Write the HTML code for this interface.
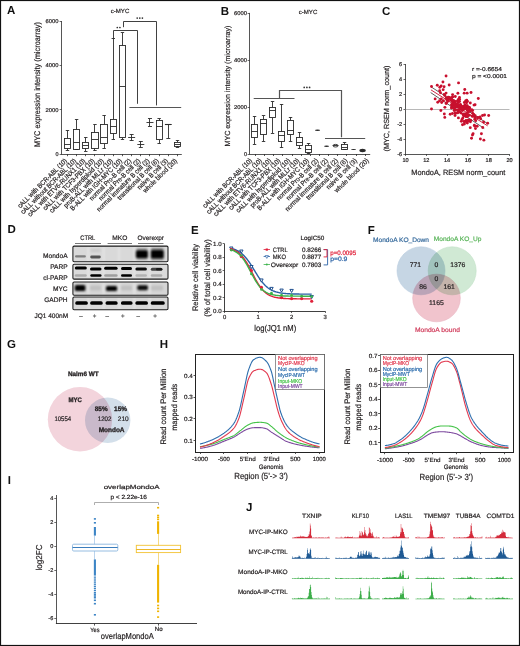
<!DOCTYPE html>
<html><head><meta charset="utf-8"><style>
html,body{margin:0;padding:0;background:#fff;overflow:hidden;}
svg{display:block;font-family:"Liberation Sans", sans-serif;will-change:transform;text-rendering:geometricPrecision;}
</style></head><body>
<svg width="520" height="646" viewBox="0 0 520 646">
<rect width="520" height="646" fill="#fff"/>
<defs>
<filter id="bl7" x="-50%" y="-80%" width="200%" height="260%"><feGaussianBlur stdDeviation="0.7"/></filter>
<filter id="bl8" x="-50%" y="-80%" width="200%" height="260%"><feGaussianBlur stdDeviation="0.8"/></filter>
<filter id="bl9" x="-50%" y="-80%" width="200%" height="260%"><feGaussianBlur stdDeviation="0.9"/></filter>
<filter id="bl10" x="-50%" y="-80%" width="200%" height="260%"><feGaussianBlur stdDeviation="1.0"/></filter>
<clipPath id="bc0"><rect x="72.9" y="246.1" width="95.1" height="15.700000000000017"/></clipPath>
<clipPath id="bc1"><rect x="72.9" y="264.2" width="95.1" height="14.900000000000034"/></clipPath>
<clipPath id="bc2"><rect x="72.9" y="282.0" width="95.1" height="13.300000000000011"/></clipPath>
<clipPath id="bc3"><rect x="72.9" y="297.0" width="95.1" height="12.699999999999989"/></clipPath>
</defs>
<rect x="0.50" y="0.50" width="519.00" height="645.00" fill="none" stroke="#111" stroke-width="1.2"/>
<text x="7.00" y="14.40" font-size="11.5" fill="#111" font-weight="bold">A</text>
<line x1="59.60" y1="154.50" x2="61.60" y2="154.50" stroke="#2b2b2b" stroke-width="0.7"/>
<text x="58.50" y="156.10" font-size="5.5" fill="#231f20" stroke="#231f20" stroke-width="0.2" text-anchor="end">0</text>
<line x1="59.60" y1="109.50" x2="61.60" y2="109.50" stroke="#2b2b2b" stroke-width="0.7"/>
<text x="58.50" y="111.70" font-size="5.5" fill="#231f20" stroke="#231f20" stroke-width="0.2" text-anchor="end" textLength="13.00" lengthAdjust="spacingAndGlyphs">2000</text>
<line x1="59.60" y1="65.50" x2="61.60" y2="65.50" stroke="#2b2b2b" stroke-width="0.7"/>
<text x="58.50" y="67.30" font-size="5.5" fill="#231f20" stroke="#231f20" stroke-width="0.2" text-anchor="end" textLength="13.00" lengthAdjust="spacingAndGlyphs">4000</text>
<line x1="59.60" y1="21.50" x2="61.60" y2="21.50" stroke="#2b2b2b" stroke-width="0.7"/>
<text x="58.50" y="22.90" font-size="5.5" fill="#231f20" stroke="#231f20" stroke-width="0.2" text-anchor="end" textLength="13.00" lengthAdjust="spacingAndGlyphs">6000</text>
<text x="39.60" y="84.50" font-size="8.2" fill="#231f20" stroke="#231f20" stroke-width="0.2" text-anchor="middle" textLength="125.00" lengthAdjust="spacingAndGlyphs" transform="rotate(-90 39.60 84.50)">MYC expression intensity (microarray)</text>
<text x="120.00" y="13.30" font-size="6.0" fill="#231f20" stroke="#231f20" stroke-width="0.2" text-anchor="middle" textLength="18.60" lengthAdjust="spacingAndGlyphs">c-MYC</text>
<line x1="61.50" y1="21.00" x2="61.50" y2="154.60" stroke="#2b2b2b" stroke-width="0.8"/>
<line x1="61.20" y1="154.50" x2="181.80" y2="154.50" stroke="#2b2b2b" stroke-width="0.8"/>
<line x1="67.50" y1="154.20" x2="67.50" y2="156.20" stroke="#2b2b2b" stroke-width="0.8"/>
<line x1="76.50" y1="154.20" x2="76.50" y2="156.20" stroke="#2b2b2b" stroke-width="0.8"/>
<line x1="85.50" y1="154.20" x2="85.50" y2="156.20" stroke="#2b2b2b" stroke-width="0.8"/>
<line x1="94.50" y1="154.20" x2="94.50" y2="156.20" stroke="#2b2b2b" stroke-width="0.8"/>
<line x1="104.50" y1="154.20" x2="104.50" y2="156.20" stroke="#2b2b2b" stroke-width="0.8"/>
<line x1="113.50" y1="154.20" x2="113.50" y2="156.20" stroke="#2b2b2b" stroke-width="0.8"/>
<line x1="122.50" y1="154.20" x2="122.50" y2="156.20" stroke="#2b2b2b" stroke-width="0.8"/>
<line x1="131.50" y1="154.20" x2="131.50" y2="156.20" stroke="#2b2b2b" stroke-width="0.8"/>
<line x1="140.50" y1="154.20" x2="140.50" y2="156.20" stroke="#2b2b2b" stroke-width="0.8"/>
<line x1="149.50" y1="154.20" x2="149.50" y2="156.20" stroke="#2b2b2b" stroke-width="0.8"/>
<line x1="159.50" y1="154.20" x2="159.50" y2="156.20" stroke="#2b2b2b" stroke-width="0.8"/>
<line x1="168.50" y1="154.20" x2="168.50" y2="156.20" stroke="#2b2b2b" stroke-width="0.8"/>
<line x1="177.50" y1="154.20" x2="177.50" y2="156.20" stroke="#2b2b2b" stroke-width="0.8"/>
<line x1="67.50" y1="130.40" x2="67.50" y2="138.20" stroke="#2b2b2b" stroke-width="0.9"/>
<line x1="67.50" y1="148.10" x2="67.50" y2="150.30" stroke="#2b2b2b" stroke-width="0.9"/>
<line x1="65.75" y1="130.50" x2="69.15" y2="130.50" stroke="#2b2b2b" stroke-width="0.9"/>
<line x1="65.75" y1="150.50" x2="69.15" y2="150.50" stroke="#2b2b2b" stroke-width="0.9"/>
<rect x="64.50" y="138.50" width="6.00" height="10.00" fill="none" stroke="#2b2b2b" stroke-width="0.9"/>
<line x1="64.30" y1="144.50" x2="70.60" y2="144.50" stroke="#2b2b2b" stroke-width="0.9"/>
<line x1="76.50" y1="119.30" x2="76.50" y2="129.40" stroke="#2b2b2b" stroke-width="0.9"/>
<line x1="76.50" y1="149.50" x2="76.50" y2="149.90" stroke="#2b2b2b" stroke-width="0.9"/>
<line x1="74.92" y1="119.50" x2="78.32" y2="119.50" stroke="#2b2b2b" stroke-width="0.9"/>
<line x1="74.92" y1="149.50" x2="78.32" y2="149.50" stroke="#2b2b2b" stroke-width="0.9"/>
<rect x="73.50" y="129.50" width="6.00" height="20.00" fill="none" stroke="#2b2b2b" stroke-width="0.9"/>
<line x1="73.47" y1="142.50" x2="79.77" y2="142.50" stroke="#2b2b2b" stroke-width="0.9"/>
<line x1="85.50" y1="137.40" x2="85.50" y2="142.50" stroke="#2b2b2b" stroke-width="0.9"/>
<line x1="85.50" y1="148.30" x2="85.50" y2="151.20" stroke="#2b2b2b" stroke-width="0.9"/>
<line x1="84.09" y1="137.50" x2="87.49" y2="137.50" stroke="#2b2b2b" stroke-width="0.9"/>
<line x1="84.09" y1="151.50" x2="87.49" y2="151.50" stroke="#2b2b2b" stroke-width="0.9"/>
<rect x="82.50" y="142.50" width="6.00" height="6.00" fill="none" stroke="#2b2b2b" stroke-width="0.9"/>
<line x1="82.64" y1="145.50" x2="88.94" y2="145.50" stroke="#2b2b2b" stroke-width="0.9"/>
<line x1="94.50" y1="124.70" x2="94.50" y2="132.40" stroke="#2b2b2b" stroke-width="0.9"/>
<line x1="94.50" y1="148.50" x2="94.50" y2="150.60" stroke="#2b2b2b" stroke-width="0.9"/>
<line x1="93.26" y1="124.50" x2="96.66" y2="124.50" stroke="#2b2b2b" stroke-width="0.9"/>
<line x1="93.26" y1="150.50" x2="96.66" y2="150.50" stroke="#2b2b2b" stroke-width="0.9"/>
<rect x="91.50" y="132.50" width="7.00" height="16.00" fill="none" stroke="#2b2b2b" stroke-width="0.9"/>
<line x1="91.81" y1="139.50" x2="98.11" y2="139.50" stroke="#2b2b2b" stroke-width="0.9"/>
<line x1="104.50" y1="115.30" x2="104.50" y2="124.30" stroke="#2b2b2b" stroke-width="0.9"/>
<line x1="104.50" y1="143.60" x2="104.50" y2="148.10" stroke="#2b2b2b" stroke-width="0.9"/>
<line x1="102.43" y1="115.50" x2="105.83" y2="115.50" stroke="#2b2b2b" stroke-width="0.9"/>
<line x1="102.43" y1="148.50" x2="105.83" y2="148.50" stroke="#2b2b2b" stroke-width="0.9"/>
<rect x="100.50" y="124.50" width="7.00" height="19.00" fill="none" stroke="#2b2b2b" stroke-width="0.9"/>
<line x1="100.98" y1="137.50" x2="107.28" y2="137.50" stroke="#2b2b2b" stroke-width="0.9"/>
<line x1="113.50" y1="38.50" x2="113.50" y2="119.30" stroke="#2b2b2b" stroke-width="0.9"/>
<line x1="113.50" y1="133.30" x2="113.50" y2="139.10" stroke="#2b2b2b" stroke-width="0.9"/>
<line x1="111.60" y1="38.50" x2="115.00" y2="38.50" stroke="#2b2b2b" stroke-width="0.9"/>
<line x1="111.60" y1="139.50" x2="115.00" y2="139.50" stroke="#2b2b2b" stroke-width="0.9"/>
<rect x="110.50" y="119.50" width="6.00" height="14.00" fill="none" stroke="#2b2b2b" stroke-width="0.9"/>
<line x1="110.15" y1="126.50" x2="116.45" y2="126.50" stroke="#2b2b2b" stroke-width="0.9"/>
<line x1="122.50" y1="32.70" x2="122.50" y2="45.60" stroke="#2b2b2b" stroke-width="0.9"/>
<line x1="122.50" y1="137.80" x2="122.50" y2="139.50" stroke="#2b2b2b" stroke-width="0.9"/>
<line x1="120.77" y1="32.50" x2="124.17" y2="32.50" stroke="#2b2b2b" stroke-width="0.9"/>
<line x1="120.77" y1="139.50" x2="124.17" y2="139.50" stroke="#2b2b2b" stroke-width="0.9"/>
<rect x="119.50" y="45.50" width="6.00" height="92.00" fill="none" stroke="#2b2b2b" stroke-width="0.9"/>
<line x1="119.32" y1="86.50" x2="125.62" y2="86.50" stroke="#2b2b2b" stroke-width="0.9"/>
<line x1="131.50" y1="134.50" x2="131.50" y2="140.90" stroke="#2b2b2b" stroke-width="0.9"/>
<line x1="129.64" y1="134.50" x2="133.64" y2="134.50" stroke="#2b2b2b" stroke-width="0.9"/>
<line x1="129.64" y1="140.50" x2="133.64" y2="140.50" stroke="#2b2b2b" stroke-width="0.9"/>
<line x1="128.14" y1="137.50" x2="135.14" y2="137.50" stroke="#2b2b2b" stroke-width="0.9"/>
<line x1="140.50" y1="141.20" x2="140.50" y2="147.20" stroke="#2b2b2b" stroke-width="0.9"/>
<line x1="138.81" y1="141.50" x2="142.81" y2="141.50" stroke="#2b2b2b" stroke-width="0.9"/>
<line x1="138.81" y1="147.50" x2="142.81" y2="147.50" stroke="#2b2b2b" stroke-width="0.9"/>
<line x1="137.31" y1="144.50" x2="144.31" y2="144.50" stroke="#2b2b2b" stroke-width="0.9"/>
<line x1="149.50" y1="118.70" x2="149.50" y2="126.20" stroke="#2b2b2b" stroke-width="0.9"/>
<line x1="147.98" y1="118.50" x2="151.98" y2="118.50" stroke="#2b2b2b" stroke-width="0.9"/>
<line x1="147.98" y1="126.50" x2="151.98" y2="126.50" stroke="#2b2b2b" stroke-width="0.9"/>
<line x1="146.48" y1="122.50" x2="153.48" y2="122.50" stroke="#2b2b2b" stroke-width="0.9"/>
<line x1="159.50" y1="118.70" x2="159.50" y2="120.40" stroke="#2b2b2b" stroke-width="0.9"/>
<line x1="159.50" y1="139.80" x2="159.50" y2="143.50" stroke="#2b2b2b" stroke-width="0.9"/>
<line x1="157.45" y1="118.50" x2="160.85" y2="118.50" stroke="#2b2b2b" stroke-width="0.9"/>
<line x1="157.45" y1="143.50" x2="160.85" y2="143.50" stroke="#2b2b2b" stroke-width="0.9"/>
<rect x="156.50" y="120.50" width="6.00" height="19.00" fill="none" stroke="#2b2b2b" stroke-width="0.9"/>
<line x1="156.00" y1="126.50" x2="162.30" y2="126.50" stroke="#2b2b2b" stroke-width="0.9"/>
<line x1="168.50" y1="124.40" x2="168.50" y2="138.30" stroke="#2b2b2b" stroke-width="0.9"/>
<line x1="164.92" y1="124.50" x2="171.72" y2="124.50" stroke="#2b2b2b" stroke-width="1.08"/>
<line x1="166.32" y1="138.50" x2="170.32" y2="138.50" stroke="#2b2b2b" stroke-width="0.9"/>
<line x1="177.50" y1="140.20" x2="177.50" y2="142.10" stroke="#2b2b2b" stroke-width="0.9"/>
<line x1="177.50" y1="146.00" x2="177.50" y2="147.20" stroke="#2b2b2b" stroke-width="0.9"/>
<line x1="175.79" y1="140.50" x2="179.19" y2="140.50" stroke="#2b2b2b" stroke-width="0.9"/>
<line x1="175.79" y1="147.50" x2="179.19" y2="147.50" stroke="#2b2b2b" stroke-width="0.9"/>
<rect x="174.50" y="142.50" width="6.00" height="4.00" fill="none" stroke="#2b2b2b" stroke-width="0.9"/>
<line x1="174.34" y1="144.50" x2="180.64" y2="144.50" stroke="#2b2b2b" stroke-width="0.9"/>
<path d="M113.5,38.5 V30.5 H137.5 V103.8" stroke="#2b2b2b" stroke-width="0.9" fill="none"/>
<path d="M123.5,27.2 V21.5 H156.5 V105.4" stroke="#2b2b2b" stroke-width="0.9" fill="none"/>
<line x1="129.40" y1="107.50" x2="181.20" y2="107.50" stroke="#2b2b2b" stroke-width="0.8"/>
<circle cx="117.30" cy="27.50" r="0.85" fill="#333" stroke="none" stroke-width="0.8"/>
<circle cx="119.90" cy="27.50" r="0.85" fill="#333" stroke="none" stroke-width="0.8"/>
<circle cx="137.20" cy="18.10" r="0.85" fill="#333" stroke="none" stroke-width="0.8"/>
<circle cx="139.80" cy="18.10" r="0.85" fill="#333" stroke="none" stroke-width="0.8"/>
<circle cx="142.40" cy="18.10" r="0.85" fill="#333" stroke="none" stroke-width="0.8"/>
<text x="0" y="0" font-size="6.8" fill="#231f20" stroke="#231f20" stroke-width="0.2" text-anchor="end" transform="translate(67.45 161.30) rotate(-45) scale(0.9 1)">cALL with BCR-ABL (10)</text>
<text x="0" y="0" font-size="6.8" fill="#231f20" stroke="#231f20" stroke-width="0.2" text-anchor="end" transform="translate(76.62 161.30) rotate(-45) scale(0.9 1)">cALL without BCR-ABL (10)</text>
<text x="0" y="0" font-size="6.8" fill="#231f20" stroke="#231f20" stroke-width="0.2" text-anchor="end" transform="translate(85.79 161.30) rotate(-45) scale(0.9 1)">cALL with ETV6-RUNX1 (10)</text>
<text x="0" y="0" font-size="6.8" fill="#231f20" stroke="#231f20" stroke-width="0.2" text-anchor="end" transform="translate(94.96 161.30) rotate(-45) scale(0.9 1)">cALL with TCF3-PBX (10)</text>
<text x="0" y="0" font-size="6.8" fill="#231f20" stroke="#231f20" stroke-width="0.2" text-anchor="end" transform="translate(104.13 161.30) rotate(-45) scale(0.9 1)">cALL with hyperdiploid (10)</text>
<text x="0" y="0" font-size="6.8" fill="#231f20" stroke="#231f20" stroke-width="0.2" text-anchor="end" transform="translate(113.30 161.30) rotate(-45) scale(0.9 1)">proB-ALL with MLLr (10)</text>
<text x="0" y="0" font-size="6.8" fill="#231f20" stroke="#231f20" stroke-width="0.2" text-anchor="end" transform="translate(122.47 161.30) rotate(-45) scale(0.9 1)">B-ALL with IGH-MYC (10)</text>
<text x="0" y="0" font-size="6.8" fill="#231f20" stroke="#231f20" stroke-width="0.2" text-anchor="end" transform="translate(131.64 161.30) rotate(-45) scale(0.9 1)">normal Pro-B cell (2)</text>
<text x="0" y="0" font-size="6.8" fill="#231f20" stroke="#231f20" stroke-width="0.2" text-anchor="end" transform="translate(140.81 161.30) rotate(-45) scale(0.9 1)">normal Pre-B cell (2)</text>
<text x="0" y="0" font-size="6.8" fill="#231f20" stroke="#231f20" stroke-width="0.2" text-anchor="end" transform="translate(149.98 161.30) rotate(-45) scale(0.9 1)">normal immature B cell (2)</text>
<text x="0" y="0" font-size="6.8" fill="#231f20" stroke="#231f20" stroke-width="0.2" text-anchor="end" transform="translate(159.15 161.30) rotate(-45) scale(0.9 1)">transitional B cell (6)</text>
<text x="0" y="0" font-size="6.8" fill="#231f20" stroke="#231f20" stroke-width="0.2" text-anchor="end" transform="translate(168.32 161.30) rotate(-45) scale(0.9 1)">naive B cell (3)</text>
<text x="0" y="0" font-size="6.8" fill="#231f20" stroke="#231f20" stroke-width="0.2" text-anchor="end" transform="translate(177.49 161.30) rotate(-45) scale(0.9 1)">whole blood (20)</text>
<text x="220.80" y="14.90" font-size="11.5" fill="#111" font-weight="bold">B</text>
<line x1="247.60" y1="154.50" x2="249.60" y2="154.50" stroke="#2b2b2b" stroke-width="0.7"/>
<text x="247.00" y="155.90" font-size="5.5" fill="#231f20" stroke="#231f20" stroke-width="0.2" text-anchor="end">0</text>
<line x1="247.60" y1="107.50" x2="249.60" y2="107.50" stroke="#2b2b2b" stroke-width="0.7"/>
<text x="247.00" y="108.90" font-size="5.5" fill="#231f20" stroke="#231f20" stroke-width="0.2" text-anchor="end" textLength="13.00" lengthAdjust="spacingAndGlyphs">2000</text>
<line x1="247.60" y1="60.50" x2="249.60" y2="60.50" stroke="#2b2b2b" stroke-width="0.7"/>
<text x="247.00" y="61.90" font-size="5.5" fill="#231f20" stroke="#231f20" stroke-width="0.2" text-anchor="end" textLength="13.00" lengthAdjust="spacingAndGlyphs">4000</text>
<line x1="247.60" y1="13.50" x2="249.60" y2="13.50" stroke="#2b2b2b" stroke-width="0.7"/>
<text x="247.00" y="14.90" font-size="5.5" fill="#231f20" stroke="#231f20" stroke-width="0.2" text-anchor="end" textLength="13.00" lengthAdjust="spacingAndGlyphs">6000</text>
<text x="230.30" y="86.00" font-size="7.4" fill="#231f20" stroke="#231f20" stroke-width="0.2" text-anchor="middle" textLength="121.00" lengthAdjust="spacingAndGlyphs" transform="rotate(-90 230.30 86.00)">MYC expression intensity (microarray)</text>
<text x="308.00" y="14.00" font-size="6.0" fill="#231f20" stroke="#231f20" stroke-width="0.2" text-anchor="middle" textLength="18.60" lengthAdjust="spacingAndGlyphs">c-MYC</text>
<line x1="249.50" y1="12.90" x2="249.50" y2="154.40" stroke="#2b2b2b" stroke-width="0.8"/>
<line x1="249.20" y1="154.50" x2="370.20" y2="154.50" stroke="#2b2b2b" stroke-width="0.8"/>
<line x1="255.50" y1="154.00" x2="255.50" y2="156.00" stroke="#2b2b2b" stroke-width="0.8"/>
<line x1="264.50" y1="154.00" x2="264.50" y2="156.00" stroke="#2b2b2b" stroke-width="0.8"/>
<line x1="273.50" y1="154.00" x2="273.50" y2="156.00" stroke="#2b2b2b" stroke-width="0.8"/>
<line x1="282.50" y1="154.00" x2="282.50" y2="156.00" stroke="#2b2b2b" stroke-width="0.8"/>
<line x1="292.50" y1="154.00" x2="292.50" y2="156.00" stroke="#2b2b2b" stroke-width="0.8"/>
<line x1="301.50" y1="154.00" x2="301.50" y2="156.00" stroke="#2b2b2b" stroke-width="0.8"/>
<line x1="310.50" y1="154.00" x2="310.50" y2="156.00" stroke="#2b2b2b" stroke-width="0.8"/>
<line x1="319.50" y1="154.00" x2="319.50" y2="156.00" stroke="#2b2b2b" stroke-width="0.8"/>
<line x1="328.50" y1="154.00" x2="328.50" y2="156.00" stroke="#2b2b2b" stroke-width="0.8"/>
<line x1="337.50" y1="154.00" x2="337.50" y2="156.00" stroke="#2b2b2b" stroke-width="0.8"/>
<line x1="346.50" y1="154.00" x2="346.50" y2="156.00" stroke="#2b2b2b" stroke-width="0.8"/>
<line x1="356.50" y1="154.00" x2="356.50" y2="156.00" stroke="#2b2b2b" stroke-width="0.8"/>
<line x1="365.50" y1="154.00" x2="365.50" y2="156.00" stroke="#2b2b2b" stroke-width="0.8"/>
<line x1="254.50" y1="116.30" x2="254.50" y2="124.60" stroke="#2b2b2b" stroke-width="0.9"/>
<line x1="254.50" y1="137.40" x2="254.50" y2="144.10" stroke="#2b2b2b" stroke-width="0.9"/>
<line x1="252.85" y1="116.50" x2="256.25" y2="116.50" stroke="#2b2b2b" stroke-width="0.9"/>
<line x1="252.85" y1="144.50" x2="256.25" y2="144.50" stroke="#2b2b2b" stroke-width="0.9"/>
<rect x="251.50" y="124.50" width="6.00" height="13.00" fill="none" stroke="#2b2b2b" stroke-width="0.9"/>
<line x1="251.40" y1="131.50" x2="257.70" y2="131.50" stroke="#2b2b2b" stroke-width="0.9"/>
<line x1="263.50" y1="115.90" x2="263.50" y2="119.20" stroke="#2b2b2b" stroke-width="0.9"/>
<line x1="263.50" y1="134.30" x2="263.50" y2="141.40" stroke="#2b2b2b" stroke-width="0.9"/>
<line x1="261.85" y1="115.50" x2="265.25" y2="115.50" stroke="#2b2b2b" stroke-width="0.9"/>
<line x1="261.85" y1="141.50" x2="265.25" y2="141.50" stroke="#2b2b2b" stroke-width="0.9"/>
<rect x="260.50" y="119.50" width="6.00" height="15.00" fill="none" stroke="#2b2b2b" stroke-width="0.9"/>
<line x1="260.40" y1="123.50" x2="266.70" y2="123.50" stroke="#2b2b2b" stroke-width="0.9"/>
<line x1="272.50" y1="101.50" x2="272.50" y2="107.80" stroke="#2b2b2b" stroke-width="0.9"/>
<line x1="272.50" y1="117.90" x2="272.50" y2="133.00" stroke="#2b2b2b" stroke-width="0.9"/>
<line x1="270.85" y1="101.50" x2="274.25" y2="101.50" stroke="#2b2b2b" stroke-width="0.9"/>
<line x1="270.85" y1="133.50" x2="274.25" y2="133.50" stroke="#2b2b2b" stroke-width="0.9"/>
<rect x="269.50" y="107.50" width="6.00" height="10.00" fill="none" stroke="#2b2b2b" stroke-width="0.9"/>
<line x1="269.40" y1="110.50" x2="275.70" y2="110.50" stroke="#2b2b2b" stroke-width="0.9"/>
<line x1="281.50" y1="104.20" x2="281.50" y2="131.60" stroke="#2b2b2b" stroke-width="0.9"/>
<line x1="281.50" y1="141.20" x2="281.50" y2="147.80" stroke="#2b2b2b" stroke-width="0.9"/>
<line x1="279.85" y1="104.50" x2="283.25" y2="104.50" stroke="#2b2b2b" stroke-width="0.9"/>
<line x1="279.85" y1="147.50" x2="283.25" y2="147.50" stroke="#2b2b2b" stroke-width="0.9"/>
<rect x="278.50" y="131.50" width="6.00" height="10.00" fill="none" stroke="#2b2b2b" stroke-width="0.9"/>
<line x1="278.40" y1="135.50" x2="284.70" y2="135.50" stroke="#2b2b2b" stroke-width="0.9"/>
<line x1="290.50" y1="117.20" x2="290.50" y2="120.20" stroke="#2b2b2b" stroke-width="0.9"/>
<line x1="290.50" y1="134.40" x2="290.50" y2="141.40" stroke="#2b2b2b" stroke-width="0.9"/>
<line x1="288.85" y1="117.50" x2="292.25" y2="117.50" stroke="#2b2b2b" stroke-width="0.9"/>
<line x1="288.85" y1="141.50" x2="292.25" y2="141.50" stroke="#2b2b2b" stroke-width="0.9"/>
<rect x="287.50" y="120.50" width="6.00" height="14.00" fill="none" stroke="#2b2b2b" stroke-width="0.9"/>
<line x1="287.40" y1="130.50" x2="293.70" y2="130.50" stroke="#2b2b2b" stroke-width="0.9"/>
<line x1="299.50" y1="132.30" x2="299.50" y2="137.80" stroke="#2b2b2b" stroke-width="0.9"/>
<line x1="299.50" y1="145.10" x2="299.50" y2="148.20" stroke="#2b2b2b" stroke-width="0.9"/>
<line x1="297.85" y1="132.50" x2="301.25" y2="132.50" stroke="#2b2b2b" stroke-width="0.9"/>
<line x1="297.85" y1="148.50" x2="301.25" y2="148.50" stroke="#2b2b2b" stroke-width="0.9"/>
<rect x="296.50" y="137.50" width="6.00" height="8.00" fill="none" stroke="#2b2b2b" stroke-width="0.9"/>
<line x1="296.40" y1="142.50" x2="302.70" y2="142.50" stroke="#2b2b2b" stroke-width="0.9"/>
<line x1="308.50" y1="143.20" x2="308.50" y2="145.50" stroke="#2b2b2b" stroke-width="0.9"/>
<line x1="308.50" y1="152.60" x2="308.50" y2="153.60" stroke="#2b2b2b" stroke-width="0.9"/>
<line x1="306.85" y1="143.50" x2="310.25" y2="143.50" stroke="#2b2b2b" stroke-width="0.9"/>
<line x1="306.85" y1="153.50" x2="310.25" y2="153.50" stroke="#2b2b2b" stroke-width="0.9"/>
<rect x="305.50" y="145.50" width="6.00" height="7.00" fill="none" stroke="#2b2b2b" stroke-width="0.9"/>
<line x1="305.40" y1="149.50" x2="311.70" y2="149.50" stroke="#2b2b2b" stroke-width="0.9"/>
<ellipse cx="317.55" cy="130.30" rx="2.60" ry="0.75" fill="#2b2b2b"/>
<ellipse cx="326.55" cy="146.20" rx="2.50" ry="0.80" fill="#2b2b2b"/>
<ellipse cx="335.55" cy="145.70" rx="2.60" ry="1.30" fill="none" stroke="#2b2b2b" stroke-width="0.9"/>
<line x1="332.95" y1="145.50" x2="338.15" y2="145.50" stroke="#2b2b2b" stroke-width="0.9"/>
<line x1="344.50" y1="142.30" x2="344.50" y2="144.60" stroke="#2b2b2b" stroke-width="0.9"/>
<line x1="344.50" y1="149.60" x2="344.50" y2="149.80" stroke="#2b2b2b" stroke-width="0.9"/>
<line x1="342.85" y1="142.50" x2="346.25" y2="142.50" stroke="#2b2b2b" stroke-width="0.9"/>
<line x1="342.85" y1="149.50" x2="346.25" y2="149.50" stroke="#2b2b2b" stroke-width="0.9"/>
<rect x="341.50" y="144.50" width="6.00" height="5.00" fill="none" stroke="#2b2b2b" stroke-width="0.9"/>
<line x1="341.40" y1="147.50" x2="347.70" y2="147.50" stroke="#2b2b2b" stroke-width="0.9"/>
<ellipse cx="353.55" cy="149.50" rx="2.50" ry="0.50" fill="#2b2b2b"/>
<ellipse cx="362.55" cy="150.50" rx="3.20" ry="1.70" fill="#2b2b2b"/>
<line x1="253.70" y1="98.50" x2="294.50" y2="98.50" stroke="#555" stroke-width="1.2"/>
<path d="M279.5,98.8 V90.5 H341.5 V137.2" stroke="#555" stroke-width="1.2" fill="none"/>
<line x1="325.00" y1="138.50" x2="365.20" y2="138.50" stroke="#555" stroke-width="1.2"/>
<circle cx="304.20" cy="87.40" r="0.85" fill="#333" stroke="none" stroke-width="0.8"/>
<circle cx="306.90" cy="87.40" r="0.85" fill="#333" stroke="none" stroke-width="0.8"/>
<circle cx="309.60" cy="87.40" r="0.85" fill="#333" stroke="none" stroke-width="0.8"/>
<text x="0" y="0" font-size="6.8" fill="#231f20" stroke="#231f20" stroke-width="0.2" text-anchor="end" transform="translate(252.50 161.10) rotate(-45) scale(0.9 1)">cALL with BCR-ABL (10)</text>
<text x="0" y="0" font-size="6.8" fill="#231f20" stroke="#231f20" stroke-width="0.2" text-anchor="end" transform="translate(262.30 161.10) rotate(-45) scale(0.9 1)">cALL without BCR-ABL (10)</text>
<text x="0" y="0" font-size="6.8" fill="#231f20" stroke="#231f20" stroke-width="0.2" text-anchor="end" transform="translate(271.60 161.10) rotate(-45) scale(0.9 1)">cALL with ETV6-RUNX1 (10)</text>
<text x="0" y="0" font-size="6.8" fill="#231f20" stroke="#231f20" stroke-width="0.2" text-anchor="end" transform="translate(280.80 161.10) rotate(-45) scale(0.9 1)">cALL with TCF3-PBX (10)</text>
<text x="0" y="0" font-size="6.8" fill="#231f20" stroke="#231f20" stroke-width="0.2" text-anchor="end" transform="translate(290.60 161.10) rotate(-45) scale(0.9 1)">cALL with hyperdiploid (10)</text>
<text x="0" y="0" font-size="6.8" fill="#231f20" stroke="#231f20" stroke-width="0.2" text-anchor="end" transform="translate(299.80 161.10) rotate(-45) scale(0.9 1)">proB-ALL with MLLr (10)</text>
<text x="0" y="0" font-size="6.8" fill="#231f20" stroke="#231f20" stroke-width="0.2" text-anchor="end" transform="translate(309.30 161.10) rotate(-45) scale(0.9 1)">B-ALL with IGH-MYC (10)</text>
<text x="0" y="0" font-size="6.8" fill="#231f20" stroke="#231f20" stroke-width="0.2" text-anchor="end" transform="translate(318.80 161.10) rotate(-45) scale(0.9 1)">normal Pro-B cell (2)</text>
<text x="0" y="0" font-size="6.8" fill="#231f20" stroke="#231f20" stroke-width="0.2" text-anchor="end" transform="translate(328.40 161.10) rotate(-45) scale(0.9 1)">normal Pre-B cell (2)</text>
<text x="0" y="0" font-size="6.8" fill="#231f20" stroke="#231f20" stroke-width="0.2" text-anchor="end" transform="translate(338.40 161.10) rotate(-45) scale(0.9 1)">normal immature B cell (2)</text>
<text x="0" y="0" font-size="6.8" fill="#231f20" stroke="#231f20" stroke-width="0.2" text-anchor="end" transform="translate(347.90 161.10) rotate(-45) scale(0.9 1)">transitional B cell (6)</text>
<text x="0" y="0" font-size="6.8" fill="#231f20" stroke="#231f20" stroke-width="0.2" text-anchor="end" transform="translate(357.40 161.10) rotate(-45) scale(0.9 1)">naive B cell (3)</text>
<text x="0" y="0" font-size="6.8" fill="#231f20" stroke="#231f20" stroke-width="0.2" text-anchor="end" transform="translate(369.10 161.10) rotate(-45) scale(0.9 1)">whole blood (20)</text>
<text x="381.90" y="14.90" font-size="11.5" fill="#111" font-weight="bold">C</text>
<line x1="405.50" y1="64.00" x2="405.50" y2="154.40" stroke="#2b2b2b" stroke-width="0.8"/>
<line x1="405.10" y1="154.50" x2="509.50" y2="154.50" stroke="#2b2b2b" stroke-width="0.8"/>
<line x1="403.50" y1="154.50" x2="405.50" y2="154.50" stroke="#2b2b2b" stroke-width="0.7"/>
<text x="402.20" y="155.90" font-size="5.6" fill="#231f20" stroke="#231f20" stroke-width="0.2" text-anchor="end">-6</text>
<line x1="403.50" y1="139.50" x2="405.50" y2="139.50" stroke="#2b2b2b" stroke-width="0.7"/>
<text x="402.20" y="140.90" font-size="5.6" fill="#231f20" stroke="#231f20" stroke-width="0.2" text-anchor="end">-4</text>
<line x1="403.50" y1="124.50" x2="405.50" y2="124.50" stroke="#2b2b2b" stroke-width="0.7"/>
<text x="402.20" y="125.90" font-size="5.6" fill="#231f20" stroke="#231f20" stroke-width="0.2" text-anchor="end">-2</text>
<line x1="403.50" y1="109.50" x2="405.50" y2="109.50" stroke="#2b2b2b" stroke-width="0.7"/>
<text x="402.20" y="110.90" font-size="5.6" fill="#231f20" stroke="#231f20" stroke-width="0.2" text-anchor="end">0</text>
<line x1="403.50" y1="94.50" x2="405.50" y2="94.50" stroke="#2b2b2b" stroke-width="0.7"/>
<text x="402.20" y="95.90" font-size="5.6" fill="#231f20" stroke="#231f20" stroke-width="0.2" text-anchor="end">2</text>
<line x1="403.50" y1="79.50" x2="405.50" y2="79.50" stroke="#2b2b2b" stroke-width="0.7"/>
<text x="402.20" y="80.90" font-size="5.6" fill="#231f20" stroke="#231f20" stroke-width="0.2" text-anchor="end">4</text>
<line x1="403.50" y1="64.50" x2="405.50" y2="64.50" stroke="#2b2b2b" stroke-width="0.7"/>
<text x="402.20" y="65.90" font-size="5.6" fill="#231f20" stroke="#231f20" stroke-width="0.2" text-anchor="end">6</text>
<line x1="405.50" y1="154.00" x2="405.50" y2="156.00" stroke="#2b2b2b" stroke-width="0.7"/>
<text x="405.50" y="162.00" font-size="5.6" fill="#231f20" stroke="#231f20" stroke-width="0.2" text-anchor="middle">10</text>
<line x1="426.50" y1="154.00" x2="426.50" y2="156.00" stroke="#2b2b2b" stroke-width="0.7"/>
<text x="426.30" y="162.00" font-size="5.6" fill="#231f20" stroke="#231f20" stroke-width="0.2" text-anchor="middle">12</text>
<line x1="447.50" y1="154.00" x2="447.50" y2="156.00" stroke="#2b2b2b" stroke-width="0.7"/>
<text x="447.10" y="162.00" font-size="5.6" fill="#231f20" stroke="#231f20" stroke-width="0.2" text-anchor="middle">14</text>
<line x1="467.50" y1="154.00" x2="467.50" y2="156.00" stroke="#2b2b2b" stroke-width="0.7"/>
<text x="467.90" y="162.00" font-size="5.6" fill="#231f20" stroke="#231f20" stroke-width="0.2" text-anchor="middle">16</text>
<line x1="488.50" y1="154.00" x2="488.50" y2="156.00" stroke="#2b2b2b" stroke-width="0.7"/>
<text x="488.70" y="162.00" font-size="5.6" fill="#231f20" stroke="#231f20" stroke-width="0.2" text-anchor="middle">18</text>
<line x1="509.50" y1="154.00" x2="509.50" y2="156.00" stroke="#2b2b2b" stroke-width="0.7"/>
<text x="509.50" y="162.00" font-size="5.6" fill="#231f20" stroke="#231f20" stroke-width="0.2" text-anchor="middle">20</text>
<line x1="405.50" y1="109.50" x2="509.50" y2="109.50" stroke="#9a9a9a" stroke-width="0.7"/>
<text x="388.80" y="108.50" font-size="7.4" fill="#231f20" stroke="#231f20" stroke-width="0.2" text-anchor="middle" textLength="86.00" lengthAdjust="spacingAndGlyphs" transform="rotate(-90 388.80 108.50)">(MYC, RSEM norm_count)</text>
<text x="458.30" y="175.30" font-size="7.6" fill="#231f20" stroke="#231f20" stroke-width="0.2" text-anchor="middle" textLength="94.00" lengthAdjust="spacingAndGlyphs">MondoA, RESM norm_count</text>
<text x="472.00" y="70.60" font-size="5.7" fill="#231f20" stroke="#231f20" stroke-width="0.2" textLength="30.00" lengthAdjust="spacingAndGlyphs">r =-0.6654</text>
<text x="472.00" y="78.20" font-size="5.7" fill="#231f20" stroke="#231f20" stroke-width="0.2" textLength="35.00" lengthAdjust="spacingAndGlyphs">p = &lt;0.0001</text>
<line x1="430.67" y1="92.58" x2="484.23" y2="128.50" stroke="#2a2a2a" stroke-width="0.75"/>
<line x1="430.98" y1="86.80" x2="486.93" y2="123.17" stroke="#2a2a2a" stroke-width="0.75"/>
<line x1="430.98" y1="89.88" x2="487.66" y2="125.88" stroke="#c8102e" stroke-width="0.9"/>
<circle cx="460.99" cy="108.87" r="1.45" fill="#c8102e" stroke="none" stroke-width="0.8"/>
<circle cx="475.47" cy="128.61" r="1.45" fill="#c8102e" stroke="none" stroke-width="0.8"/>
<circle cx="473.99" cy="105.09" r="1.45" fill="#c8102e" stroke="none" stroke-width="0.8"/>
<circle cx="455.05" cy="115.44" r="1.45" fill="#c8102e" stroke="none" stroke-width="0.8"/>
<circle cx="457.37" cy="103.39" r="1.45" fill="#c8102e" stroke="none" stroke-width="0.8"/>
<circle cx="454.86" cy="101.36" r="1.45" fill="#c8102e" stroke="none" stroke-width="0.8"/>
<circle cx="466.84" cy="122.42" r="1.45" fill="#c8102e" stroke="none" stroke-width="0.8"/>
<circle cx="460.01" cy="106.27" r="1.45" fill="#c8102e" stroke="none" stroke-width="0.8"/>
<circle cx="468.78" cy="107.13" r="1.45" fill="#c8102e" stroke="none" stroke-width="0.8"/>
<circle cx="440.45" cy="92.73" r="1.45" fill="#c8102e" stroke="none" stroke-width="0.8"/>
<circle cx="477.73" cy="117.78" r="1.45" fill="#c8102e" stroke="none" stroke-width="0.8"/>
<circle cx="459.57" cy="101.61" r="1.45" fill="#c8102e" stroke="none" stroke-width="0.8"/>
<circle cx="468.05" cy="112.31" r="1.45" fill="#c8102e" stroke="none" stroke-width="0.8"/>
<circle cx="459.13" cy="105.47" r="1.45" fill="#c8102e" stroke="none" stroke-width="0.8"/>
<circle cx="456.48" cy="106.91" r="1.45" fill="#c8102e" stroke="none" stroke-width="0.8"/>
<circle cx="465.68" cy="107.63" r="1.45" fill="#c8102e" stroke="none" stroke-width="0.8"/>
<circle cx="469.62" cy="120.75" r="1.45" fill="#c8102e" stroke="none" stroke-width="0.8"/>
<circle cx="458.41" cy="101.94" r="1.45" fill="#c8102e" stroke="none" stroke-width="0.8"/>
<circle cx="458.95" cy="111.04" r="1.45" fill="#c8102e" stroke="none" stroke-width="0.8"/>
<circle cx="468.11" cy="120.80" r="1.45" fill="#c8102e" stroke="none" stroke-width="0.8"/>
<circle cx="451.12" cy="100.19" r="1.45" fill="#c8102e" stroke="none" stroke-width="0.8"/>
<circle cx="444.08" cy="86.76" r="1.45" fill="#c8102e" stroke="none" stroke-width="0.8"/>
<circle cx="464.93" cy="104.93" r="1.45" fill="#c8102e" stroke="none" stroke-width="0.8"/>
<circle cx="453.30" cy="107.52" r="1.45" fill="#c8102e" stroke="none" stroke-width="0.8"/>
<circle cx="439.65" cy="90.67" r="1.45" fill="#c8102e" stroke="none" stroke-width="0.8"/>
<circle cx="451.73" cy="106.11" r="1.45" fill="#c8102e" stroke="none" stroke-width="0.8"/>
<circle cx="455.51" cy="106.28" r="1.45" fill="#c8102e" stroke="none" stroke-width="0.8"/>
<circle cx="447.59" cy="99.81" r="1.45" fill="#c8102e" stroke="none" stroke-width="0.8"/>
<circle cx="444.32" cy="113.98" r="1.45" fill="#c8102e" stroke="none" stroke-width="0.8"/>
<circle cx="461.02" cy="107.65" r="1.45" fill="#c8102e" stroke="none" stroke-width="0.8"/>
<circle cx="470.42" cy="121.85" r="1.45" fill="#c8102e" stroke="none" stroke-width="0.8"/>
<circle cx="458.07" cy="111.78" r="1.45" fill="#c8102e" stroke="none" stroke-width="0.8"/>
<circle cx="452.50" cy="113.48" r="1.45" fill="#c8102e" stroke="none" stroke-width="0.8"/>
<circle cx="464.82" cy="121.59" r="1.45" fill="#c8102e" stroke="none" stroke-width="0.8"/>
<circle cx="468.45" cy="120.02" r="1.45" fill="#c8102e" stroke="none" stroke-width="0.8"/>
<circle cx="457.34" cy="101.03" r="1.45" fill="#c8102e" stroke="none" stroke-width="0.8"/>
<circle cx="466.57" cy="101.21" r="1.45" fill="#c8102e" stroke="none" stroke-width="0.8"/>
<circle cx="472.01" cy="116.08" r="1.45" fill="#c8102e" stroke="none" stroke-width="0.8"/>
<circle cx="458.36" cy="99.88" r="1.45" fill="#c8102e" stroke="none" stroke-width="0.8"/>
<circle cx="451.74" cy="104.83" r="1.45" fill="#c8102e" stroke="none" stroke-width="0.8"/>
<circle cx="464.42" cy="124.00" r="1.45" fill="#c8102e" stroke="none" stroke-width="0.8"/>
<circle cx="463.32" cy="109.39" r="1.45" fill="#c8102e" stroke="none" stroke-width="0.8"/>
<circle cx="472.62" cy="113.29" r="1.45" fill="#c8102e" stroke="none" stroke-width="0.8"/>
<circle cx="446.59" cy="102.68" r="1.45" fill="#c8102e" stroke="none" stroke-width="0.8"/>
<circle cx="453.40" cy="102.06" r="1.45" fill="#c8102e" stroke="none" stroke-width="0.8"/>
<circle cx="451.47" cy="99.01" r="1.45" fill="#c8102e" stroke="none" stroke-width="0.8"/>
<circle cx="441.68" cy="102.50" r="1.45" fill="#c8102e" stroke="none" stroke-width="0.8"/>
<circle cx="462.00" cy="119.53" r="1.45" fill="#c8102e" stroke="none" stroke-width="0.8"/>
<circle cx="466.38" cy="113.84" r="1.45" fill="#c8102e" stroke="none" stroke-width="0.8"/>
<circle cx="452.55" cy="104.99" r="1.45" fill="#c8102e" stroke="none" stroke-width="0.8"/>
<circle cx="475.75" cy="120.67" r="1.45" fill="#c8102e" stroke="none" stroke-width="0.8"/>
<circle cx="469.60" cy="107.72" r="1.45" fill="#c8102e" stroke="none" stroke-width="0.8"/>
<circle cx="467.47" cy="101.38" r="1.45" fill="#c8102e" stroke="none" stroke-width="0.8"/>
<circle cx="465.01" cy="114.28" r="1.45" fill="#c8102e" stroke="none" stroke-width="0.8"/>
<circle cx="471.06" cy="110.59" r="1.45" fill="#c8102e" stroke="none" stroke-width="0.8"/>
<circle cx="446.07" cy="93.10" r="1.45" fill="#c8102e" stroke="none" stroke-width="0.8"/>
<circle cx="467.32" cy="108.13" r="1.45" fill="#c8102e" stroke="none" stroke-width="0.8"/>
<circle cx="467.20" cy="105.79" r="1.45" fill="#c8102e" stroke="none" stroke-width="0.8"/>
<circle cx="441.32" cy="99.06" r="1.45" fill="#c8102e" stroke="none" stroke-width="0.8"/>
<circle cx="464.41" cy="106.10" r="1.45" fill="#c8102e" stroke="none" stroke-width="0.8"/>
<circle cx="457.89" cy="93.28" r="1.45" fill="#c8102e" stroke="none" stroke-width="0.8"/>
<circle cx="469.15" cy="108.68" r="1.45" fill="#c8102e" stroke="none" stroke-width="0.8"/>
<circle cx="455.83" cy="109.83" r="1.45" fill="#c8102e" stroke="none" stroke-width="0.8"/>
<circle cx="460.42" cy="104.46" r="1.45" fill="#c8102e" stroke="none" stroke-width="0.8"/>
<circle cx="464.36" cy="102.54" r="1.45" fill="#c8102e" stroke="none" stroke-width="0.8"/>
<circle cx="451.05" cy="100.12" r="1.45" fill="#c8102e" stroke="none" stroke-width="0.8"/>
<circle cx="467.16" cy="116.64" r="1.45" fill="#c8102e" stroke="none" stroke-width="0.8"/>
<circle cx="459.47" cy="97.54" r="1.45" fill="#c8102e" stroke="none" stroke-width="0.8"/>
<circle cx="466.00" cy="120.53" r="1.45" fill="#c8102e" stroke="none" stroke-width="0.8"/>
<circle cx="454.92" cy="101.67" r="1.45" fill="#c8102e" stroke="none" stroke-width="0.8"/>
<circle cx="472.48" cy="116.32" r="1.45" fill="#c8102e" stroke="none" stroke-width="0.8"/>
<circle cx="467.23" cy="120.94" r="1.45" fill="#c8102e" stroke="none" stroke-width="0.8"/>
<circle cx="458.68" cy="99.22" r="1.45" fill="#c8102e" stroke="none" stroke-width="0.8"/>
<circle cx="467.52" cy="110.72" r="1.45" fill="#c8102e" stroke="none" stroke-width="0.8"/>
<circle cx="474.38" cy="125.29" r="1.45" fill="#c8102e" stroke="none" stroke-width="0.8"/>
<circle cx="480.18" cy="117.04" r="1.45" fill="#c8102e" stroke="none" stroke-width="0.8"/>
<circle cx="443.44" cy="100.69" r="1.45" fill="#c8102e" stroke="none" stroke-width="0.8"/>
<circle cx="470.26" cy="127.65" r="1.45" fill="#c8102e" stroke="none" stroke-width="0.8"/>
<circle cx="465.70" cy="116.56" r="1.45" fill="#c8102e" stroke="none" stroke-width="0.8"/>
<circle cx="459.60" cy="106.26" r="1.45" fill="#c8102e" stroke="none" stroke-width="0.8"/>
<circle cx="449.63" cy="97.42" r="1.45" fill="#c8102e" stroke="none" stroke-width="0.8"/>
<circle cx="474.35" cy="116.28" r="1.45" fill="#c8102e" stroke="none" stroke-width="0.8"/>
<circle cx="446.84" cy="99.64" r="1.45" fill="#c8102e" stroke="none" stroke-width="0.8"/>
<circle cx="466.81" cy="109.44" r="1.45" fill="#c8102e" stroke="none" stroke-width="0.8"/>
<circle cx="474.84" cy="119.13" r="1.45" fill="#c8102e" stroke="none" stroke-width="0.8"/>
<circle cx="443.15" cy="89.65" r="1.45" fill="#c8102e" stroke="none" stroke-width="0.8"/>
<circle cx="457.32" cy="105.59" r="1.45" fill="#c8102e" stroke="none" stroke-width="0.8"/>
<circle cx="446.32" cy="97.63" r="1.45" fill="#c8102e" stroke="none" stroke-width="0.8"/>
<circle cx="463.29" cy="106.73" r="1.45" fill="#c8102e" stroke="none" stroke-width="0.8"/>
<circle cx="477.16" cy="126.32" r="1.45" fill="#c8102e" stroke="none" stroke-width="0.8"/>
<circle cx="482.72" cy="127.50" r="1.45" fill="#c8102e" stroke="none" stroke-width="0.8"/>
<circle cx="441.20" cy="86.04" r="1.45" fill="#c8102e" stroke="none" stroke-width="0.8"/>
<circle cx="454.34" cy="102.44" r="1.45" fill="#c8102e" stroke="none" stroke-width="0.8"/>
<circle cx="468.30" cy="115.47" r="1.45" fill="#c8102e" stroke="none" stroke-width="0.8"/>
<circle cx="477.87" cy="117.33" r="1.45" fill="#c8102e" stroke="none" stroke-width="0.8"/>
<circle cx="465.22" cy="114.85" r="1.45" fill="#c8102e" stroke="none" stroke-width="0.8"/>
<circle cx="452.47" cy="101.63" r="1.45" fill="#c8102e" stroke="none" stroke-width="0.8"/>
<circle cx="463.86" cy="115.24" r="1.45" fill="#c8102e" stroke="none" stroke-width="0.8"/>
<circle cx="460.44" cy="106.71" r="1.45" fill="#c8102e" stroke="none" stroke-width="0.8"/>
<circle cx="458.40" cy="117.92" r="1.45" fill="#c8102e" stroke="none" stroke-width="0.8"/>
<circle cx="452.60" cy="94.61" r="1.45" fill="#c8102e" stroke="none" stroke-width="0.8"/>
<circle cx="464.85" cy="114.83" r="1.45" fill="#c8102e" stroke="none" stroke-width="0.8"/>
<circle cx="463.98" cy="121.49" r="1.45" fill="#c8102e" stroke="none" stroke-width="0.8"/>
<circle cx="459.60" cy="109.55" r="1.45" fill="#c8102e" stroke="none" stroke-width="0.8"/>
<circle cx="458.20" cy="109.65" r="1.45" fill="#c8102e" stroke="none" stroke-width="0.8"/>
<circle cx="446.59" cy="98.75" r="1.45" fill="#c8102e" stroke="none" stroke-width="0.8"/>
<circle cx="455.31" cy="113.05" r="1.45" fill="#c8102e" stroke="none" stroke-width="0.8"/>
<circle cx="473.79" cy="114.36" r="1.45" fill="#c8102e" stroke="none" stroke-width="0.8"/>
<circle cx="458.54" cy="82.91" r="1.45" fill="#c8102e" stroke="none" stroke-width="0.8"/>
<circle cx="444.90" cy="107.34" r="1.45" fill="#c8102e" stroke="none" stroke-width="0.8"/>
<circle cx="475.19" cy="115.65" r="1.45" fill="#c8102e" stroke="none" stroke-width="0.8"/>
<circle cx="466.41" cy="114.46" r="1.45" fill="#c8102e" stroke="none" stroke-width="0.8"/>
<circle cx="483.64" cy="121.99" r="1.45" fill="#c8102e" stroke="none" stroke-width="0.8"/>
<circle cx="461.30" cy="121.35" r="1.45" fill="#c8102e" stroke="none" stroke-width="0.8"/>
<circle cx="455.58" cy="113.26" r="1.45" fill="#c8102e" stroke="none" stroke-width="0.8"/>
<circle cx="444.81" cy="95.55" r="1.45" fill="#c8102e" stroke="none" stroke-width="0.8"/>
<circle cx="475.08" cy="118.12" r="1.45" fill="#c8102e" stroke="none" stroke-width="0.8"/>
<circle cx="488.68" cy="115.45" r="1.45" fill="#c8102e" stroke="none" stroke-width="0.8"/>
<circle cx="451.66" cy="107.75" r="1.45" fill="#c8102e" stroke="none" stroke-width="0.8"/>
<circle cx="453.55" cy="103.02" r="1.45" fill="#c8102e" stroke="none" stroke-width="0.8"/>
<circle cx="467.13" cy="93.15" r="1.45" fill="#c8102e" stroke="none" stroke-width="0.8"/>
<circle cx="451.55" cy="108.10" r="1.45" fill="#c8102e" stroke="none" stroke-width="0.8"/>
<circle cx="457.67" cy="112.91" r="1.45" fill="#c8102e" stroke="none" stroke-width="0.8"/>
<circle cx="456.80" cy="106.50" r="1.45" fill="#c8102e" stroke="none" stroke-width="0.8"/>
<circle cx="462.72" cy="110.32" r="1.45" fill="#c8102e" stroke="none" stroke-width="0.8"/>
<circle cx="472.58" cy="110.57" r="1.45" fill="#c8102e" stroke="none" stroke-width="0.8"/>
<circle cx="460.86" cy="107.96" r="1.45" fill="#c8102e" stroke="none" stroke-width="0.8"/>
<circle cx="470.65" cy="120.16" r="1.45" fill="#c8102e" stroke="none" stroke-width="0.8"/>
<circle cx="456.03" cy="104.35" r="1.45" fill="#c8102e" stroke="none" stroke-width="0.8"/>
<circle cx="464.20" cy="93.15" r="1.45" fill="#c8102e" stroke="none" stroke-width="0.8"/>
<circle cx="437.27" cy="85.28" r="1.45" fill="#c8102e" stroke="none" stroke-width="0.8"/>
<circle cx="444.79" cy="117.42" r="1.45" fill="#c8102e" stroke="none" stroke-width="0.8"/>
<circle cx="469.31" cy="115.16" r="1.45" fill="#c8102e" stroke="none" stroke-width="0.8"/>
<circle cx="454.18" cy="110.50" r="1.45" fill="#c8102e" stroke="none" stroke-width="0.8"/>
<circle cx="466.95" cy="108.50" r="1.45" fill="#c8102e" stroke="none" stroke-width="0.8"/>
<circle cx="466.54" cy="113.61" r="1.45" fill="#c8102e" stroke="none" stroke-width="0.8"/>
<circle cx="475.06" cy="104.80" r="1.45" fill="#c8102e" stroke="none" stroke-width="0.8"/>
<circle cx="469.49" cy="108.03" r="1.45" fill="#c8102e" stroke="none" stroke-width="0.8"/>
<circle cx="471.73" cy="109.72" r="1.45" fill="#c8102e" stroke="none" stroke-width="0.8"/>
<circle cx="459.40" cy="106.65" r="1.45" fill="#c8102e" stroke="none" stroke-width="0.8"/>
<circle cx="452.99" cy="104.12" r="1.45" fill="#c8102e" stroke="none" stroke-width="0.8"/>
<circle cx="452.63" cy="101.32" r="1.45" fill="#c8102e" stroke="none" stroke-width="0.8"/>
<circle cx="455.29" cy="96.56" r="1.45" fill="#c8102e" stroke="none" stroke-width="0.8"/>
<circle cx="448.28" cy="97.25" r="1.45" fill="#c8102e" stroke="none" stroke-width="0.8"/>
<circle cx="454.64" cy="107.26" r="1.45" fill="#c8102e" stroke="none" stroke-width="0.8"/>
<circle cx="459.61" cy="99.44" r="1.45" fill="#c8102e" stroke="none" stroke-width="0.8"/>
<circle cx="463.37" cy="109.13" r="1.45" fill="#c8102e" stroke="none" stroke-width="0.8"/>
<circle cx="456.92" cy="106.86" r="1.45" fill="#c8102e" stroke="none" stroke-width="0.8"/>
<circle cx="439.61" cy="100.70" r="1.45" fill="#c8102e" stroke="none" stroke-width="0.8"/>
<circle cx="459.83" cy="112.00" r="1.45" fill="#c8102e" stroke="none" stroke-width="0.8"/>
<circle cx="463.08" cy="114.54" r="1.45" fill="#c8102e" stroke="none" stroke-width="0.8"/>
<circle cx="472.46" cy="135.05" r="1.45" fill="#c8102e" stroke="none" stroke-width="0.8"/>
<circle cx="466.93" cy="105.83" r="1.45" fill="#c8102e" stroke="none" stroke-width="0.8"/>
<circle cx="453.59" cy="100.40" r="1.45" fill="#c8102e" stroke="none" stroke-width="0.8"/>
<circle cx="452.72" cy="105.12" r="1.45" fill="#c8102e" stroke="none" stroke-width="0.8"/>
<circle cx="482.58" cy="115.56" r="1.45" fill="#c8102e" stroke="none" stroke-width="0.8"/>
<circle cx="468.88" cy="110.97" r="1.45" fill="#c8102e" stroke="none" stroke-width="0.8"/>
<circle cx="480.62" cy="118.87" r="1.45" fill="#c8102e" stroke="none" stroke-width="0.8"/>
<circle cx="483.87" cy="140.15" r="1.45" fill="#c8102e" stroke="none" stroke-width="0.8"/>
<circle cx="451.69" cy="104.59" r="1.45" fill="#c8102e" stroke="none" stroke-width="0.8"/>
<circle cx="464.83" cy="107.76" r="1.45" fill="#c8102e" stroke="none" stroke-width="0.8"/>
<circle cx="465.62" cy="100.99" r="1.45" fill="#c8102e" stroke="none" stroke-width="0.8"/>
<circle cx="466.73" cy="100.14" r="1.45" fill="#c8102e" stroke="none" stroke-width="0.8"/>
<circle cx="466.54" cy="102.82" r="1.45" fill="#c8102e" stroke="none" stroke-width="0.8"/>
<circle cx="462.83" cy="117.93" r="1.45" fill="#c8102e" stroke="none" stroke-width="0.8"/>
<circle cx="462.52" cy="124.73" r="1.45" fill="#c8102e" stroke="none" stroke-width="0.8"/>
<circle cx="444.21" cy="94.42" r="1.45" fill="#c8102e" stroke="none" stroke-width="0.8"/>
<circle cx="458.81" cy="107.35" r="1.45" fill="#c8102e" stroke="none" stroke-width="0.8"/>
<circle cx="452.46" cy="97.01" r="1.45" fill="#c8102e" stroke="none" stroke-width="0.8"/>
<circle cx="462.00" cy="110.41" r="1.45" fill="#c8102e" stroke="none" stroke-width="0.8"/>
<circle cx="455.51" cy="103.96" r="1.45" fill="#c8102e" stroke="none" stroke-width="0.8"/>
<circle cx="467.37" cy="123.10" r="1.45" fill="#c8102e" stroke="none" stroke-width="0.8"/>
<circle cx="469.56" cy="111.34" r="1.45" fill="#c8102e" stroke="none" stroke-width="0.8"/>
<circle cx="463.99" cy="113.83" r="1.45" fill="#c8102e" stroke="none" stroke-width="0.8"/>
<circle cx="464.07" cy="108.51" r="1.45" fill="#c8102e" stroke="none" stroke-width="0.8"/>
<circle cx="461.63" cy="106.23" r="1.45" fill="#c8102e" stroke="none" stroke-width="0.8"/>
<circle cx="455.73" cy="106.37" r="1.45" fill="#c8102e" stroke="none" stroke-width="0.8"/>
<circle cx="458.82" cy="105.41" r="1.45" fill="#c8102e" stroke="none" stroke-width="0.8"/>
<circle cx="455.21" cy="105.34" r="1.45" fill="#c8102e" stroke="none" stroke-width="0.8"/>
<circle cx="464.86" cy="106.25" r="1.45" fill="#c8102e" stroke="none" stroke-width="0.8"/>
<circle cx="460.77" cy="105.40" r="1.45" fill="#c8102e" stroke="none" stroke-width="0.8"/>
<circle cx="466.97" cy="116.41" r="1.45" fill="#c8102e" stroke="none" stroke-width="0.8"/>
<circle cx="446.11" cy="103.45" r="1.45" fill="#c8102e" stroke="none" stroke-width="0.8"/>
<circle cx="470.31" cy="103.07" r="1.45" fill="#c8102e" stroke="none" stroke-width="0.8"/>
<circle cx="452.29" cy="104.09" r="1.45" fill="#c8102e" stroke="none" stroke-width="0.8"/>
<circle cx="452.60" cy="96.90" r="1.45" fill="#c8102e" stroke="none" stroke-width="0.8"/>
<circle cx="458.46" cy="104.66" r="1.45" fill="#c8102e" stroke="none" stroke-width="0.8"/>
<circle cx="454.47" cy="108.59" r="1.45" fill="#c8102e" stroke="none" stroke-width="0.8"/>
<circle cx="463.80" cy="115.76" r="1.45" fill="#c8102e" stroke="none" stroke-width="0.8"/>
<circle cx="454.35" cy="103.90" r="1.45" fill="#c8102e" stroke="none" stroke-width="0.8"/>
<circle cx="448.94" cy="99.54" r="1.45" fill="#c8102e" stroke="none" stroke-width="0.8"/>
<circle cx="451.38" cy="98.68" r="1.45" fill="#c8102e" stroke="none" stroke-width="0.8"/>
<circle cx="474.95" cy="126.33" r="1.45" fill="#c8102e" stroke="none" stroke-width="0.8"/>
<circle cx="461.10" cy="113.01" r="1.45" fill="#c8102e" stroke="none" stroke-width="0.8"/>
<circle cx="447.87" cy="101.23" r="1.45" fill="#c8102e" stroke="none" stroke-width="0.8"/>
<circle cx="446.06" cy="76.00" r="1.45" fill="#c8102e" stroke="none" stroke-width="0.8"/>
<circle cx="431.50" cy="109.00" r="1.45" fill="#c8102e" stroke="none" stroke-width="0.8"/>
<circle cx="431.50" cy="86.50" r="1.45" fill="#c8102e" stroke="none" stroke-width="0.8"/>
<circle cx="471.54" cy="138.25" r="1.45" fill="#c8102e" stroke="none" stroke-width="0.8"/>
<circle cx="480.38" cy="139.00" r="1.45" fill="#c8102e" stroke="none" stroke-width="0.8"/>
<circle cx="487.66" cy="123.25" r="1.45" fill="#c8102e" stroke="none" stroke-width="0.8"/>
<circle cx="464.78" cy="89.50" r="1.45" fill="#c8102e" stroke="none" stroke-width="0.8"/>
<circle cx="471.02" cy="92.50" r="1.45" fill="#c8102e" stroke="none" stroke-width="0.8"/>
<circle cx="478.30" cy="98.50" r="1.45" fill="#c8102e" stroke="none" stroke-width="0.8"/>
<circle cx="442.94" cy="82.00" r="1.45" fill="#c8102e" stroke="none" stroke-width="0.8"/>
<circle cx="449.18" cy="85.00" r="1.45" fill="#c8102e" stroke="none" stroke-width="0.8"/>
<circle cx="439.82" cy="87.25" r="1.45" fill="#c8102e" stroke="none" stroke-width="0.8"/>
<circle cx="435.14" cy="98.88" r="1.45" fill="#c8102e" stroke="none" stroke-width="0.8"/>
<circle cx="437.74" cy="102.25" r="1.45" fill="#c8102e" stroke="none" stroke-width="0.8"/>
<circle cx="484.54" cy="115.00" r="1.45" fill="#c8102e" stroke="none" stroke-width="0.8"/>
<circle cx="481.42" cy="133.75" r="1.45" fill="#c8102e" stroke="none" stroke-width="0.8"/>
<circle cx="473.10" cy="133.75" r="1.45" fill="#c8102e" stroke="none" stroke-width="0.8"/>
<circle cx="450.22" cy="114.25" r="1.45" fill="#c8102e" stroke="none" stroke-width="0.8"/>
<circle cx="440.86" cy="110.50" r="1.45" fill="#c8102e" stroke="none" stroke-width="0.8"/>
<text x="7.50" y="233.40" font-size="11.5" fill="#111" font-weight="bold">D</text>
<text x="87.80" y="240.00" font-size="6.5" fill="#231f20" stroke="#231f20" stroke-width="0.2" text-anchor="middle" textLength="15.00" lengthAdjust="spacingAndGlyphs">CTRL</text>
<text x="119.80" y="240.00" font-size="6.5" fill="#231f20" stroke="#231f20" stroke-width="0.2" text-anchor="middle" textLength="15.00" lengthAdjust="spacingAndGlyphs">MKO</text>
<text x="150.70" y="240.00" font-size="6.5" fill="#231f20" stroke="#231f20" stroke-width="0.2" text-anchor="middle" textLength="26.50" lengthAdjust="spacingAndGlyphs">Overexpr</text>
<line x1="75.00" y1="243.50" x2="101.00" y2="243.50" stroke="#555" stroke-width="0.8"/>
<line x1="107.60" y1="243.50" x2="132.00" y2="243.50" stroke="#555" stroke-width="0.8"/>
<line x1="138.00" y1="243.50" x2="163.50" y2="243.50" stroke="#555" stroke-width="0.8"/>
<rect x="72.90" y="246.10" width="95.10" height="15.70" rx="1.2" fill="#d9d9d9"/>
<g clip-path="url(#bc0)">
<rect x="87.20" y="246.10" width="2.4" height="15.70" fill="#e6e6e6" opacity="0.7" filter="url(#bl8)"/>
<rect x="102.40" y="246.10" width="2.4" height="15.70" fill="#e6e6e6" opacity="0.7" filter="url(#bl8)"/>
<rect x="117.80" y="246.10" width="2.4" height="15.70" fill="#e6e6e6" opacity="0.7" filter="url(#bl8)"/>
<rect x="133.20" y="246.10" width="2.4" height="15.70" fill="#e6e6e6" opacity="0.7" filter="url(#bl8)"/>
<rect x="148.40" y="246.10" width="2.4" height="15.70" fill="#e6e6e6" opacity="0.7" filter="url(#bl8)"/>
<rect x="75.00" y="255.30" width="10.90" height="2.30" rx="1.15" fill="#000" opacity="0.42" filter="url(#bl7)"/>
<rect x="90.20" y="255.60" width="10.60" height="2.80" rx="1.40" fill="#000" opacity="0.62" filter="url(#bl7)"/>
<rect x="90.50" y="249.60" width="10.00" height="1.80" rx="0.90" fill="#000" opacity="0.1" filter="url(#bl10)"/>
<rect x="135.90" y="250.20" width="12.00" height="8.00" rx="1.60" fill="#000" opacity="1.0" filter="url(#bl8)"/>
<rect x="150.80" y="249.90" width="13.00" height="8.60" rx="1.60" fill="#000" opacity="1.0" filter="url(#bl8)"/>
<rect x="136.50" y="248.50" width="11.00" height="2.00" rx="1.00" fill="#000" opacity="0.35" filter="url(#bl10)"/>
<rect x="151.00" y="248.20" width="12.50" height="2.20" rx="1.10" fill="#000" opacity="0.45" filter="url(#bl10)"/>
<rect x="136.50" y="257.50" width="11.00" height="2.00" rx="1.00" fill="#000" opacity="0.25" filter="url(#bl10)"/>
<rect x="151.00" y="257.80" width="12.50" height="2.20" rx="1.10" fill="#000" opacity="0.3" filter="url(#bl10)"/>
</g>
<rect x="72.90" y="246.10" width="95.10" height="15.70" rx="1.2" fill="none" stroke="#1a1a1a" stroke-width="1.05"/>
<rect x="72.90" y="264.20" width="95.10" height="14.90" rx="1.2" fill="#dadada"/>
<g clip-path="url(#bc1)">
<rect x="87.20" y="264.20" width="2.4" height="14.90" fill="#e6e6e6" opacity="0.7" filter="url(#bl8)"/>
<rect x="102.40" y="264.20" width="2.4" height="14.90" fill="#e6e6e6" opacity="0.7" filter="url(#bl8)"/>
<rect x="117.80" y="264.20" width="2.4" height="14.90" fill="#e6e6e6" opacity="0.7" filter="url(#bl8)"/>
<rect x="133.20" y="264.20" width="2.4" height="14.90" fill="#e6e6e6" opacity="0.7" filter="url(#bl8)"/>
<rect x="148.40" y="264.20" width="2.4" height="14.90" fill="#e6e6e6" opacity="0.7" filter="url(#bl8)"/>
<rect x="74.80" y="266.60" width="12.00" height="3.00" rx="1.50" fill="#000" opacity="1" filter="url(#bl7)"/>
<rect x="90.00" y="267.60" width="11.50" height="3.00" rx="1.50" fill="#000" opacity="1" filter="url(#bl7)"/>
<rect x="104.10" y="266.80" width="13.50" height="3.00" rx="1.50" fill="#000" opacity="1" filter="url(#bl7)"/>
<rect x="121.00" y="267.00" width="11.00" height="3.00" rx="1.50" fill="#000" opacity="1" filter="url(#bl7)"/>
<rect x="135.40" y="267.60" width="11.50" height="3.00" rx="1.50" fill="#000" opacity="0.95" filter="url(#bl7)"/>
<rect x="150.80" y="267.80" width="11.50" height="3.00" rx="1.50" fill="#000" opacity="0.7" filter="url(#bl7)"/>
<rect x="156.00" y="268.00" width="6.50" height="2.40" rx="1.20" fill="#000" opacity="0.6" filter="url(#bl7)"/>
<rect x="74.80" y="274.20" width="12.00" height="2.50" rx="1.25" fill="#000" opacity="0.22" filter="url(#bl7)"/>
<rect x="90.30" y="274.20" width="11.20" height="2.50" rx="1.25" fill="#000" opacity="1.0" filter="url(#bl7)"/>
<rect x="104.10" y="274.20" width="13.50" height="2.50" rx="1.25" fill="#000" opacity="0.28" filter="url(#bl7)"/>
<rect x="121.00" y="274.20" width="11.00" height="2.50" rx="1.25" fill="#000" opacity="1.0" filter="url(#bl7)"/>
<rect x="135.40" y="274.20" width="11.50" height="2.50" rx="1.25" fill="#000" opacity="0.18" filter="url(#bl7)"/>
<rect x="150.80" y="274.20" width="11.50" height="2.50" rx="1.25" fill="#000" opacity="0.22" filter="url(#bl7)"/>
</g>
<rect x="72.90" y="264.20" width="95.10" height="14.90" rx="1.2" fill="none" stroke="#1a1a1a" stroke-width="1.05"/>
<rect x="72.90" y="282.00" width="95.10" height="13.30" rx="1.2" fill="#d6d6d6"/>
<g clip-path="url(#bc2)">
<rect x="87.20" y="282.00" width="2.4" height="13.30" fill="#e6e6e6" opacity="0.7" filter="url(#bl8)"/>
<rect x="102.40" y="282.00" width="2.4" height="13.30" fill="#e6e6e6" opacity="0.7" filter="url(#bl8)"/>
<rect x="117.80" y="282.00" width="2.4" height="13.30" fill="#e6e6e6" opacity="0.7" filter="url(#bl8)"/>
<rect x="133.20" y="282.00" width="2.4" height="13.30" fill="#e6e6e6" opacity="0.7" filter="url(#bl8)"/>
<rect x="148.40" y="282.00" width="2.4" height="13.30" fill="#e6e6e6" opacity="0.7" filter="url(#bl8)"/>
<rect x="74.80" y="284.90" width="10.60" height="6.10" rx="1.60" fill="#000" opacity="1.0" filter="url(#bl8)"/>
<rect x="106.00" y="286.00" width="11.10" height="5.00" rx="1.60" fill="#000" opacity="1.0" filter="url(#bl8)"/>
<rect x="137.30" y="285.20" width="10.60" height="5.00" rx="1.60" fill="#000" opacity="0.95" filter="url(#bl8)"/>
<rect x="90.00" y="285.50" width="11.00" height="5.00" rx="1.60" fill="#000" opacity="0.1" filter="url(#bl10)"/>
<rect x="121.00" y="285.50" width="11.00" height="5.00" rx="1.60" fill="#000" opacity="0.1" filter="url(#bl10)"/>
<rect x="151.00" y="285.50" width="12.00" height="5.00" rx="1.60" fill="#000" opacity="0.1" filter="url(#bl10)"/>
</g>
<rect x="72.90" y="282.00" width="95.10" height="13.30" rx="1.2" fill="none" stroke="#1a1a1a" stroke-width="1.05"/>
<rect x="72.90" y="297.00" width="95.10" height="12.70" rx="1.2" fill="#d8d8d8"/>
<g clip-path="url(#bc3)">
<rect x="87.20" y="297.00" width="2.4" height="12.70" fill="#e6e6e6" opacity="0.7" filter="url(#bl8)"/>
<rect x="102.40" y="297.00" width="2.4" height="12.70" fill="#e6e6e6" opacity="0.7" filter="url(#bl8)"/>
<rect x="117.80" y="297.00" width="2.4" height="12.70" fill="#e6e6e6" opacity="0.7" filter="url(#bl8)"/>
<rect x="133.20" y="297.00" width="2.4" height="12.70" fill="#e6e6e6" opacity="0.7" filter="url(#bl8)"/>
<rect x="148.40" y="297.00" width="2.4" height="12.70" fill="#e6e6e6" opacity="0.7" filter="url(#bl8)"/>
<rect x="75.30" y="301.20" width="12.50" height="3.60" rx="1.60" fill="#000" opacity="1" filter="url(#bl7)"/>
<rect x="90.20" y="301.20" width="12.50" height="3.60" rx="1.60" fill="#000" opacity="1" filter="url(#bl7)"/>
<rect x="105.60" y="301.20" width="12.00" height="3.60" rx="1.60" fill="#000" opacity="1" filter="url(#bl7)"/>
<rect x="121.00" y="301.20" width="11.50" height="3.60" rx="1.60" fill="#000" opacity="1" filter="url(#bl7)"/>
<rect x="135.40" y="301.20" width="12.50" height="3.60" rx="1.60" fill="#000" opacity="1" filter="url(#bl7)"/>
<rect x="150.80" y="301.20" width="13.90" height="3.60" rx="1.60" fill="#000" opacity="1" filter="url(#bl7)"/>
</g>
<rect x="72.90" y="297.00" width="95.10" height="12.70" rx="1.2" fill="none" stroke="#1a1a1a" stroke-width="1.05"/>
<text x="67.60" y="257.60" font-size="6.6" fill="#231f20" stroke="#231f20" stroke-width="0.2" text-anchor="end">MondoA</text>
<text x="67.60" y="269.10" font-size="6.6" fill="#231f20" stroke="#231f20" stroke-width="0.2" text-anchor="end">PARP</text>
<text x="67.60" y="279.60" font-size="6.6" fill="#231f20" stroke="#231f20" stroke-width="0.2" text-anchor="end">cl-PARP</text>
<text x="67.60" y="290.90" font-size="6.6" fill="#231f20" stroke="#231f20" stroke-width="0.2" text-anchor="end">MYC</text>
<text x="67.60" y="302.00" font-size="6.6" fill="#231f20" stroke="#231f20" stroke-width="0.2" text-anchor="end">GADPH</text>
<text x="68.10" y="317.80" font-size="6.6" fill="#231f20" stroke="#231f20" stroke-width="0.2" text-anchor="end" textLength="33.70" lengthAdjust="spacingAndGlyphs">JQ1 400nM</text>
<text x="81.00" y="318.00" font-size="6.2" fill="#555" stroke="#555" stroke-width="0.2" text-anchor="middle">–</text>
<text x="94.50" y="318.00" font-size="6.2" fill="#555" stroke="#555" stroke-width="0.2" text-anchor="middle">+</text>
<text x="107.30" y="318.00" font-size="6.2" fill="#555" stroke="#555" stroke-width="0.2" text-anchor="middle">–</text>
<text x="122.90" y="318.00" font-size="6.2" fill="#555" stroke="#555" stroke-width="0.2" text-anchor="middle">+</text>
<text x="138.30" y="318.00" font-size="6.2" fill="#555" stroke="#555" stroke-width="0.2" text-anchor="middle">–</text>
<text x="155.10" y="318.00" font-size="6.2" fill="#555" stroke="#555" stroke-width="0.2" text-anchor="middle">+</text>
<text x="191.00" y="233.60" font-size="11.5" fill="#111" font-weight="bold">E</text>
<line x1="224.50" y1="243.70" x2="224.50" y2="311.40" stroke="#2b2b2b" stroke-width="0.9"/>
<line x1="224.20" y1="311.50" x2="325.10" y2="311.50" stroke="#2b2b2b" stroke-width="0.9"/>
<line x1="222.60" y1="311.50" x2="224.60" y2="311.50" stroke="#2b2b2b" stroke-width="0.7"/>
<text x="221.60" y="313.00" font-size="5.9" fill="#231f20" stroke="#231f20" stroke-width="0.2" text-anchor="end" textLength="8.60" lengthAdjust="spacingAndGlyphs">0.0</text>
<line x1="222.60" y1="297.50" x2="224.60" y2="297.50" stroke="#2b2b2b" stroke-width="0.7"/>
<text x="221.60" y="299.54" font-size="5.9" fill="#231f20" stroke="#231f20" stroke-width="0.2" text-anchor="end" textLength="8.60" lengthAdjust="spacingAndGlyphs">0.2</text>
<line x1="222.60" y1="284.50" x2="224.60" y2="284.50" stroke="#2b2b2b" stroke-width="0.7"/>
<text x="221.60" y="286.08" font-size="5.9" fill="#231f20" stroke="#231f20" stroke-width="0.2" text-anchor="end" textLength="8.60" lengthAdjust="spacingAndGlyphs">0.4</text>
<line x1="222.60" y1="270.50" x2="224.60" y2="270.50" stroke="#2b2b2b" stroke-width="0.7"/>
<text x="221.60" y="272.62" font-size="5.9" fill="#231f20" stroke="#231f20" stroke-width="0.2" text-anchor="end" textLength="8.60" lengthAdjust="spacingAndGlyphs">0.6</text>
<line x1="222.60" y1="257.50" x2="224.60" y2="257.50" stroke="#2b2b2b" stroke-width="0.7"/>
<text x="221.60" y="259.16" font-size="5.9" fill="#231f20" stroke="#231f20" stroke-width="0.2" text-anchor="end" textLength="8.60" lengthAdjust="spacingAndGlyphs">0.8</text>
<line x1="222.60" y1="243.50" x2="224.60" y2="243.50" stroke="#2b2b2b" stroke-width="0.7"/>
<text x="221.60" y="245.70" font-size="5.9" fill="#231f20" stroke="#231f20" stroke-width="0.2" text-anchor="end" textLength="8.60" lengthAdjust="spacingAndGlyphs">1.0</text>
<line x1="224.50" y1="311.00" x2="224.50" y2="313.00" stroke="#2b2b2b" stroke-width="0.7"/>
<text x="224.60" y="319.20" font-size="5.9" fill="#231f20" stroke="#231f20" stroke-width="0.2" text-anchor="middle">0</text>
<line x1="258.50" y1="311.00" x2="258.50" y2="313.00" stroke="#2b2b2b" stroke-width="0.7"/>
<text x="258.10" y="319.20" font-size="5.9" fill="#231f20" stroke="#231f20" stroke-width="0.2" text-anchor="middle">1</text>
<line x1="291.50" y1="311.00" x2="291.50" y2="313.00" stroke="#2b2b2b" stroke-width="0.7"/>
<text x="291.60" y="319.20" font-size="5.9" fill="#231f20" stroke="#231f20" stroke-width="0.2" text-anchor="middle">2</text>
<line x1="325.50" y1="311.00" x2="325.50" y2="313.00" stroke="#2b2b2b" stroke-width="0.7"/>
<text x="325.10" y="319.20" font-size="5.9" fill="#231f20" stroke="#231f20" stroke-width="0.2" text-anchor="middle">3</text>
<text x="197.80" y="277.60" font-size="8.0" fill="#231f20" stroke="#231f20" stroke-width="0.2" text-anchor="middle" textLength="67.00" lengthAdjust="spacingAndGlyphs" transform="rotate(-90 197.80 277.60)">Relative cell viability</text>
<text x="209.60" y="277.90" font-size="8.0" fill="#231f20" stroke="#231f20" stroke-width="0.2" text-anchor="middle" textLength="77.50" lengthAdjust="spacingAndGlyphs" transform="rotate(-90 209.60 277.90)">(% of total cell viability)</text>
<text x="275.20" y="330.50" font-size="8.6" fill="#231f20" stroke="#231f20" stroke-width="0.2" text-anchor="middle" textLength="42.00" lengthAdjust="spacingAndGlyphs">log(JQ1 nM)</text>
<path d="M231.30,248.32 L231.97,248.50 L232.64,248.70 L233.31,248.91 L233.98,249.13 L234.65,249.38 L235.32,249.65 L235.99,249.94 L236.66,250.26 L237.33,250.60 L238.00,250.96 L238.67,251.36 L239.34,251.79 L240.01,252.24 L240.68,252.73 L241.35,253.26 L242.02,253.81 L242.69,254.41 L243.36,255.04 L244.03,255.72 L244.70,256.43 L245.37,257.18 L246.04,257.96 L246.71,258.79 L247.38,259.66 L248.05,260.56 L248.72,261.49 L249.39,262.46 L250.06,263.45 L250.73,264.48 L251.40,265.52 L252.07,266.59 L252.74,267.67 L253.41,268.76 L254.08,269.86 L254.75,270.96 L255.42,272.06 L256.09,273.15 L256.76,274.22 L257.43,275.29 L258.10,276.33 L258.77,277.34 L259.44,278.33 L260.11,279.29 L260.78,280.22 L261.45,281.11 L262.12,281.97 L262.79,282.79 L263.46,283.57 L264.13,284.31 L264.80,285.01 L265.47,285.67 L266.14,286.30 L266.81,286.88 L267.48,287.44 L268.15,287.95 L268.82,288.43 L269.49,288.88 L270.16,289.30 L270.83,289.69 L271.50,290.05 L272.17,290.38 L272.84,290.69 L273.51,290.98 L274.18,291.24 L274.85,291.49 L275.52,291.71 L276.19,291.92 L276.86,292.11 L277.53,292.28 L278.20,292.44 L278.87,292.59 L279.54,292.73 L280.21,292.85 L280.88,292.96 L281.55,293.07 L282.22,293.16 L282.89,293.25 L283.56,293.33 L284.23,293.40 L284.90,293.47 L285.57,293.53 L286.24,293.59 L286.91,293.64 L287.58,293.68 L288.25,293.73 L288.92,293.77 L289.59,293.80 L290.26,293.83 L290.93,293.86 L291.60,293.89 L292.27,293.92 L292.94,293.94 L293.61,293.96 L294.28,293.98 L294.95,294.00 L295.62,294.01 L296.29,294.03 L296.96,294.04 L297.63,294.05 L298.30,294.06 L298.97,294.07 L299.64,294.08 L300.31,294.09 L300.98,294.10 L301.65,294.10 L302.32,294.11 L302.99,294.12 L303.66,294.12 L304.33,294.13 L305.00,294.13 L305.67,294.13 L306.34,294.14 L307.01,294.14 L307.68,294.14 L308.35,294.15 L309.02,294.15 L309.69,294.15 L310.36,294.15 L311.03,294.16 L311.70,294.16" stroke="#2a62a6" stroke-width="1.4" fill="none"/>
<path d="M231.30,249.15 L231.97,249.36 L232.64,249.59 L233.31,249.84 L233.98,250.12 L234.65,250.43 L235.32,250.76 L235.99,251.13 L236.66,251.52 L237.33,251.95 L238.00,252.42 L238.67,252.92 L239.34,253.47 L240.01,254.06 L240.68,254.70 L241.35,255.38 L242.02,256.11 L242.69,256.90 L243.36,257.73 L244.03,258.61 L244.70,259.55 L245.37,260.53 L246.04,261.57 L246.71,262.65 L247.38,263.77 L248.05,264.94 L248.72,266.14 L249.39,267.38 L250.06,268.65 L250.73,269.93 L251.40,271.23 L252.07,272.54 L252.74,273.85 L253.41,275.16 L254.08,276.46 L254.75,277.74 L255.42,278.99 L256.09,280.22 L256.76,281.41 L257.43,282.56 L258.10,283.68 L258.77,284.74 L259.44,285.76 L260.11,286.73 L260.78,287.64 L261.45,288.51 L262.12,289.33 L262.79,290.09 L263.46,290.81 L264.13,291.47 L264.80,292.09 L265.47,292.67 L266.14,293.20 L266.81,293.70 L267.48,294.15 L268.15,294.57 L268.82,294.95 L269.49,295.31 L270.16,295.63 L270.83,295.92 L271.50,296.20 L272.17,296.44 L272.84,296.67 L273.51,296.87 L274.18,297.06 L274.85,297.23 L275.52,297.39 L276.19,297.53 L276.86,297.65 L277.53,297.77 L278.20,297.88 L278.87,297.97 L279.54,298.06 L280.21,298.14 L280.88,298.21 L281.55,298.27 L282.22,298.33 L282.89,298.38 L283.56,298.43 L284.23,298.48 L284.90,298.51 L285.57,298.55 L286.24,298.58 L286.91,298.61 L287.58,298.64 L288.25,298.66 L288.92,298.68 L289.59,298.70 L290.26,298.72 L290.93,298.74 L291.60,298.75 L292.27,298.76 L292.94,298.78 L293.61,298.79 L294.28,298.80 L294.95,298.80 L295.62,298.81 L296.29,298.82 L296.96,298.83 L297.63,298.83 L298.30,298.84 L298.97,298.84 L299.64,298.85 L300.31,298.85 L300.98,298.85 L301.65,298.86 L302.32,298.86 L302.99,298.86 L303.66,298.86 L304.33,298.87 L305.00,298.87 L305.67,298.87 L306.34,298.87 L307.01,298.87 L307.68,298.87 L308.35,298.88 L309.02,298.88 L309.69,298.88 L310.36,298.88 L311.03,298.88 L311.70,298.88" stroke="#e0203a" stroke-width="1.4" fill="none"/>
<path d="M231.30,249.88 L231.97,250.11 L232.64,250.36 L233.31,250.63 L233.98,250.94 L234.65,251.27 L235.32,251.63 L235.99,252.03 L236.66,252.46 L237.33,252.93 L238.00,253.44 L238.67,254.00 L239.34,254.60 L240.01,255.25 L240.68,255.94 L241.35,256.69 L242.02,257.49 L242.69,258.34 L243.36,259.24 L244.03,260.20 L244.70,261.20 L245.37,262.26 L246.04,263.36 L246.71,264.50 L247.38,265.68 L248.05,266.89 L248.72,268.13 L249.39,269.39 L250.06,270.66 L250.73,271.95 L251.40,273.23 L252.07,274.50 L252.74,275.76 L253.41,277.00 L254.08,278.22 L254.75,279.40 L255.42,280.54 L256.09,281.64 L256.76,282.70 L257.43,283.70 L258.10,284.66 L258.77,285.57 L259.44,286.42 L260.11,287.22 L260.78,287.97 L261.45,288.67 L262.12,289.31 L262.79,289.92 L263.46,290.47 L264.13,290.99 L264.80,291.46 L265.47,291.89 L266.14,292.29 L266.81,292.65 L267.48,292.99 L268.15,293.29 L268.82,293.56 L269.49,293.82 L270.16,294.04 L270.83,294.25 L271.50,294.44 L272.17,294.61 L272.84,294.76 L273.51,294.90 L274.18,295.03 L274.85,295.15 L275.52,295.25 L276.19,295.34 L276.86,295.43 L277.53,295.50 L278.20,295.57 L278.87,295.63 L279.54,295.69 L280.21,295.74 L280.88,295.78 L281.55,295.83 L282.22,295.86 L282.89,295.90 L283.56,295.93 L284.23,295.95 L284.90,295.98 L285.57,296.00 L286.24,296.02 L286.91,296.04 L287.58,296.05 L288.25,296.07 L288.92,296.08 L289.59,296.09 L290.26,296.10 L290.93,296.11 L291.60,296.12 L292.27,296.13 L292.94,296.13 L293.61,296.14 L294.28,296.14 L294.95,296.15 L295.62,296.15 L296.29,296.16 L296.96,296.16 L297.63,296.16 L298.30,296.17 L298.97,296.17 L299.64,296.17 L300.31,296.17 L300.98,296.18 L301.65,296.18 L302.32,296.18 L302.99,296.18 L303.66,296.18 L304.33,296.18 L305.00,296.18 L305.67,296.19 L306.34,296.19 L307.01,296.19 L307.68,296.19 L308.35,296.19 L309.02,296.19 L309.69,296.19 L310.36,296.19 L311.03,296.19 L311.70,296.19" stroke="#3cb44b" stroke-width="1.4" fill="none"/>
<path d="M229.60,247.01 L233.00,247.01 L231.30,250.11 Z" fill="#fff" stroke="#1f4f8f" stroke-width="1.0"/>
<path d="M239.65,250.04 L243.05,250.04 L241.35,253.14 Z" fill="#fff" stroke="#1f4f8f" stroke-width="1.0"/>
<path d="M249.70,265.52 L253.10,265.52 L251.40,268.62 Z" fill="#fff" stroke="#1f4f8f" stroke-width="1.0"/>
<path d="M259.75,278.98 L263.15,278.98 L261.45,282.08 Z" fill="#fff" stroke="#1f4f8f" stroke-width="1.0"/>
<path d="M269.80,287.39 L273.20,287.39 L271.50,290.49 Z" fill="#fff" stroke="#1f4f8f" stroke-width="1.0"/>
<path d="M279.85,289.07 L283.25,289.07 L281.55,292.17 Z" fill="#fff" stroke="#1f4f8f" stroke-width="1.0"/>
<path d="M289.90,289.41 L293.30,289.41 L291.60,292.51 Z" fill="#fff" stroke="#1f4f8f" stroke-width="1.0"/>
<path d="M310.00,295.47 L313.40,295.47 L311.70,298.57 Z" fill="#fff" stroke="#1f4f8f" stroke-width="1.0"/>
<circle cx="231.30" cy="249.42" r="1.60" fill="#e0203a" stroke="none" stroke-width="0.8"/>
<circle cx="241.35" cy="256.49" r="1.60" fill="#e0203a" stroke="none" stroke-width="0.8"/>
<circle cx="251.40" cy="270.62" r="1.60" fill="#e0203a" stroke="none" stroke-width="0.8"/>
<circle cx="261.45" cy="287.44" r="1.60" fill="#e0203a" stroke="none" stroke-width="0.8"/>
<circle cx="281.55" cy="297.54" r="1.60" fill="#e0203a" stroke="none" stroke-width="0.8"/>
<circle cx="291.60" cy="298.55" r="1.60" fill="#e0203a" stroke="none" stroke-width="0.8"/>
<circle cx="301.65" cy="298.55" r="1.60" fill="#e0203a" stroke="none" stroke-width="0.8"/>
<circle cx="311.70" cy="301.24" r="1.60" fill="#e0203a" stroke="none" stroke-width="0.8"/>
<circle cx="231.30" cy="250.09" r="1.35" fill="#3cb44b" stroke="none" stroke-width="0.8"/>
<circle cx="241.35" cy="255.48" r="1.35" fill="#3cb44b" stroke="none" stroke-width="0.8"/>
<circle cx="251.40" cy="273.99" r="1.35" fill="#3cb44b" stroke="none" stroke-width="0.8"/>
<circle cx="261.45" cy="289.46" r="1.35" fill="#3cb44b" stroke="none" stroke-width="0.8"/>
<circle cx="271.50" cy="293.17" r="1.35" fill="#3cb44b" stroke="none" stroke-width="0.8"/>
<circle cx="281.55" cy="295.18" r="1.35" fill="#3cb44b" stroke="none" stroke-width="0.8"/>
<circle cx="291.60" cy="295.18" r="1.35" fill="#3cb44b" stroke="none" stroke-width="0.8"/>
<circle cx="301.65" cy="296.19" r="1.35" fill="#3cb44b" stroke="none" stroke-width="0.8"/>
<circle cx="311.70" cy="296.53" r="1.35" fill="#3cb44b" stroke="none" stroke-width="0.8"/>
<text x="312.40" y="240.40" font-size="6.2" fill="#231f20" stroke="#231f20" stroke-width="0.2" text-anchor="middle" textLength="24.00" lengthAdjust="spacingAndGlyphs">LogIC50</text>
<line x1="263.60" y1="249.50" x2="270.00" y2="249.50" stroke="#e0203a" stroke-width="0.8"/>
<rect x="265.70" y="248.50" width="2.20" height="2.20" fill="#e0203a" stroke="none" stroke-width="0.8"/>
<line x1="263.60" y1="256.50" x2="270.00" y2="256.50" stroke="#2a62a6" stroke-width="0.8"/>
<path d="M265.20,255.60 L268.40,255.60 L266.80,258.40 Z" fill="#fff" stroke="#2a62a6" stroke-width="0.7"/>
<line x1="263.60" y1="264.50" x2="270.00" y2="264.50" stroke="#3cb44b" stroke-width="0.8"/>
<circle cx="266.80" cy="264.60" r="1.00" fill="#3cb44b" stroke="none" stroke-width="0.8"/>
<text x="272.80" y="251.90" font-size="6.3" fill="#231f20" stroke="#231f20" stroke-width="0.2" textLength="14.80" lengthAdjust="spacingAndGlyphs">CTRL</text>
<text x="272.80" y="259.20" font-size="6.3" fill="#231f20" stroke="#231f20" stroke-width="0.2" textLength="13.20" lengthAdjust="spacingAndGlyphs">MKO</text>
<text x="270.80" y="266.90" font-size="6.3" fill="#231f20" stroke="#231f20" stroke-width="0.2" textLength="27.50" lengthAdjust="spacingAndGlyphs">Overexpr</text>
<text x="302.00" y="251.90" font-size="6.3" fill="#231f20" stroke="#231f20" stroke-width="0.2" textLength="19.30" lengthAdjust="spacingAndGlyphs">0.8266</text>
<text x="302.00" y="259.20" font-size="6.3" fill="#231f20" stroke="#231f20" stroke-width="0.2" textLength="19.30" lengthAdjust="spacingAndGlyphs">0.8877</text>
<text x="302.00" y="266.90" font-size="6.3" fill="#231f20" stroke="#231f20" stroke-width="0.2" textLength="19.30" lengthAdjust="spacingAndGlyphs">0.7803</text>
<path d="M323.6,249.6 H327.6 V264.9 H323.6" stroke="#2a62a6" stroke-width="0.9" fill="none"/>
<path d="M323.6,249.6 H327.0 V256.9 H323.6" stroke="#e0203a" stroke-width="0.9" fill="none"/>
<text x="330.20" y="254.90" font-size="6.3" fill="#e0203a" stroke="#e0203a" stroke-width="0.2" textLength="26.00" lengthAdjust="spacingAndGlyphs">p=0.0095</text>
<text x="330.20" y="261.40" font-size="6.3" fill="#2a62a6" stroke="#2a62a6" stroke-width="0.2" textLength="17.20" lengthAdjust="spacingAndGlyphs">p=0.9</text>
<text x="367.80" y="233.50" font-size="11.5" fill="#111" font-weight="bold">F</text>
<text x="401.00" y="242.40" font-size="6.4" fill="#3a6d9e" stroke="#3a6d9e" stroke-width="0.2" text-anchor="middle" textLength="56.00" lengthAdjust="spacingAndGlyphs">MondoA KO_Down</text>
<text x="457.60" y="241.30" font-size="6.4" fill="#5bb55b" stroke="#5bb55b" stroke-width="0.2" text-anchor="middle" textLength="47.60" lengthAdjust="spacingAndGlyphs">MondoA KO_Up</text>
<text x="437.40" y="331.60" font-size="6.4" fill="#d2405f" stroke="#d2405f" stroke-width="0.2" text-anchor="middle" textLength="45.00" lengthAdjust="spacingAndGlyphs">MondoA bound</text>
<circle cx="421.00" cy="270.80" r="24.00" fill="#c6d6e4" stroke="#bccee0" stroke-width="0.6" style="mix-blend-mode:multiply"/>
<circle cx="452.20" cy="270.80" r="24.00" fill="#d0e9d4" stroke="#c3e2c8" stroke-width="0.6" style="mix-blend-mode:multiply"/>
<circle cx="436.50" cy="298.00" r="23.80" fill="#f1c4cd" stroke="#eab6c2" stroke-width="0.6" style="mix-blend-mode:multiply"/>
<text x="415.40" y="267.20" font-size="6.8" fill="#231f20" stroke="#231f20" stroke-width="0.2" text-anchor="middle">771</text>
<text x="436.40" y="267.20" font-size="6.8" fill="#231f20" stroke="#231f20" stroke-width="0.2" text-anchor="middle">0</text>
<text x="457.80" y="267.20" font-size="6.8" fill="#231f20" stroke="#231f20" stroke-width="0.2" text-anchor="middle">1376</text>
<text x="436.40" y="281.40" font-size="6.8" fill="#231f20" stroke="#231f20" stroke-width="0.2" text-anchor="middle">0</text>
<text x="423.00" y="288.80" font-size="6.8" fill="#231f20" stroke="#231f20" stroke-width="0.2" text-anchor="middle">86</text>
<text x="449.20" y="288.80" font-size="6.8" fill="#231f20" stroke="#231f20" stroke-width="0.2" text-anchor="middle">161</text>
<text x="436.40" y="305.10" font-size="6.8" fill="#231f20" stroke="#231f20" stroke-width="0.2" text-anchor="middle">1165</text>
<text x="6.90" y="348.20" font-size="11.5" fill="#111" font-weight="bold">G</text>
<text x="83.30" y="375.60" font-size="6.4" fill="#231f20" stroke="#231f20" stroke-width="0.3" text-anchor="middle" font-weight="bold" textLength="30.80" lengthAdjust="spacingAndGlyphs">Nalm6 WT</text>
<circle cx="80.00" cy="419.20" r="32.20" fill="#f3d4dc" stroke="none" stroke-width="0.8" style="mix-blend-mode:multiply"/>
<circle cx="107.70" cy="420.30" r="22.70" fill="#d3dfea" stroke="none" stroke-width="0.8" style="mix-blend-mode:multiply"/>
<text x="75.20" y="402.00" font-size="6.6" fill="#231f20" stroke="#231f20" stroke-width="0.3" text-anchor="middle" font-weight="bold" textLength="13.40" lengthAdjust="spacingAndGlyphs">MYC</text>
<text x="101.20" y="411.00" font-size="6.6" fill="#231f20" stroke="#231f20" stroke-width="0.3" text-anchor="middle" font-weight="bold" textLength="12.90" lengthAdjust="spacingAndGlyphs">85%</text>
<text x="120.50" y="411.00" font-size="6.6" fill="#231f20" stroke="#231f20" stroke-width="0.3" text-anchor="middle" font-weight="bold" textLength="12.90" lengthAdjust="spacingAndGlyphs">15%</text>
<text x="62.80" y="421.20" font-size="6.6" fill="#231f20" stroke="#231f20" stroke-width="0.2" text-anchor="middle" textLength="16.80" lengthAdjust="spacingAndGlyphs">10554</text>
<text x="104.60" y="421.20" font-size="6.6" fill="#231f20" stroke="#231f20" stroke-width="0.2" text-anchor="middle" textLength="13.80" lengthAdjust="spacingAndGlyphs">1202</text>
<text x="123.30" y="421.20" font-size="6.6" fill="#231f20" stroke="#231f20" stroke-width="0.2" text-anchor="middle" textLength="10.90" lengthAdjust="spacingAndGlyphs">210</text>
<text x="111.60" y="431.60" font-size="6.6" fill="#231f20" stroke="#231f20" stroke-width="0.3" text-anchor="middle" font-weight="bold" textLength="25.90" lengthAdjust="spacingAndGlyphs">MondoA</text>
<text x="159.80" y="347.60" font-size="11.5" fill="#111" font-weight="bold">H</text>
<rect x="195.50" y="354.50" width="129.00" height="98.00" fill="none" stroke="#222" stroke-width="1.0"/>
<line x1="193.50" y1="440.50" x2="195.50" y2="440.50" stroke="#2b2b2b" stroke-width="0.8"/>
<text x="192.90" y="442.50" font-size="6.0" fill="#231f20" stroke="#231f20" stroke-width="0.2" text-anchor="end" textLength="8.80" lengthAdjust="spacingAndGlyphs">0.1</text>
<line x1="193.50" y1="418.50" x2="195.50" y2="418.50" stroke="#2b2b2b" stroke-width="0.8"/>
<text x="192.90" y="420.90" font-size="6.0" fill="#231f20" stroke="#231f20" stroke-width="0.2" text-anchor="end" textLength="8.80" lengthAdjust="spacingAndGlyphs">0.2</text>
<line x1="193.50" y1="397.50" x2="195.50" y2="397.50" stroke="#2b2b2b" stroke-width="0.8"/>
<text x="192.90" y="399.30" font-size="6.0" fill="#231f20" stroke="#231f20" stroke-width="0.2" text-anchor="end" textLength="8.80" lengthAdjust="spacingAndGlyphs">0.3</text>
<line x1="193.50" y1="375.50" x2="195.50" y2="375.50" stroke="#2b2b2b" stroke-width="0.8"/>
<text x="192.90" y="377.70" font-size="6.0" fill="#231f20" stroke="#231f20" stroke-width="0.2" text-anchor="end" textLength="8.80" lengthAdjust="spacingAndGlyphs">0.4</text>
<line x1="200.50" y1="452.00" x2="200.50" y2="454.00" stroke="#2b2b2b" stroke-width="0.8"/>
<text x="200.00" y="461.30" font-size="6.0" fill="#231f20" stroke="#231f20" stroke-width="0.2" text-anchor="middle" textLength="16.00" lengthAdjust="spacingAndGlyphs">-1000</text>
<line x1="223.50" y1="452.00" x2="223.50" y2="454.00" stroke="#2b2b2b" stroke-width="0.8"/>
<text x="223.85" y="461.30" font-size="6.0" fill="#231f20" stroke="#231f20" stroke-width="0.2" text-anchor="middle" textLength="11.80" lengthAdjust="spacingAndGlyphs">-500</text>
<line x1="247.50" y1="452.00" x2="247.50" y2="454.00" stroke="#2b2b2b" stroke-width="0.8"/>
<text x="247.70" y="461.30" font-size="6.0" fill="#231f20" stroke="#231f20" stroke-width="0.2" text-anchor="middle" textLength="16.00" lengthAdjust="spacingAndGlyphs">5’End</text>
<line x1="271.50" y1="452.00" x2="271.50" y2="454.00" stroke="#2b2b2b" stroke-width="0.8"/>
<text x="271.55" y="461.30" font-size="6.0" fill="#231f20" stroke="#231f20" stroke-width="0.2" text-anchor="middle" textLength="16.00" lengthAdjust="spacingAndGlyphs">3’End</text>
<line x1="295.50" y1="452.00" x2="295.50" y2="454.00" stroke="#2b2b2b" stroke-width="0.8"/>
<text x="295.40" y="461.30" font-size="6.0" fill="#231f20" stroke="#231f20" stroke-width="0.2" text-anchor="middle" textLength="10.40" lengthAdjust="spacingAndGlyphs">500</text>
<line x1="319.50" y1="452.00" x2="319.50" y2="454.00" stroke="#2b2b2b" stroke-width="0.8"/>
<text x="319.25" y="461.30" font-size="6.0" fill="#231f20" stroke="#231f20" stroke-width="0.2" text-anchor="middle" textLength="13.00" lengthAdjust="spacingAndGlyphs">1000</text>
<text x="271.05" y="469.00" font-size="6.3" fill="#231f20" stroke="#231f20" stroke-width="0.2" text-anchor="middle" textLength="24.50" lengthAdjust="spacingAndGlyphs">Genomis</text>
<text x="261.10" y="479.30" font-size="8.8" fill="#231f20" stroke="#231f20" stroke-width="0.2" text-anchor="middle" textLength="53.50" lengthAdjust="spacingAndGlyphs">Region (5’-&gt; 3’)</text>
<path d="M200.00,448.40 L200.50,448.33 L201.00,448.26 L201.50,448.18 L202.00,448.10 L202.50,448.01 L203.00,447.92 L203.50,447.83 L204.00,447.73 L204.50,447.63 L205.00,447.53 L205.50,447.42 L206.00,447.31 L206.50,447.20 L207.00,447.09 L207.50,446.97 L208.00,446.85 L208.50,446.73 L209.00,446.60 L209.50,446.47 L210.00,446.34 L210.50,446.21 L211.00,446.08 L211.50,445.95 L212.00,445.80 L212.50,445.66 L213.00,445.50 L213.50,445.34 L214.00,445.17 L214.50,445.00 L215.00,444.83 L215.50,444.64 L216.00,444.46 L216.50,444.27 L217.00,444.08 L217.50,443.88 L218.00,443.68 L218.50,443.48 L219.00,443.28 L219.50,443.07 L220.00,442.87 L220.50,442.66 L221.00,442.45 L221.50,442.25 L222.00,442.04 L222.50,441.83 L223.00,441.63 L223.50,441.42 L224.00,441.22 L224.50,441.02 L225.00,440.82 L225.50,440.63 L226.00,440.43 L226.50,440.24 L227.00,440.04 L227.50,439.84 L228.00,439.65 L228.50,439.45 L229.00,439.25 L229.50,439.04 L230.00,438.84 L230.50,438.63 L231.00,438.41 L231.50,438.19 L232.00,437.97 L232.50,437.74 L233.00,437.50 L233.50,437.25 L234.00,437.00 L234.50,436.73 L235.00,436.45 L235.50,436.15 L236.00,435.83 L236.50,435.51 L237.00,435.18 L237.50,434.84 L238.00,434.51 L238.50,434.17 L239.00,433.84 L239.50,433.52 L240.00,433.20 L240.50,432.90 L241.00,432.60 L241.50,432.29 L242.00,431.98 L242.50,431.67 L243.00,431.36 L243.50,431.05 L244.00,430.75 L244.50,430.46 L245.00,430.19 L245.50,429.93 L246.00,429.70 L246.50,429.48 L247.00,429.30 L247.50,429.13 L248.00,428.96 L248.50,428.79 L249.00,428.62 L249.50,428.47 L250.00,428.32 L250.50,428.18 L251.00,428.05 L251.50,427.94 L252.00,427.85 L252.50,427.78 L253.00,427.73 L253.50,427.70 L254.00,427.69 L254.50,427.67 L255.00,427.66 L255.50,427.65 L256.00,427.64 L256.50,427.63 L257.00,427.62 L257.50,427.62 L258.00,427.61 L258.50,427.61 L259.00,427.60 L259.50,427.60 L260.00,427.60 L260.50,427.61 L261.00,427.64 L261.50,427.69 L262.00,427.75 L262.50,427.83 L263.00,427.92 L263.50,428.02 L264.00,428.14 L264.50,428.26 L265.00,428.40 L265.50,428.54 L266.00,428.68 L266.50,428.83 L267.00,429.03 L267.50,429.30 L268.00,429.61 L268.50,429.97 L269.00,430.34 L269.50,430.74 L270.00,431.13 L270.50,431.51 L271.00,431.87 L271.50,432.19 L272.00,432.52 L272.50,432.84 L273.00,433.16 L273.50,433.48 L274.00,433.80 L274.50,434.12 L275.00,434.43 L275.50,434.74 L276.00,435.06 L276.50,435.37 L277.00,435.67 L277.50,435.98 L278.00,436.28 L278.50,436.60 L279.00,436.91 L279.50,437.24 L280.00,437.56 L280.50,437.89 L281.00,438.22 L281.50,438.55 L282.00,438.87 L282.50,439.19 L283.00,439.50 L283.50,439.81 L284.00,440.11 L284.50,440.39 L285.00,440.67 L285.50,440.93 L286.00,441.17 L286.50,441.40 L287.00,441.61 L287.50,441.80 L288.00,441.98 L288.50,442.15 L289.00,442.32 L289.50,442.48 L290.00,442.64 L290.50,442.80 L291.00,442.95 L291.50,443.10 L292.00,443.25 L292.50,443.39 L293.00,443.52 L293.50,443.66 L294.00,443.79 L294.50,443.92 L295.00,444.04 L295.50,444.16 L296.00,444.28 L296.50,444.40 L297.00,444.51 L297.50,444.62 L298.00,444.73 L298.50,444.83 L299.00,444.94 L299.50,445.04 L300.00,445.13 L300.50,445.23 L301.00,445.32 L301.50,445.42 L302.00,445.51 L302.50,445.59 L303.00,445.68 L303.50,445.77 L304.00,445.85 L304.50,445.93 L305.00,446.01 L305.50,446.10 L306.00,446.18 L306.50,446.26 L307.00,446.33 L307.50,446.41 L308.00,446.49 L308.50,446.56 L309.00,446.64 L309.50,446.71 L310.00,446.78 L310.50,446.85 L311.00,446.92 L311.50,446.98 L312.00,447.05 L312.50,447.11 L313.00,447.17 L313.50,447.23 L314.00,447.29 L314.50,447.35 L315.00,447.40 L315.50,447.46 L316.00,447.51 L316.50,447.56 L317.00,447.60 L317.50,447.65 L318.00,447.69 L318.50,447.73 L319.00,447.77 L319.50,447.80" stroke="#7d4a9e" stroke-width="1.1" fill="none"/>
<path d="M200.00,446.70 L200.50,446.63 L201.00,446.56 L201.50,446.48 L202.00,446.40 L202.50,446.31 L203.00,446.22 L203.50,446.13 L204.00,446.03 L204.50,445.93 L205.00,445.83 L205.50,445.72 L206.00,445.61 L206.50,445.50 L207.00,445.39 L207.50,445.27 L208.00,445.15 L208.50,445.03 L209.00,444.90 L209.50,444.77 L210.00,444.64 L210.50,444.51 L211.00,444.38 L211.50,444.25 L212.00,444.10 L212.50,443.96 L213.00,443.80 L213.50,443.64 L214.00,443.47 L214.50,443.30 L215.00,443.12 L215.50,442.94 L216.00,442.75 L216.50,442.56 L217.00,442.37 L217.50,442.17 L218.00,441.97 L218.50,441.77 L219.00,441.57 L219.50,441.36 L220.00,441.16 L220.50,440.95 L221.00,440.74 L221.50,440.54 L222.00,440.33 L222.50,440.13 L223.00,439.92 L223.50,439.72 L224.00,439.52 L224.50,439.32 L225.00,439.13 L225.50,438.94 L226.00,438.75 L226.50,438.57 L227.00,438.38 L227.50,438.20 L228.00,438.01 L228.50,437.83 L229.00,437.64 L229.50,437.45 L230.00,437.25 L230.50,437.05 L231.00,436.84 L231.50,436.62 L232.00,436.40 L232.50,436.16 L233.00,435.92 L233.50,435.67 L234.00,435.40 L234.50,435.11 L235.00,434.80 L235.50,434.46 L236.00,434.09 L236.50,433.71 L237.00,433.32 L237.50,432.92 L238.00,432.51 L238.50,432.10 L239.00,431.69 L239.50,431.28 L240.00,430.88 L240.50,430.50 L241.00,430.12 L241.50,429.72 L242.00,429.31 L242.50,428.90 L243.00,428.49 L243.50,428.09 L244.00,427.68 L244.50,427.29 L245.00,426.91 L245.50,426.55 L246.00,426.21 L246.50,425.89 L247.00,425.60 L247.50,425.32 L248.00,425.05 L248.50,424.77 L249.00,424.50 L249.50,424.23 L250.00,423.98 L250.50,423.74 L251.00,423.52 L251.50,423.32 L252.00,423.15 L252.50,423.00 L253.00,422.88 L253.50,422.80 L254.00,422.74 L254.50,422.67 L255.00,422.62 L255.50,422.56 L256.00,422.51 L256.50,422.47 L257.00,422.42 L257.50,422.39 L258.00,422.36 L258.50,422.33 L259.00,422.31 L259.50,422.30 L260.00,422.30 L260.50,422.31 L261.00,422.32 L261.50,422.35 L262.00,422.39 L262.50,422.44 L263.00,422.50 L263.50,422.57 L264.00,422.64 L264.50,422.73 L265.00,422.82 L265.50,422.91 L266.00,423.01 L266.50,423.12 L267.00,423.29 L267.50,423.52 L268.00,423.82 L268.50,424.16 L269.00,424.53 L269.50,424.93 L270.00,425.34 L270.50,425.75 L271.00,426.15 L271.50,426.53 L272.00,426.93 L272.50,427.36 L273.00,427.80 L273.50,428.26 L274.00,428.72 L274.50,429.19 L275.00,429.66 L275.50,430.12 L276.00,430.57 L276.50,431.02 L277.00,431.44 L277.50,431.85 L278.00,432.23 L278.50,432.61 L279.00,432.99 L279.50,433.36 L280.00,433.74 L280.50,434.11 L281.00,434.47 L281.50,434.83 L282.00,435.19 L282.50,435.54 L283.00,435.88 L283.50,436.21 L284.00,436.54 L284.50,436.85 L285.00,437.15 L285.50,437.45 L286.00,437.73 L286.50,438.00 L287.00,438.26 L287.50,438.50 L288.00,438.73 L288.50,438.96 L289.00,439.19 L289.50,439.41 L290.00,439.63 L290.50,439.84 L291.00,440.05 L291.50,440.26 L292.00,440.46 L292.50,440.66 L293.00,440.86 L293.50,441.05 L294.00,441.24 L294.50,441.42 L295.00,441.60 L295.50,441.78 L296.00,441.96 L296.50,442.13 L297.00,442.29 L297.50,442.46 L298.00,442.62 L298.50,442.77 L299.00,442.92 L299.50,443.07 L300.00,443.22 L300.50,443.36 L301.00,443.50 L301.50,443.64 L302.00,443.77 L302.50,443.90 L303.00,444.03 L303.50,444.15 L304.00,444.27 L304.50,444.39 L305.00,444.51 L305.50,444.63 L306.00,444.74 L306.50,444.86 L307.00,444.97 L307.50,445.08 L308.00,445.19 L308.50,445.30 L309.00,445.41 L309.50,445.51 L310.00,445.61 L310.50,445.71 L311.00,445.81 L311.50,445.91 L312.00,446.00 L312.50,446.09 L313.00,446.18 L313.50,446.27 L314.00,446.36 L314.50,446.44 L315.00,446.52 L315.50,446.59 L316.00,446.67 L316.50,446.74 L317.00,446.81 L317.50,446.87 L318.00,446.93 L318.50,446.99 L319.00,447.05 L319.50,447.10" stroke="#46c34a" stroke-width="1.1" fill="none"/>
<path d="M200.00,447.10 L200.50,446.99 L201.00,446.88 L201.50,446.76 L202.00,446.64 L202.50,446.51 L203.00,446.38 L203.50,446.24 L204.00,446.09 L204.50,445.94 L205.00,445.79 L205.50,445.63 L206.00,445.47 L206.50,445.30 L207.00,445.13 L207.50,444.95 L208.00,444.77 L208.50,444.59 L209.00,444.40 L209.50,444.21 L210.00,444.02 L210.50,443.82 L211.00,443.62 L211.50,443.42 L212.00,443.21 L212.50,442.99 L213.00,442.77 L213.50,442.54 L214.00,442.30 L214.50,442.06 L215.00,441.81 L215.50,441.56 L216.00,441.29 L216.50,441.02 L217.00,440.75 L217.50,440.47 L218.00,440.19 L218.50,439.90 L219.00,439.60 L219.50,439.30 L220.00,439.00 L220.50,438.69 L221.00,438.37 L221.50,438.05 L222.00,437.73 L222.50,437.40 L223.00,437.07 L223.50,436.74 L224.00,436.40 L224.50,436.06 L225.00,435.73 L225.50,435.39 L226.00,435.05 L226.50,434.71 L227.00,434.36 L227.50,434.01 L228.00,433.65 L228.50,433.28 L229.00,432.89 L229.50,432.50 L230.00,432.08 L230.50,431.65 L231.00,431.20 L231.50,430.73 L232.00,430.24 L232.50,429.72 L233.00,429.18 L233.50,428.60 L234.00,428.00 L234.50,427.34 L235.00,426.60 L235.50,425.78 L236.00,424.88 L236.50,423.91 L237.00,422.87 L237.50,421.76 L238.00,420.58 L238.50,419.34 L239.00,418.03 L239.50,416.53 L240.00,414.82 L240.50,412.93 L241.00,410.90 L241.50,408.77 L242.00,406.58 L242.50,404.37 L243.00,402.17 L243.50,400.04 L244.00,397.97 L244.50,395.78 L245.00,393.46 L245.50,391.09 L246.00,388.71 L246.50,386.39 L247.00,384.20 L247.50,382.19 L248.00,380.43 L248.50,378.98 L249.00,377.83 L249.50,376.76 L250.00,375.75 L250.50,374.80 L251.00,373.92 L251.50,373.14 L252.00,372.45 L252.50,371.88 L253.00,371.42 L253.50,371.10 L254.00,370.85 L254.50,370.61 L255.00,370.39 L255.50,370.18 L256.00,369.99 L256.50,369.82 L257.00,369.66 L257.50,369.53 L258.00,369.41 L258.50,369.32 L259.00,369.25 L259.50,369.21 L260.00,369.20 L260.50,369.23 L261.00,369.31 L261.50,369.44 L262.00,369.62 L262.50,369.84 L263.00,370.10 L263.50,370.40 L264.00,370.73 L264.50,371.10 L265.00,371.49 L265.50,371.90 L266.00,372.34 L266.50,372.80 L267.00,373.41 L267.50,374.24 L268.00,375.24 L268.50,376.39 L269.00,377.67 L269.50,379.05 L270.00,380.49 L270.50,381.99 L271.00,383.50 L271.50,385.05 L272.00,386.82 L272.50,388.76 L273.00,390.82 L273.50,392.93 L274.00,395.05 L274.50,397.10 L275.00,399.15 L275.50,401.27 L276.00,403.41 L276.50,405.51 L277.00,407.53 L277.50,409.40 L278.00,411.12 L278.50,412.77 L279.00,414.36 L279.50,415.87 L280.00,417.29 L280.50,418.61 L281.00,419.80 L281.50,420.91 L282.00,422.00 L282.50,423.05 L283.00,424.06 L283.50,425.04 L284.00,425.98 L284.50,426.87 L285.00,427.72 L285.50,428.52 L286.00,429.27 L286.50,429.97 L287.00,430.61 L287.50,431.20 L288.00,431.74 L288.50,432.26 L289.00,432.76 L289.50,433.23 L290.00,433.68 L290.50,434.11 L291.00,434.52 L291.50,434.91 L292.00,435.29 L292.50,435.66 L293.00,436.01 L293.50,436.35 L294.00,436.68 L294.50,437.01 L295.00,437.32 L295.50,437.64 L296.00,437.95 L296.50,438.25 L297.00,438.54 L297.50,438.83 L298.00,439.11 L298.50,439.38 L299.00,439.65 L299.50,439.91 L300.00,440.16 L300.50,440.40 L301.00,440.64 L301.50,440.87 L302.00,441.09 L302.50,441.31 L303.00,441.52 L303.50,441.72 L304.00,441.92 L304.50,442.11 L305.00,442.30 L305.50,442.49 L306.00,442.68 L306.50,442.87 L307.00,443.05 L307.50,443.24 L308.00,443.42 L308.50,443.60 L309.00,443.77 L309.50,443.94 L310.00,444.11 L310.50,444.28 L311.00,444.44 L311.50,444.60 L312.00,444.76 L312.50,444.91 L313.00,445.06 L313.50,445.21 L314.00,445.35 L314.50,445.49 L315.00,445.62 L315.50,445.75 L316.00,445.87 L316.50,445.99 L317.00,446.11 L317.50,446.22 L318.00,446.32 L318.50,446.42 L319.00,446.51 L319.50,446.60" stroke="#e2394f" stroke-width="1.1" fill="none"/>
<path d="M200.00,444.00 L200.50,443.88 L201.00,443.76 L201.50,443.63 L202.00,443.49 L202.50,443.35 L203.00,443.21 L203.50,443.06 L204.00,442.90 L204.50,442.75 L205.00,442.58 L205.50,442.41 L206.00,442.24 L206.50,442.07 L207.00,441.89 L207.50,441.70 L208.00,441.52 L208.50,441.33 L209.00,441.13 L209.50,440.93 L210.00,440.73 L210.50,440.53 L211.00,440.32 L211.50,440.12 L212.00,439.90 L212.50,439.68 L213.00,439.46 L213.50,439.23 L214.00,439.00 L214.50,438.76 L215.00,438.52 L215.50,438.27 L216.00,438.02 L216.50,437.76 L217.00,437.49 L217.50,437.22 L218.00,436.94 L218.50,436.66 L219.00,436.37 L219.50,436.08 L220.00,435.77 L220.50,435.47 L221.00,435.15 L221.50,434.83 L222.00,434.50 L222.50,434.17 L223.00,433.82 L223.50,433.47 L224.00,433.12 L224.50,432.75 L225.00,432.38 L225.50,432.01 L226.00,431.63 L226.50,431.23 L227.00,430.83 L227.50,430.42 L228.00,429.99 L228.50,429.54 L229.00,429.08 L229.50,428.60 L230.00,428.10 L230.50,427.58 L231.00,427.04 L231.50,426.47 L232.00,425.87 L232.50,425.25 L233.00,424.60 L233.50,423.91 L234.00,423.20 L234.50,422.42 L235.00,421.53 L235.50,420.56 L236.00,419.49 L236.50,418.34 L237.00,417.10 L237.50,415.80 L238.00,414.43 L238.50,412.99 L239.00,411.49 L239.50,409.81 L240.00,407.92 L240.50,405.85 L241.00,403.64 L241.50,401.35 L242.00,399.00 L242.50,396.63 L243.00,394.29 L243.50,392.02 L244.00,389.82 L244.50,387.54 L245.00,385.17 L245.50,382.75 L246.00,380.33 L246.50,377.97 L247.00,375.72 L247.50,373.62 L248.00,371.72 L248.50,370.08 L249.00,368.68 L249.50,367.33 L250.00,366.02 L250.50,364.78 L251.00,363.62 L251.50,362.57 L252.00,361.64 L252.50,360.85 L253.00,360.23 L253.50,359.80 L254.00,359.47 L254.50,359.16 L255.00,358.87 L255.50,358.59 L256.00,358.34 L256.50,358.11 L257.00,357.91 L257.50,357.73 L258.00,357.58 L258.50,357.46 L259.00,357.37 L259.50,357.32 L260.00,357.30 L260.50,357.34 L261.00,357.44 L261.50,357.60 L262.00,357.82 L262.50,358.09 L263.00,358.41 L263.50,358.77 L264.00,359.17 L264.50,359.59 L265.00,360.04 L265.50,360.52 L266.00,361.00 L266.50,361.50 L267.00,362.09 L267.50,362.79 L268.00,363.61 L268.50,364.54 L269.00,365.57 L269.50,366.69 L270.00,367.89 L270.50,369.18 L271.00,370.54 L271.50,372.03 L272.00,373.90 L272.50,376.07 L273.00,378.44 L273.50,380.91 L274.00,383.36 L274.50,385.70 L275.00,387.98 L275.50,390.30 L276.00,392.64 L276.50,394.96 L277.00,397.24 L277.50,399.45 L278.00,401.58 L278.50,403.76 L279.00,405.93 L279.50,408.03 L280.00,410.00 L280.50,411.78 L281.00,413.30 L281.50,414.65 L282.00,415.93 L282.50,417.16 L283.00,418.34 L283.50,419.45 L284.00,420.50 L284.50,421.50 L285.00,422.44 L285.50,423.33 L286.00,424.16 L286.50,424.93 L287.00,425.64 L287.50,426.30 L288.00,426.91 L288.50,427.50 L289.00,428.05 L289.50,428.58 L290.00,429.08 L290.50,429.55 L291.00,430.01 L291.50,430.45 L292.00,430.87 L292.50,431.28 L293.00,431.67 L293.50,432.06 L294.00,432.43 L294.50,432.80 L295.00,433.17 L295.50,433.53 L296.00,433.89 L296.50,434.24 L297.00,434.59 L297.50,434.93 L298.00,435.27 L298.50,435.60 L299.00,435.92 L299.50,436.23 L300.00,436.54 L300.50,436.84 L301.00,437.12 L301.50,437.40 L302.00,437.67 L302.50,437.93 L303.00,438.17 L303.50,438.41 L304.00,438.63 L304.50,438.86 L305.00,439.08 L305.50,439.30 L306.00,439.52 L306.50,439.73 L307.00,439.95 L307.50,440.16 L308.00,440.36 L308.50,440.57 L309.00,440.77 L309.50,440.97 L310.00,441.16 L310.50,441.35 L311.00,441.54 L311.50,441.72 L312.00,441.90 L312.50,442.07 L313.00,442.24 L313.50,442.40 L314.00,442.56 L314.50,442.71 L315.00,442.86 L315.50,443.00 L316.00,443.14 L316.50,443.27 L317.00,443.39 L317.50,443.51 L318.00,443.62 L318.50,443.72 L319.00,443.81 L319.50,443.90" stroke="#2f6fae" stroke-width="1.1" fill="none"/>
<rect x="275.50" y="354.50" width="49.00" height="35.00" fill="#fff" stroke="#666" stroke-width="0.7"/>
<text x="278.10" y="360.00" font-size="5.7" fill="#e2394f" stroke="#e2394f" stroke-width="0.2" textLength="39.50" lengthAdjust="spacingAndGlyphs">Not overlapping</text>
<text x="278.10" y="365.40" font-size="5.7" fill="#e2394f" stroke="#e2394f" stroke-width="0.2" textLength="26.50" lengthAdjust="spacingAndGlyphs">MycIP-MKO</text>
<text x="278.10" y="371.20" font-size="5.7" fill="#2f6fae" stroke="#2f6fae" stroke-width="0.2" textLength="39.50" lengthAdjust="spacingAndGlyphs">Not overlapping</text>
<text x="278.10" y="377.00" font-size="5.7" fill="#2f6fae" stroke="#2f6fae" stroke-width="0.2" textLength="27.00" lengthAdjust="spacingAndGlyphs">MycIP-MWT</text>
<text x="278.10" y="382.70" font-size="5.7" fill="#46c34a" stroke="#46c34a" stroke-width="0.2" textLength="24.00" lengthAdjust="spacingAndGlyphs">Input-MKO</text>
<text x="278.10" y="388.10" font-size="5.7" fill="#7d4a9e" stroke="#7d4a9e" stroke-width="0.2" textLength="24.50" lengthAdjust="spacingAndGlyphs">Input-MWT</text>
<text x="166.30" y="406.60" font-size="8.0" fill="#231f20" stroke="#231f20" stroke-width="0.2" text-anchor="middle" textLength="76.00" lengthAdjust="spacingAndGlyphs" transform="rotate(-90 166.30 406.60)">Read count Per Million</text>
<text x="177.50" y="407.30" font-size="8.0" fill="#231f20" stroke="#231f20" stroke-width="0.2" text-anchor="middle" textLength="47.00" lengthAdjust="spacingAndGlyphs" transform="rotate(-90 177.50 407.30)">mapped reads</text>
<rect x="380.50" y="354.50" width="133.00" height="98.00" fill="none" stroke="#222" stroke-width="1.0"/>
<line x1="378.10" y1="442.50" x2="380.10" y2="442.50" stroke="#2b2b2b" stroke-width="0.8"/>
<text x="377.50" y="444.60" font-size="6.0" fill="#231f20" stroke="#231f20" stroke-width="0.2" text-anchor="end" textLength="8.80" lengthAdjust="spacingAndGlyphs">0.1</text>
<line x1="378.10" y1="428.50" x2="380.10" y2="428.50" stroke="#2b2b2b" stroke-width="0.8"/>
<text x="377.50" y="430.10" font-size="6.0" fill="#231f20" stroke="#231f20" stroke-width="0.2" text-anchor="end" textLength="8.80" lengthAdjust="spacingAndGlyphs">0.2</text>
<line x1="378.10" y1="413.50" x2="380.10" y2="413.50" stroke="#2b2b2b" stroke-width="0.8"/>
<text x="377.50" y="415.60" font-size="6.0" fill="#231f20" stroke="#231f20" stroke-width="0.2" text-anchor="end" textLength="8.80" lengthAdjust="spacingAndGlyphs">0.3</text>
<line x1="378.10" y1="399.50" x2="380.10" y2="399.50" stroke="#2b2b2b" stroke-width="0.8"/>
<text x="377.50" y="401.10" font-size="6.0" fill="#231f20" stroke="#231f20" stroke-width="0.2" text-anchor="end" textLength="8.80" lengthAdjust="spacingAndGlyphs">0.4</text>
<line x1="378.10" y1="384.50" x2="380.10" y2="384.50" stroke="#2b2b2b" stroke-width="0.8"/>
<text x="377.50" y="386.60" font-size="6.0" fill="#231f20" stroke="#231f20" stroke-width="0.2" text-anchor="end" textLength="8.80" lengthAdjust="spacingAndGlyphs">0.5</text>
<line x1="378.10" y1="370.50" x2="380.10" y2="370.50" stroke="#2b2b2b" stroke-width="0.8"/>
<text x="377.50" y="372.10" font-size="6.0" fill="#231f20" stroke="#231f20" stroke-width="0.2" text-anchor="end" textLength="8.80" lengthAdjust="spacingAndGlyphs">0.6</text>
<line x1="378.10" y1="355.50" x2="380.10" y2="355.50" stroke="#2b2b2b" stroke-width="0.8"/>
<text x="377.50" y="357.60" font-size="6.0" fill="#231f20" stroke="#231f20" stroke-width="0.2" text-anchor="end" textLength="8.80" lengthAdjust="spacingAndGlyphs">0.7</text>
<line x1="384.50" y1="452.20" x2="384.50" y2="454.20" stroke="#2b2b2b" stroke-width="0.8"/>
<text x="384.90" y="461.50" font-size="6.0" fill="#231f20" stroke="#231f20" stroke-width="0.2" text-anchor="middle" textLength="16.00" lengthAdjust="spacingAndGlyphs">-1000</text>
<line x1="408.50" y1="452.20" x2="408.50" y2="454.20" stroke="#2b2b2b" stroke-width="0.8"/>
<text x="408.75" y="461.50" font-size="6.0" fill="#231f20" stroke="#231f20" stroke-width="0.2" text-anchor="middle" textLength="11.80" lengthAdjust="spacingAndGlyphs">-500</text>
<line x1="432.50" y1="452.20" x2="432.50" y2="454.20" stroke="#2b2b2b" stroke-width="0.8"/>
<text x="432.60" y="461.50" font-size="6.0" fill="#231f20" stroke="#231f20" stroke-width="0.2" text-anchor="middle" textLength="16.00" lengthAdjust="spacingAndGlyphs">5’End</text>
<line x1="456.50" y1="452.20" x2="456.50" y2="454.20" stroke="#2b2b2b" stroke-width="0.8"/>
<text x="456.45" y="461.50" font-size="6.0" fill="#231f20" stroke="#231f20" stroke-width="0.2" text-anchor="middle" textLength="16.00" lengthAdjust="spacingAndGlyphs">3’End</text>
<line x1="480.50" y1="452.20" x2="480.50" y2="454.20" stroke="#2b2b2b" stroke-width="0.8"/>
<text x="480.30" y="461.50" font-size="6.0" fill="#231f20" stroke="#231f20" stroke-width="0.2" text-anchor="middle" textLength="10.40" lengthAdjust="spacingAndGlyphs">500</text>
<line x1="504.50" y1="452.20" x2="504.50" y2="454.20" stroke="#2b2b2b" stroke-width="0.8"/>
<text x="504.15" y="461.50" font-size="6.0" fill="#231f20" stroke="#231f20" stroke-width="0.2" text-anchor="middle" textLength="13.00" lengthAdjust="spacingAndGlyphs">1000</text>
<text x="455.95" y="469.20" font-size="6.3" fill="#231f20" stroke="#231f20" stroke-width="0.2" text-anchor="middle" textLength="24.50" lengthAdjust="spacingAndGlyphs">Genomis</text>
<text x="446.30" y="479.50" font-size="8.8" fill="#231f20" stroke="#231f20" stroke-width="0.2" text-anchor="middle" textLength="53.50" lengthAdjust="spacingAndGlyphs">Region (5’-&gt; 3’)</text>
<path d="M384.90,448.70 L385.40,448.66 L385.90,448.62 L386.40,448.58 L386.90,448.54 L387.40,448.49 L387.90,448.43 L388.40,448.38 L388.90,448.32 L389.40,448.26 L389.90,448.19 L390.40,448.12 L390.90,448.05 L391.40,447.98 L391.90,447.90 L392.40,447.83 L392.90,447.75 L393.40,447.67 L393.90,447.58 L394.40,447.50 L394.90,447.41 L395.40,447.32 L395.90,447.23 L396.40,447.13 L396.90,447.04 L397.40,446.94 L397.90,446.85 L398.40,446.75 L398.90,446.65 L399.40,446.55 L399.90,446.45 L400.40,446.34 L400.90,446.24 L401.40,446.14 L401.90,446.03 L402.40,445.91 L402.90,445.78 L403.40,445.65 L403.90,445.52 L404.40,445.38 L404.90,445.23 L405.40,445.09 L405.90,444.93 L406.40,444.78 L406.90,444.63 L407.40,444.47 L407.90,444.31 L408.40,444.15 L408.90,443.99 L409.40,443.84 L409.90,443.68 L410.40,443.52 L410.90,443.36 L411.40,443.20 L411.90,443.04 L412.40,442.87 L412.90,442.70 L413.40,442.53 L413.90,442.36 L414.40,442.18 L414.90,441.99 L415.40,441.81 L415.90,441.61 L416.40,441.42 L416.90,441.21 L417.40,441.00 L417.90,440.78 L418.40,440.55 L418.90,440.30 L419.40,440.05 L419.90,439.79 L420.40,439.52 L420.90,439.24 L421.40,438.96 L421.90,438.67 L422.40,438.38 L422.90,438.07 L423.40,437.75 L423.90,437.41 L424.40,437.07 L424.90,436.72 L425.40,436.38 L425.90,436.05 L426.40,435.72 L426.90,435.42 L427.40,435.13 L427.90,434.83 L428.40,434.53 L428.90,434.23 L429.40,433.94 L429.90,433.66 L430.40,433.41 L430.90,433.18 L431.40,432.98 L431.90,432.83 L432.40,432.70 L432.90,432.59 L433.40,432.49 L433.90,432.39 L434.40,432.30 L434.90,432.23 L435.40,432.15 L435.90,432.09 L436.40,432.04 L436.90,431.99 L437.40,431.95 L437.90,431.90 L438.40,431.86 L438.90,431.82 L439.40,431.78 L439.90,431.75 L440.40,431.73 L440.90,431.71 L441.40,431.70 L441.90,431.70 L442.40,431.71 L442.90,431.73 L443.40,431.75 L443.90,431.78 L444.40,431.82 L444.90,431.86 L445.40,431.91 L445.90,431.96 L446.40,432.01 L446.90,432.07 L447.40,432.12 L447.90,432.18 L448.40,432.23 L448.90,432.29 L449.40,432.36 L449.90,432.43 L450.40,432.50 L450.90,432.58 L451.40,432.67 L451.90,432.76 L452.40,432.85 L452.90,432.95 L453.40,433.06 L453.90,433.17 L454.40,433.29 L454.90,433.42 L455.40,433.55 L455.90,433.69 L456.40,433.83 L456.90,434.00 L457.40,434.21 L457.90,434.44 L458.40,434.69 L458.90,434.96 L459.40,435.24 L459.90,435.52 L460.40,435.81 L460.90,436.09 L461.40,436.37 L461.90,436.65 L462.40,436.95 L462.90,437.25 L463.40,437.55 L463.90,437.86 L464.40,438.17 L464.90,438.47 L465.40,438.76 L465.90,439.04 L466.40,439.32 L466.90,439.59 L467.40,439.87 L467.90,440.14 L468.40,440.41 L468.90,440.68 L469.40,440.94 L469.90,441.20 L470.40,441.45 L470.90,441.69 L471.40,441.92 L471.90,442.15 L472.40,442.36 L472.90,442.56 L473.40,442.77 L473.90,442.97 L474.40,443.17 L474.90,443.36 L475.40,443.55 L475.90,443.74 L476.40,443.93 L476.90,444.11 L477.40,444.28 L477.90,444.45 L478.40,444.62 L478.90,444.78 L479.40,444.94 L479.90,445.08 L480.40,445.23 L480.90,445.36 L481.40,445.49 L481.90,445.61 L482.40,445.72 L482.90,445.83 L483.40,445.94 L483.90,446.04 L484.40,446.14 L484.90,446.24 L485.40,446.34 L485.90,446.43 L486.40,446.52 L486.90,446.61 L487.40,446.69 L487.90,446.77 L488.40,446.85 L488.90,446.92 L489.40,446.99 L489.90,447.06 L490.40,447.12 L490.90,447.18 L491.40,447.23 L491.90,447.28 L492.40,447.33 L492.90,447.37 L493.40,447.41 L493.90,447.44 L494.40,447.48 L494.90,447.51 L495.40,447.54 L495.90,447.57 L496.40,447.60 L496.90,447.62 L497.40,447.65 L497.90,447.68 L498.40,447.70 L498.90,447.73 L499.40,447.76 L499.90,447.78 L500.40,447.81 L500.90,447.84 L501.40,447.87 L501.90,447.91 L502.40,447.94 L502.90,447.98 L503.40,448.01 L503.90,448.05 L504.40,448.08 L504.90,448.12 L505.40,448.16 L505.90,448.20 L506.40,448.24 L506.90,448.27 L507.40,448.31 L507.90,448.35 L508.40,448.39" stroke="#7d4a9e" stroke-width="1.1" fill="none"/>
<path d="M384.90,448.30 L385.40,448.23 L385.90,448.15 L386.40,448.08 L386.90,448.00 L387.40,447.92 L387.90,447.83 L388.40,447.75 L388.90,447.66 L389.40,447.57 L389.90,447.47 L390.40,447.38 L390.90,447.28 L391.40,447.19 L391.90,447.09 L392.40,446.99 L392.90,446.88 L393.40,446.78 L393.90,446.67 L394.40,446.56 L394.90,446.45 L395.40,446.34 L395.90,446.23 L396.40,446.12 L396.90,446.00 L397.40,445.89 L397.90,445.77 L398.40,445.65 L398.90,445.53 L399.40,445.41 L399.90,445.29 L400.40,445.17 L400.90,445.05 L401.40,444.93 L401.90,444.80 L402.40,444.67 L402.90,444.53 L403.40,444.40 L403.90,444.26 L404.40,444.12 L404.90,443.97 L405.40,443.82 L405.90,443.67 L406.40,443.51 L406.90,443.36 L407.40,443.20 L407.90,443.04 L408.40,442.87 L408.90,442.70 L409.40,442.53 L409.90,442.36 L410.40,442.19 L410.90,442.01 L411.40,441.83 L411.90,441.65 L412.40,441.47 L412.90,441.28 L413.40,441.09 L413.90,440.89 L414.40,440.68 L414.90,440.47 L415.40,440.25 L415.90,440.03 L416.40,439.79 L416.90,439.55 L417.40,439.30 L417.90,439.03 L418.40,438.74 L418.90,438.43 L419.40,438.11 L419.90,437.77 L420.40,437.42 L420.90,437.06 L421.40,436.69 L421.90,436.32 L422.40,435.95 L422.90,435.55 L423.40,435.14 L423.90,434.71 L424.40,434.27 L424.90,433.82 L425.40,433.38 L425.90,432.95 L426.40,432.54 L426.90,432.15 L427.40,431.78 L427.90,431.42 L428.40,431.06 L428.90,430.71 L429.40,430.37 L429.90,430.04 L430.40,429.72 L430.90,429.42 L431.40,429.13 L431.90,428.85 L432.40,428.59 L432.90,428.32 L433.40,428.06 L433.90,427.81 L434.40,427.57 L434.90,427.34 L435.40,427.13 L435.90,426.95 L436.40,426.80 L436.90,426.68 L437.40,426.57 L437.90,426.47 L438.40,426.37 L438.90,426.28 L439.40,426.19 L439.90,426.12 L440.40,426.07 L440.90,426.03 L441.40,426.00 L441.90,426.00 L442.40,426.00 L442.90,426.00 L443.40,426.00 L443.90,426.00 L444.40,426.00 L444.90,426.00 L445.40,426.00 L445.90,426.00 L446.40,426.00 L446.90,426.00 L447.40,426.01 L447.90,426.02 L448.40,426.04 L448.90,426.06 L449.40,426.08 L449.90,426.11 L450.40,426.15 L450.90,426.20 L451.40,426.28 L451.90,426.37 L452.40,426.49 L452.90,426.61 L453.40,426.75 L453.90,426.90 L454.40,427.07 L454.90,427.25 L455.40,427.44 L455.90,427.64 L456.40,427.84 L456.90,428.12 L457.40,428.49 L457.90,428.93 L458.40,429.42 L458.90,429.95 L459.40,430.49 L459.90,431.02 L460.40,431.54 L460.90,432.02 L461.40,432.46 L461.90,432.89 L462.40,433.32 L462.90,433.75 L463.40,434.17 L463.90,434.58 L464.40,434.98 L464.90,435.38 L465.40,435.76 L465.90,436.13 L466.40,436.49 L466.90,436.84 L467.40,437.19 L467.90,437.54 L468.40,437.88 L468.90,438.21 L469.40,438.54 L469.90,438.85 L470.40,439.16 L470.90,439.45 L471.40,439.73 L471.90,440.00 L472.40,440.25 L472.90,440.49 L473.40,440.72 L473.90,440.95 L474.40,441.17 L474.90,441.39 L475.40,441.60 L475.90,441.80 L476.40,442.00 L476.90,442.19 L477.40,442.38 L477.90,442.57 L478.40,442.75 L478.90,442.92 L479.40,443.09 L479.90,443.26 L480.40,443.42 L480.90,443.58 L481.40,443.73 L481.90,443.88 L482.40,444.03 L482.90,444.17 L483.40,444.31 L483.90,444.45 L484.40,444.59 L484.90,444.72 L485.40,444.85 L485.90,444.98 L486.40,445.10 L486.90,445.22 L487.40,445.34 L487.90,445.46 L488.40,445.57 L488.90,445.68 L489.40,445.79 L489.90,445.89 L490.40,445.99 L490.90,446.08 L491.40,446.18 L491.90,446.27 L492.40,446.35 L492.90,446.43 L493.40,446.52 L493.90,446.60 L494.40,446.67 L494.90,446.75 L495.40,446.82 L495.90,446.90 L496.40,446.97 L496.90,447.04 L497.40,447.10 L497.90,447.17 L498.40,447.23 L498.90,447.29 L499.40,447.35 L499.90,447.41 L500.40,447.46 L500.90,447.51 L501.40,447.56 L501.90,447.61 L502.40,447.66 L502.90,447.70 L503.40,447.74 L503.90,447.79 L504.40,447.83 L504.90,447.87 L505.40,447.91 L505.90,447.94 L506.40,447.98 L506.90,448.01 L507.40,448.04 L507.90,448.07 L508.40,448.09" stroke="#46c34a" stroke-width="1.1" fill="none"/>
<path d="M384.90,447.50 L385.40,447.46 L385.90,447.41 L386.40,447.35 L386.90,447.27 L387.40,447.19 L387.90,447.10 L388.40,447.00 L388.90,446.89 L389.40,446.78 L389.90,446.65 L390.40,446.53 L390.90,446.40 L391.40,446.26 L391.90,446.12 L392.40,445.98 L392.90,445.83 L393.40,445.68 L393.90,445.51 L394.40,445.32 L394.90,445.12 L395.40,444.91 L395.90,444.68 L396.40,444.45 L396.90,444.20 L397.40,443.94 L397.90,443.67 L398.40,443.39 L398.90,443.11 L399.40,442.82 L399.90,442.53 L400.40,442.23 L400.90,441.92 L401.40,441.61 L401.90,441.29 L402.40,440.96 L402.90,440.61 L403.40,440.25 L403.90,439.88 L404.40,439.50 L404.90,439.10 L405.40,438.70 L405.90,438.28 L406.40,437.86 L406.90,437.42 L407.40,436.98 L407.90,436.52 L408.40,436.06 L408.90,435.59 L409.40,435.11 L409.90,434.62 L410.40,434.11 L410.90,433.60 L411.40,433.07 L411.90,432.53 L412.40,431.97 L412.90,431.40 L413.40,430.82 L413.90,430.21 L414.40,429.59 L414.90,428.96 L415.40,428.30 L415.90,427.63 L416.40,426.94 L416.90,426.23 L417.40,425.50 L417.90,424.74 L418.40,423.96 L418.90,423.14 L419.40,422.28 L419.90,421.38 L420.40,420.43 L420.90,419.44 L421.40,418.39 L421.90,417.29 L422.40,416.12 L422.90,414.84 L423.40,413.44 L423.90,411.94 L424.40,410.36 L424.90,408.71 L425.40,407.03 L425.90,405.31 L426.40,403.59 L426.90,401.88 L427.40,400.17 L427.90,398.41 L428.40,396.58 L428.90,394.72 L429.40,392.84 L429.90,390.95 L430.40,389.07 L430.90,387.21 L431.40,385.40 L431.90,383.64 L432.40,381.90 L432.90,380.08 L433.40,378.23 L433.90,376.38 L434.40,374.58 L434.90,372.86 L435.40,371.28 L435.90,369.87 L436.40,368.67 L436.90,367.73 L437.40,366.90 L437.90,366.10 L438.40,365.36 L438.90,364.67 L439.40,364.04 L439.90,363.48 L440.40,363.00 L440.90,362.62 L441.40,362.33 L441.90,362.13 L442.40,361.96 L442.90,361.81 L443.40,361.66 L443.90,361.53 L444.40,361.42 L444.90,361.33 L445.40,361.26 L445.90,361.22 L446.40,361.20 L446.90,361.22 L447.40,361.28 L447.90,361.39 L448.40,361.53 L448.90,361.71 L449.40,361.92 L449.90,362.16 L450.40,362.42 L450.90,362.71 L451.40,363.00 L451.90,363.37 L452.40,363.89 L452.90,364.53 L453.40,365.28 L453.90,366.12 L454.40,367.05 L454.90,368.05 L455.40,369.11 L455.90,370.20 L456.40,371.33 L456.90,372.63 L457.40,374.13 L457.90,375.80 L458.40,377.61 L458.90,379.52 L459.40,381.49 L459.90,383.49 L460.40,385.49 L460.90,387.44 L461.40,389.35 L461.90,391.35 L462.40,393.41 L462.90,395.52 L463.40,397.65 L463.90,399.76 L464.40,401.82 L464.90,403.82 L465.40,405.71 L465.90,407.47 L466.40,409.12 L466.90,410.75 L467.40,412.34 L467.90,413.89 L468.40,415.39 L468.90,416.81 L469.40,418.16 L469.90,419.41 L470.40,420.56 L470.90,421.60 L471.40,422.54 L471.90,423.43 L472.40,424.26 L472.90,425.04 L473.40,425.78 L473.90,426.48 L474.40,427.15 L474.90,427.79 L475.40,428.41 L475.90,429.02 L476.40,429.61 L476.90,430.17 L477.40,430.71 L477.90,431.23 L478.40,431.74 L478.90,432.23 L479.40,432.71 L479.90,433.18 L480.40,433.64 L480.90,434.11 L481.40,434.57 L481.90,435.03 L482.40,435.49 L482.90,435.96 L483.40,436.43 L483.90,436.90 L484.40,437.36 L484.90,437.82 L485.40,438.28 L485.90,438.73 L486.40,439.16 L486.90,439.59 L487.40,440.01 L487.90,440.41 L488.40,440.80 L488.90,441.17 L489.40,441.54 L489.90,441.91 L490.40,442.29 L490.90,442.65 L491.40,443.01 L491.90,443.36 L492.40,443.69 L492.90,444.01 L493.40,444.31 L493.90,444.58 L494.40,444.83 L494.90,445.05 L495.40,445.24 L495.90,445.41 L496.40,445.57 L496.90,445.72 L497.40,445.86 L497.90,445.99 L498.40,446.12 L498.90,446.24 L499.40,446.35 L499.90,446.46 L500.40,446.55 L500.90,446.65 L501.40,446.73 L501.90,446.82 L502.40,446.90 L502.90,446.97 L503.40,447.05 L503.90,447.12 L504.40,447.19 L504.90,447.26 L505.40,447.32 L505.90,447.38 L506.40,447.43 L506.90,447.48 L507.40,447.52 L507.90,447.56 L508.40,447.59" stroke="#e2394f" stroke-width="1.1" fill="none"/>
<path d="M384.90,445.50 L385.40,445.49 L385.90,445.46 L386.40,445.41 L386.90,445.35 L387.40,445.28 L387.90,445.19 L388.40,445.10 L388.90,445.00 L389.40,444.88 L389.90,444.76 L390.40,444.63 L390.90,444.50 L391.40,444.36 L391.90,444.22 L392.40,444.08 L392.90,443.93 L393.40,443.77 L393.90,443.60 L394.40,443.39 L394.90,443.17 L395.40,442.93 L395.90,442.67 L396.40,442.39 L396.90,442.10 L397.40,441.79 L397.90,441.48 L398.40,441.15 L398.90,440.82 L399.40,440.48 L399.90,440.14 L400.40,439.79 L400.90,439.44 L401.40,439.09 L401.90,438.72 L402.40,438.34 L402.90,437.95 L403.40,437.54 L403.90,437.12 L404.40,436.69 L404.90,436.24 L405.40,435.79 L405.90,435.32 L406.40,434.84 L406.90,434.35 L407.40,433.86 L407.90,433.35 L408.40,432.84 L408.90,432.32 L409.40,431.79 L409.90,431.25 L410.40,430.71 L410.90,430.15 L411.40,429.59 L411.90,429.01 L412.40,428.42 L412.90,427.81 L413.40,427.19 L413.90,426.55 L414.40,425.89 L414.90,425.21 L415.40,424.52 L415.90,423.80 L416.40,423.06 L416.90,422.29 L417.40,421.50 L417.90,420.68 L418.40,419.81 L418.90,418.90 L419.40,417.95 L419.90,416.95 L420.40,415.90 L420.90,414.80 L421.40,413.65 L421.90,412.45 L422.40,411.18 L422.90,409.80 L423.40,408.31 L423.90,406.71 L424.40,405.04 L424.90,403.31 L425.40,401.54 L425.90,399.75 L426.40,397.97 L426.90,396.20 L427.40,394.44 L427.90,392.63 L428.40,390.77 L428.90,388.87 L429.40,386.97 L429.90,385.07 L430.40,383.19 L430.90,381.36 L431.40,379.60 L431.90,377.92 L432.40,376.29 L432.90,374.62 L433.40,372.93 L433.90,371.27 L434.40,369.66 L434.90,368.14 L435.40,366.75 L435.90,365.52 L436.40,364.47 L436.90,363.65 L437.40,362.94 L437.90,362.28 L438.40,361.67 L438.90,361.11 L439.40,360.60 L439.90,360.14 L440.40,359.73 L440.90,359.37 L441.40,359.06 L441.90,358.80 L442.40,358.55 L442.90,358.31 L443.40,358.09 L443.90,357.88 L444.40,357.69 L444.90,357.54 L445.40,357.42 L445.90,357.34 L446.40,357.30 L446.90,357.32 L447.40,357.42 L447.90,357.57 L448.40,357.78 L448.90,358.04 L449.40,358.34 L449.90,358.68 L450.40,359.04 L450.90,359.41 L451.40,359.80 L451.90,360.25 L452.40,360.81 L452.90,361.47 L453.40,362.22 L453.90,363.05 L454.40,363.96 L454.90,364.93 L455.40,365.95 L455.90,367.02 L456.40,368.13 L456.90,369.39 L457.40,370.85 L457.90,372.46 L458.40,374.19 L458.90,376.01 L459.40,377.88 L459.90,379.78 L460.40,381.66 L460.90,383.49 L461.40,385.27 L461.90,387.09 L462.40,388.95 L462.90,390.83 L463.40,392.73 L463.90,394.61 L464.40,396.48 L464.90,398.30 L465.40,400.07 L465.90,401.77 L466.40,403.42 L466.90,405.08 L467.40,406.73 L467.90,408.36 L468.40,409.95 L468.90,411.48 L469.40,412.94 L469.90,414.31 L470.40,415.57 L470.90,416.70 L471.40,417.73 L471.90,418.70 L472.40,419.61 L472.90,420.48 L473.40,421.30 L473.90,422.08 L474.40,422.83 L474.90,423.55 L475.40,424.25 L475.90,424.94 L476.40,425.60 L476.90,426.23 L477.40,426.84 L477.90,427.44 L478.40,428.01 L478.90,428.57 L479.40,429.12 L479.90,429.66 L480.40,430.19 L480.90,430.72 L481.40,431.25 L481.90,431.78 L482.40,432.31 L482.90,432.84 L483.40,433.38 L483.90,433.92 L484.40,434.45 L484.90,434.98 L485.40,435.50 L485.90,436.02 L486.40,436.52 L486.90,437.01 L487.40,437.48 L487.90,437.94 L488.40,438.37 L488.90,438.78 L489.40,439.18 L489.90,439.58 L490.40,439.97 L490.90,440.36 L491.40,440.73 L491.90,441.09 L492.40,441.44 L492.90,441.78 L493.40,442.09 L493.90,442.39 L494.40,442.66 L494.90,442.92 L495.40,443.14 L495.90,443.36 L496.40,443.57 L496.90,443.76 L497.40,443.96 L497.90,444.14 L498.40,444.31 L498.90,444.48 L499.40,444.63 L499.90,444.77 L500.40,444.90 L500.90,445.02 L501.40,445.13 L501.90,445.22 L502.40,445.30 L502.90,445.39 L503.40,445.47 L503.90,445.55 L504.40,445.63 L504.90,445.70 L505.40,445.77 L505.90,445.82 L506.40,445.88 L506.90,445.92 L507.40,445.96 L507.90,445.98 L508.40,446.00" stroke="#2f6fae" stroke-width="1.1" fill="none"/>
<rect x="380.50" y="354.50" width="47.00" height="33.00" fill="#fff" stroke="#666" stroke-width="0.7"/>
<text x="382.70" y="360.00" font-size="5.7" fill="#e2394f" stroke="#e2394f" stroke-width="0.2" textLength="39.50" lengthAdjust="spacingAndGlyphs">Not overlapping</text>
<text x="382.70" y="365.40" font-size="5.7" fill="#e2394f" stroke="#e2394f" stroke-width="0.2" textLength="26.50" lengthAdjust="spacingAndGlyphs">MycIP-MKO</text>
<text x="382.70" y="370.50" font-size="5.7" fill="#2f6fae" stroke="#2f6fae" stroke-width="0.2" textLength="39.50" lengthAdjust="spacingAndGlyphs">Not overlapping</text>
<text x="382.70" y="375.50" font-size="5.7" fill="#2f6fae" stroke="#2f6fae" stroke-width="0.2" textLength="27.00" lengthAdjust="spacingAndGlyphs">MycIP-MWT</text>
<text x="382.70" y="380.50" font-size="5.7" fill="#46c34a" stroke="#46c34a" stroke-width="0.2" textLength="24.00" lengthAdjust="spacingAndGlyphs">Input-MKO</text>
<text x="382.70" y="385.50" font-size="5.7" fill="#7d4a9e" stroke="#7d4a9e" stroke-width="0.2" textLength="24.50" lengthAdjust="spacingAndGlyphs">Input-MWT</text>
<text x="349.60" y="406.60" font-size="8.0" fill="#231f20" stroke="#231f20" stroke-width="0.2" text-anchor="middle" textLength="76.00" lengthAdjust="spacingAndGlyphs" transform="rotate(-90 349.60 406.60)">Read count Per Million</text>
<text x="360.90" y="407.30" font-size="8.0" fill="#231f20" stroke="#231f20" stroke-width="0.2" text-anchor="middle" textLength="47.00" lengthAdjust="spacingAndGlyphs" transform="rotate(-90 360.90 407.30)">mapped reads</text>
<text x="7.80" y="483.50" font-size="11.5" fill="#111" font-weight="bold">I</text>
<line x1="56.50" y1="495.00" x2="56.50" y2="624.00" stroke="#2b2b2b" stroke-width="0.8"/>
<line x1="55.90" y1="623.50" x2="197.00" y2="623.50" stroke="#2b2b2b" stroke-width="0.9"/>
<line x1="54.30" y1="498.50" x2="56.30" y2="498.50" stroke="#2b2b2b" stroke-width="0.7"/>
<text x="53.30" y="500.30" font-size="5.6" fill="#231f20" stroke="#231f20" stroke-width="0.2" text-anchor="end">4</text>
<line x1="54.30" y1="522.50" x2="56.30" y2="522.50" stroke="#2b2b2b" stroke-width="0.7"/>
<text x="53.30" y="524.30" font-size="5.6" fill="#231f20" stroke="#231f20" stroke-width="0.2" text-anchor="end">2</text>
<line x1="54.30" y1="546.50" x2="56.30" y2="546.50" stroke="#2b2b2b" stroke-width="0.7"/>
<text x="53.30" y="548.30" font-size="5.6" fill="#231f20" stroke="#231f20" stroke-width="0.2" text-anchor="end">0</text>
<line x1="54.30" y1="570.50" x2="56.30" y2="570.50" stroke="#2b2b2b" stroke-width="0.7"/>
<text x="53.30" y="572.30" font-size="5.6" fill="#231f20" stroke="#231f20" stroke-width="0.2" text-anchor="end">-2</text>
<line x1="54.30" y1="594.50" x2="56.30" y2="594.50" stroke="#2b2b2b" stroke-width="0.7"/>
<text x="53.30" y="596.30" font-size="5.6" fill="#231f20" stroke="#231f20" stroke-width="0.2" text-anchor="end">-4</text>
<line x1="54.30" y1="618.50" x2="56.30" y2="618.50" stroke="#2b2b2b" stroke-width="0.7"/>
<text x="53.30" y="620.30" font-size="5.6" fill="#231f20" stroke="#231f20" stroke-width="0.2" text-anchor="end">-6</text>
<line x1="94.50" y1="623.60" x2="94.50" y2="625.60" stroke="#2b2b2b" stroke-width="0.8"/>
<line x1="158.50" y1="623.60" x2="158.50" y2="625.60" stroke="#2b2b2b" stroke-width="0.8"/>
<text x="94.90" y="631.70" font-size="6.2" fill="#231f20" stroke="#231f20" stroke-width="0.2" text-anchor="middle" textLength="9.20" lengthAdjust="spacingAndGlyphs">Yes</text>
<text x="158.80" y="631.30" font-size="6.2" fill="#231f20" stroke="#231f20" stroke-width="0.2" text-anchor="middle" textLength="7.90" lengthAdjust="spacingAndGlyphs">No</text>
<text x="127.30" y="638.60" font-size="8.6" fill="#231f20" stroke="#231f20" stroke-width="0.2" text-anchor="middle" textLength="53.00" lengthAdjust="spacingAndGlyphs">overlapMondoA</text>
<text x="41.80" y="557.50" font-size="8.6" fill="#231f20" stroke="#231f20" stroke-width="0.2" text-anchor="middle" textLength="26.00" lengthAdjust="spacingAndGlyphs" transform="rotate(-90 41.80 557.50)">log2FC</text>
<text x="131.60" y="489.20" font-size="6.0" fill="#231f20" stroke="#231f20" stroke-width="0.2" text-anchor="middle" textLength="55.80" lengthAdjust="spacingAndGlyphs">overlapMondoA</text>
<text x="128.70" y="498.60" font-size="6.0" fill="#231f20" stroke="#231f20" stroke-width="0.2" text-anchor="middle" textLength="36.60" lengthAdjust="spacingAndGlyphs">p &lt; 2.22e-16</text>
<path d="M94.5,505.0 V502.5 H158.5 V505.0" stroke="#999" stroke-width="0.8" fill="none"/>
<line x1="94.50" y1="535.60" x2="94.50" y2="559.40" stroke="#a9c9e8" stroke-width="0.8"/>
<line x1="94.90" y1="527.00" x2="94.90" y2="535.60" stroke="#3d85c6" stroke-width="2.1"/>
<line x1="94.90" y1="559.40" x2="94.90" y2="575.60" stroke="#3d85c6" stroke-width="2.1"/>
<line x1="94.90" y1="576.50" x2="94.90" y2="577.80" stroke="#3d85c6" stroke-width="2.1"/>
<line x1="94.90" y1="578.40" x2="94.90" y2="579.70" stroke="#3d85c6" stroke-width="2.1"/>
<line x1="94.90" y1="580.30" x2="94.90" y2="581.60" stroke="#3d85c6" stroke-width="2.1"/>
<line x1="94.90" y1="582.20" x2="94.90" y2="583.50" stroke="#3d85c6" stroke-width="2.1"/>
<line x1="94.90" y1="584.10" x2="94.90" y2="585.40" stroke="#3d85c6" stroke-width="2.1"/>
<line x1="94.90" y1="586.00" x2="94.90" y2="587.30" stroke="#3d85c6" stroke-width="2.1"/>
<line x1="94.90" y1="587.90" x2="94.90" y2="589.20" stroke="#3d85c6" stroke-width="2.1"/>
<line x1="94.90" y1="589.80" x2="94.90" y2="591.10" stroke="#3d85c6" stroke-width="2.1"/>
<rect x="93.85" y="518.10" width="2.10" height="1.60" fill="#3d85c6" stroke="none" stroke-width="0.8"/>
<rect x="93.85" y="522.00" width="2.10" height="1.60" fill="#3d85c6" stroke="none" stroke-width="0.8"/>
<rect x="93.85" y="591.80" width="2.10" height="1.60" fill="#3d85c6" stroke="none" stroke-width="0.8"/>
<rect x="93.85" y="593.50" width="2.10" height="1.60" fill="#3d85c6" stroke="none" stroke-width="0.8"/>
<rect x="93.85" y="595.20" width="2.10" height="1.60" fill="#3d85c6" stroke="none" stroke-width="0.8"/>
<rect x="93.85" y="596.90" width="2.10" height="1.60" fill="#3d85c6" stroke="none" stroke-width="0.8"/>
<rect x="93.85" y="599.50" width="2.10" height="1.60" fill="#3d85c6" stroke="none" stroke-width="0.8"/>
<rect x="93.85" y="602.90" width="2.10" height="1.60" fill="#3d85c6" stroke="none" stroke-width="0.8"/>
<rect x="93.85" y="614.00" width="2.10" height="1.60" fill="#3d85c6" stroke="none" stroke-width="0.8"/>
<rect x="72.5" y="544.2" width="45.3" height="6.8" rx="1.2" fill="#fff" stroke="#8ab6de" stroke-width="0.9"/>
<line x1="72.60" y1="547.50" x2="117.70" y2="547.50" stroke="#3b7dbd" stroke-width="1.0"/>
<line x1="158.50" y1="533.90" x2="158.50" y2="564.80" stroke="#f3cf66" stroke-width="0.8"/>
<line x1="158.10" y1="521.30" x2="158.10" y2="533.90" stroke="#f0b400" stroke-width="2.1"/>
<line x1="158.10" y1="564.80" x2="158.10" y2="602.60" stroke="#f0b400" stroke-width="2.1"/>
<rect x="157.05" y="506.90" width="2.10" height="1.60" fill="#f0b400" stroke="none" stroke-width="0.8"/>
<rect x="157.05" y="514.70" width="2.10" height="1.60" fill="#f0b400" stroke="none" stroke-width="0.8"/>
<rect x="157.05" y="516.60" width="2.10" height="1.60" fill="#f0b400" stroke="none" stroke-width="0.8"/>
<rect x="157.05" y="518.60" width="2.10" height="1.60" fill="#f0b400" stroke="none" stroke-width="0.8"/>
<rect x="157.05" y="604.70" width="2.10" height="1.60" fill="#f0b400" stroke="none" stroke-width="0.8"/>
<rect x="157.05" y="607.60" width="2.10" height="1.60" fill="#f0b400" stroke="none" stroke-width="0.8"/>
<rect x="157.05" y="610.50" width="2.10" height="1.60" fill="#f0b400" stroke="none" stroke-width="0.8"/>
<rect x="157.05" y="616.30" width="2.10" height="1.60" fill="#f0b400" stroke="none" stroke-width="0.8"/>
<rect x="136.3" y="545.3" width="44.3" height="7.3" fill="#fff" stroke="#f2c232" stroke-width="0.9"/>
<line x1="136.30" y1="549.50" x2="180.60" y2="549.50" stroke="#e9ae10" stroke-width="0.9"/>
<text x="246.00" y="511.40" font-size="11.5" fill="#111" font-weight="bold">J</text>
<text x="311.90" y="518.00" font-size="6.3" fill="#231f20" stroke="#231f20" stroke-width="0.2" text-anchor="middle" textLength="19.60" lengthAdjust="spacingAndGlyphs">TXNIP</text>
<text x="360.30" y="518.00" font-size="6.3" fill="#231f20" stroke="#231f20" stroke-width="0.2" text-anchor="middle" textLength="17.30" lengthAdjust="spacingAndGlyphs">KLF10</text>
<text x="403.80" y="518.00" font-size="6.3" fill="#231f20" stroke="#231f20" stroke-width="0.2" text-anchor="middle" textLength="17.60" lengthAdjust="spacingAndGlyphs">LAS1L</text>
<text x="437.00" y="518.00" font-size="6.3" fill="#231f20" stroke="#231f20" stroke-width="0.2" text-anchor="middle" textLength="26.50" lengthAdjust="spacingAndGlyphs">TMEM97</text>
<text x="468.10" y="518.00" font-size="6.3" fill="#231f20" stroke="#231f20" stroke-width="0.2" text-anchor="middle" textLength="24.50" lengthAdjust="spacingAndGlyphs">TUBB4A</text>
<text x="500.40" y="518.00" font-size="6.3" fill="#231f20" stroke="#231f20" stroke-width="0.2" text-anchor="middle" textLength="27.90" lengthAdjust="spacingAndGlyphs">COMTD1</text>
<text x="287.70" y="534.00" font-size="6.3" fill="#231f20" stroke="#231f20" stroke-width="0.2" text-anchor="end" textLength="38.80" lengthAdjust="spacingAndGlyphs">MYC-IP-MKO</text>
<text x="287.70" y="553.90" font-size="6.3" fill="#231f20" stroke="#231f20" stroke-width="0.2" text-anchor="end" textLength="39.20" lengthAdjust="spacingAndGlyphs">MYC-IP-CTRL</text>
<text x="287.70" y="574.20" font-size="6.3" fill="#231f20" stroke="#231f20" stroke-width="0.2" text-anchor="end" textLength="49.60" lengthAdjust="spacingAndGlyphs">MondoA-IP-MKO</text>
<text x="287.70" y="593.80" font-size="6.3" fill="#231f20" stroke="#231f20" stroke-width="0.2" text-anchor="end" textLength="49.80" lengthAdjust="spacingAndGlyphs">MondoA-IP-CTRL</text>
<path d="M291.90,538.30 L291.90,537.78 L292.30,537.78 L292.30,537.77 L292.70,537.77 L292.70,537.58 L293.10,537.58 L293.10,537.74 L293.50,537.74 L293.50,537.59 L293.90,537.59 L293.90,537.56 L294.30,537.56 L294.30,537.21 L294.70,537.21 L294.70,537.26 L295.10,537.26 L295.10,537.27 L295.50,537.27 L295.50,537.07 L295.90,537.07 L295.90,537.38 L296.30,537.38 L296.30,537.31 L296.70,537.31 L296.70,536.48 L297.10,536.48 L297.10,537.03 L297.50,537.03 L297.50,536.70 L297.90,536.70 L297.90,536.68 L298.30,536.68 L298.30,536.56 L298.70,536.56 L298.70,536.94 L299.10,536.94 L299.10,536.91 L299.50,536.91 L299.50,536.57 L299.90,536.57 L299.90,536.53 L300.30,536.53 L300.30,535.57 L300.70,535.57 L300.70,536.43 L301.10,536.43 L301.10,536.70 L301.50,536.70 L301.50,536.20 L301.90,536.20 L301.90,536.63 L302.30,536.63 L302.30,536.58 L302.70,536.58 L302.70,536.06 L303.10,536.06 L303.10,536.42 L303.50,536.42 L303.50,536.57 L303.90,536.57 L303.90,536.15 L304.30,536.15 L304.30,536.80 L304.70,536.80 L304.70,536.89 L305.10,536.89 L305.10,536.76 L305.50,536.76 L305.50,537.11 L305.90,537.11 L305.90,536.78 L306.30,536.78 L306.30,537.07 L306.70,537.07 L306.70,537.12 L307.10,537.12 L307.10,536.91 L307.50,536.91 L307.50,536.62 L307.90,536.62 L307.90,536.26 L308.30,536.26 L308.30,535.93 L308.70,535.93 L308.70,534.28 L309.10,534.28 L309.10,534.53 L309.50,534.53 L309.50,531.44 L309.90,531.44 L309.90,523.41 L310.30,523.41 L310.30,525.42 L310.70,525.42 L310.70,528.50 L311.10,528.50 L311.10,535.86 L311.50,535.86 L311.50,535.42 L311.90,535.42 L311.90,537.65 L312.30,537.65 L312.30,537.40 L312.70,537.40 L312.70,537.82 L313.10,537.82 L313.10,537.60 L313.50,537.60 L313.50,537.39 L313.90,537.39 L313.90,537.70 L314.30,537.70 L314.30,537.69 L314.70,537.69 L314.70,537.60 L315.10,537.60 L315.10,537.43 L315.50,537.43 L315.50,537.62 L315.90,537.62 L315.90,537.70 L316.30,537.70 L316.30,537.44 L316.70,537.44 L316.70,537.24 L317.10,537.24 L317.10,537.68 L317.50,537.68 L317.50,537.73 L317.90,537.73 L317.90,537.76 L318.30,537.76 L318.30,537.30 L318.70,537.30 L318.70,537.39 L319.10,537.39 L319.10,537.63 L319.50,537.63 L319.50,537.08 L319.90,537.08 L319.90,537.83 L320.30,537.83 L320.30,537.61 L320.70,537.61 L320.70,537.50 L321.10,537.50 L321.10,537.63 L321.50,537.63 L321.50,537.21 L321.90,537.21 L321.90,537.39 L322.30,537.39 L322.30,537.62 L322.70,537.62 L322.70,537.52 L323.10,537.52 L323.10,537.83 L323.50,537.83 L323.50,537.15 L323.90,537.15 L323.90,537.78 L324.30,537.78 L324.30,537.63 L324.70,537.63 L324.70,537.72 L325.10,537.72 L325.10,537.47 L325.50,537.47 L325.50,537.40 L325.90,537.40 L325.90,537.63 L326.30,537.63 L326.30,537.65 L326.70,537.65 L326.70,537.40 L327.10,537.40 L327.10,537.59 L327.50,537.59 L327.50,537.26 L327.90,537.26 L327.90,537.75 L328.30,537.75 L328.30,537.30 L328.70,537.30 L328.70,536.13 L329.10,536.13 L329.10,537.59 L329.50,537.59 L329.50,537.76 L329.90,537.76 L330.00,538.30 Z" fill="#d42a3a" stroke="none"/>
<path d="M335.30,538.30 L335.30,537.73 L335.70,537.73 L335.70,537.56 L336.10,537.56 L336.10,537.73 L336.50,537.73 L336.50,537.39 L336.90,537.39 L336.90,537.53 L337.30,537.53 L337.30,537.69 L337.70,537.69 L337.70,537.66 L338.10,537.66 L338.10,537.65 L338.50,537.65 L338.50,537.72 L338.90,537.72 L338.90,537.74 L339.30,537.74 L339.30,537.84 L339.70,537.84 L339.70,537.65 L340.10,537.65 L340.10,537.58 L340.50,537.58 L340.50,537.78 L340.90,537.78 L340.90,536.62 L341.30,536.62 L341.30,537.61 L341.70,537.61 L341.70,537.81 L342.10,537.81 L342.10,537.71 L342.50,537.71 L342.50,537.50 L342.90,537.50 L342.90,537.67 L343.30,537.67 L343.30,537.74 L343.70,537.74 L343.70,537.63 L344.10,537.63 L344.10,537.27 L344.50,537.27 L344.50,537.30 L344.90,537.30 L344.90,536.56 L345.30,536.56 L345.30,536.87 L345.70,536.87 L345.70,537.43 L346.10,537.43 L346.10,537.17 L346.50,537.17 L346.50,537.22 L346.90,537.22 L346.90,537.12 L347.30,537.12 L347.30,536.42 L347.70,536.42 L347.70,536.85 L348.10,536.85 L348.10,537.24 L348.50,537.24 L348.50,536.50 L348.90,536.50 L348.90,537.11 L349.30,537.11 L349.30,536.91 L349.70,536.91 L349.70,537.27 L350.10,537.27 L350.10,536.76 L350.50,536.76 L350.50,537.17 L350.90,537.17 L350.90,537.37 L351.30,537.37 L351.30,536.98 L351.70,536.98 L351.70,537.36 L352.10,537.36 L352.10,536.20 L352.50,536.20 L352.50,537.15 L352.90,537.15 L352.90,537.56 L353.30,537.56 L353.30,537.65 L353.70,537.65 L353.70,537.68 L354.10,537.68 L354.10,537.53 L354.50,537.53 L354.50,537.53 L354.90,537.53 L354.90,537.45 L355.30,537.45 L355.30,537.69 L355.70,537.69 L355.70,537.53 L356.10,537.53 L356.10,537.56 L356.50,537.56 L356.50,537.65 L356.90,537.65 L356.90,537.52 L357.30,537.52 L357.30,537.46 L357.70,537.46 L357.70,537.51 L358.10,537.51 L358.10,537.81 L358.50,537.81 L358.50,537.18 L358.90,537.18 L358.90,536.12 L359.30,536.12 L359.30,534.83 L359.70,534.83 L359.70,530.91 L360.10,530.91 L360.10,532.69 L360.50,532.69 L360.50,535.53 L360.90,535.53 L360.90,536.32 L361.30,536.32 L361.30,535.47 L361.70,535.47 L361.70,531.12 L362.10,531.12 L362.10,532.03 L362.50,532.03 L362.50,532.71 L362.90,532.71 L362.90,534.88 L363.30,534.88 L363.30,535.17 L363.70,535.17 L363.70,534.09 L364.10,534.09 L364.10,531.84 L364.50,531.84 L364.50,526.89 L364.90,526.89 L364.90,530.03 L365.30,530.03 L365.30,532.96 L365.70,532.96 L365.70,534.44 L366.10,534.44 L366.10,534.45 L366.50,534.45 L366.50,536.01 L366.90,536.01 L366.90,536.41 L367.30,536.41 L367.30,535.36 L367.70,535.36 L367.70,536.14 L368.10,536.14 L368.10,534.07 L368.50,534.07 L368.50,533.27 L368.90,533.27 L368.90,527.27 L369.30,527.27 L369.30,528.02 L369.70,528.02 L369.70,532.54 L370.10,532.54 L370.10,532.79 L370.50,532.79 L370.50,529.29 L370.90,529.29 L370.90,533.10 L371.30,533.10 L371.30,533.91 L371.70,533.91 L371.70,535.95 L372.10,535.95 L372.10,533.56 L372.50,533.56 L372.50,532.03 L372.90,532.03 L372.90,535.44 L373.30,535.44 L373.30,536.27 L373.70,536.27 L373.70,537.57 L374.10,537.57 L374.10,537.79 L374.50,537.79 L374.50,537.34 L374.90,537.34 L374.90,537.73 L375.30,537.73 L375.30,537.62 L375.70,537.62 L375.70,537.55 L376.10,537.55 L376.10,537.81 L376.50,537.81 L376.50,536.21 L376.90,536.21 L376.90,537.42 L377.30,537.42 L377.30,537.72 L377.70,537.72 L377.70,537.54 L378.10,537.54 L378.10,537.32 L378.50,537.32 L378.50,537.24 L378.90,537.24 L378.90,537.81 L379.30,537.81 L379.30,537.61 L379.70,537.61 L379.70,537.80 L380.10,537.80 L380.10,538.30 Z" fill="#d42a3a" stroke="none"/>
<path d="M382.00,538.30 L382.00,537.78 L382.40,537.78 L382.40,537.67 L382.80,537.67 L382.80,537.71 L383.20,537.71 L383.20,537.00 L383.60,537.00 L383.60,537.22 L384.00,537.22 L384.00,537.45 L384.40,537.45 L384.40,537.74 L384.80,537.74 L384.80,537.58 L385.20,537.58 L385.20,537.75 L385.60,537.75 L385.60,537.65 L386.00,537.65 L386.00,537.50 L386.40,537.50 L386.40,537.74 L386.80,537.74 L386.80,537.73 L387.20,537.73 L387.20,537.56 L387.60,537.56 L387.60,537.67 L388.00,537.67 L388.00,537.79 L388.40,537.79 L388.40,537.63 L388.80,537.63 L388.80,537.60 L389.20,537.60 L389.20,537.73 L389.60,537.73 L389.60,537.45 L390.00,537.45 L390.00,537.46 L390.40,537.46 L390.40,537.60 L390.80,537.60 L390.80,537.59 L391.20,537.59 L391.20,537.43 L391.60,537.43 L391.60,537.20 L392.00,537.20 L392.00,537.21 L392.40,537.21 L392.40,536.70 L392.80,536.70 L392.80,536.75 L393.20,536.75 L393.20,536.60 L393.60,536.60 L393.60,536.59 L394.00,536.59 L394.00,537.06 L394.40,537.06 L394.40,537.32 L394.80,537.32 L394.80,535.43 L395.20,535.43 L395.20,537.05 L395.60,537.05 L395.60,537.21 L396.00,537.21 L396.00,536.86 L396.40,536.86 L396.40,535.52 L396.80,535.52 L396.80,536.67 L397.20,536.67 L397.20,536.78 L397.60,536.78 L397.60,537.10 L398.00,537.10 L398.00,536.91 L398.40,536.91 L398.40,536.45 L398.80,536.45 L398.80,536.81 L399.20,536.81 L399.20,536.52 L399.60,536.52 L399.60,535.93 L400.00,535.93 L400.00,533.87 L400.40,533.87 L400.40,531.90 L400.80,531.90 L400.80,524.00 L401.20,524.00 L401.20,527.52 L401.60,527.52 L401.60,532.37 L402.00,532.37 L402.00,528.42 L402.40,528.42 L402.40,527.75 L402.80,527.75 L402.80,529.15 L403.20,529.15 L403.20,532.12 L403.60,532.12 L403.60,532.02 L404.00,532.02 L404.00,533.90 L404.40,533.90 L404.40,535.70 L404.80,535.70 L404.80,537.17 L405.20,537.17 L405.20,537.55 L405.60,537.55 L405.60,537.51 L406.00,537.51 L406.00,537.57 L406.40,537.57 L406.40,537.76 L406.80,537.76 L406.80,537.78 L407.20,537.78 L407.20,537.81 L407.60,537.81 L407.60,537.62 L408.00,537.62 L408.00,537.48 L408.40,537.48 L408.40,537.31 L408.80,537.31 L409.00,538.30 Z" fill="#d42a3a" stroke="none"/>
<path d="M415.40,538.30 L415.40,537.14 L415.80,537.14 L415.80,536.96 L416.20,536.96 L416.20,537.70 L416.60,537.70 L416.60,536.90 L417.00,536.90 L417.00,537.69 L417.40,537.69 L417.40,537.77 L417.80,537.77 L417.80,536.36 L418.20,536.36 L418.20,537.77 L418.60,537.77 L418.60,537.55 L419.00,537.55 L419.00,536.69 L419.40,536.69 L419.40,537.77 L419.80,537.77 L419.80,537.73 L420.20,537.73 L420.20,537.75 L420.60,537.75 L420.60,537.62 L421.00,537.62 L421.00,537.48 L421.40,537.48 L421.40,537.71 L421.80,537.71 L421.80,537.68 L422.20,537.68 L422.20,537.77 L422.60,537.77 L422.60,537.51 L423.00,537.51 L423.00,537.78 L423.40,537.78 L423.40,537.84 L423.80,537.84 L423.80,537.31 L424.20,537.31 L424.20,537.66 L424.60,537.66 L424.60,537.67 L425.00,537.67 L425.00,537.77 L425.40,537.77 L425.40,537.63 L425.80,537.63 L425.80,537.12 L426.20,537.12 L426.20,537.69 L426.60,537.69 L426.60,537.63 L427.00,537.63 L427.00,537.24 L427.40,537.24 L427.40,537.31 L427.80,537.31 L427.80,537.07 L428.20,537.07 L428.20,536.82 L428.60,536.82 L428.60,536.81 L429.00,536.81 L429.00,536.62 L429.40,536.62 L429.40,534.32 L429.80,534.32 L429.80,531.39 L430.20,531.39 L430.20,524.02 L430.60,524.02 L430.60,521.68 L431.00,521.68 L431.00,525.98 L431.40,525.98 L431.40,524.76 L431.80,524.76 L431.80,526.92 L432.20,526.92 L432.20,530.37 L432.60,530.37 L432.60,530.36 L433.00,530.36 L433.00,534.86 L433.40,534.86 L433.40,536.44 L433.80,536.44 L433.80,536.86 L434.20,536.86 L434.20,537.29 L434.60,537.29 L434.60,537.53 L435.00,537.53 L435.00,537.29 L435.40,537.29 L435.40,537.71 L435.80,537.71 L435.80,537.49 L436.20,537.49 L436.20,537.62 L436.60,537.62 L436.60,537.63 L437.00,537.63 L437.00,537.77 L437.40,537.77 L437.40,537.57 L437.80,537.57 L437.80,537.77 L438.20,537.77 L438.20,536.98 L438.60,536.98 L438.60,537.61 L439.00,537.61 L439.00,537.68 L439.40,537.68 L439.40,537.28 L439.80,537.28 L439.80,537.83 L440.20,537.83 L440.20,537.51 L440.60,537.51 L440.60,537.58 L441.00,537.58 L441.00,537.14 L441.40,537.14 L441.40,537.53 L441.80,537.53 L441.80,537.60 L442.20,537.60 L442.20,537.45 L442.60,537.45 L442.60,537.09 L443.00,537.09 L443.00,537.68 L443.40,537.68 L443.40,537.74 L443.80,537.74 L443.80,537.64 L444.20,537.64 L444.20,537.29 L444.60,537.29 L444.70,538.30 Z" fill="#d42a3a" stroke="none"/>
<path d="M453.00,538.30 L453.00,537.62 L453.40,537.62 L453.40,537.79 L453.80,537.79 L453.80,537.27 L454.20,537.27 L454.20,537.62 L454.60,537.62 L454.60,537.28 L455.00,537.28 L455.00,537.85 L455.40,537.85 L455.40,537.63 L455.80,537.63 L455.80,537.80 L456.20,537.80 L456.20,537.29 L456.60,537.29 L456.60,537.77 L457.00,537.77 L457.00,537.77 L457.40,537.77 L457.40,537.30 L457.80,537.30 L457.80,537.74 L458.20,537.74 L458.20,537.67 L458.60,537.67 L458.60,537.33 L459.00,537.33 L459.00,537.06 L459.40,537.06 L459.40,537.18 L459.80,537.18 L459.80,537.46 L460.20,537.46 L460.20,537.73 L460.60,537.73 L460.60,537.54 L461.00,537.54 L461.00,537.62 L461.40,537.62 L461.40,537.61 L461.80,537.61 L461.80,537.71 L462.20,537.71 L462.20,537.80 L462.60,537.80 L462.60,537.31 L463.00,537.31 L463.00,537.19 L463.40,537.19 L463.40,537.80 L463.80,537.80 L463.80,537.49 L464.20,537.49 L464.20,537.50 L464.60,537.50 L464.60,536.96 L465.00,536.96 L465.00,537.56 L465.40,537.56 L465.40,537.62 L465.80,537.62 L465.80,536.99 L466.20,536.99 L466.20,537.00 L466.60,537.00 L466.60,537.43 L467.00,537.43 L467.00,536.73 L467.40,536.73 L467.40,537.08 L467.80,537.08 L467.80,536.41 L468.20,536.41 L468.20,536.53 L468.60,536.53 L468.60,536.57 L469.00,536.57 L469.00,536.03 L469.40,536.03 L469.40,534.02 L469.80,534.02 L469.80,534.21 L470.20,534.21 L470.20,531.46 L470.60,531.46 L470.60,525.36 L471.00,525.36 L471.00,523.16 L471.40,523.16 L471.40,526.05 L471.80,526.05 L471.80,531.03 L472.20,531.03 L472.20,533.25 L472.60,533.25 L472.60,534.73 L473.00,534.73 L473.00,536.24 L473.40,536.24 L473.40,535.52 L473.80,535.52 L473.80,537.06 L474.20,537.06 L474.20,537.49 L474.60,537.49 L474.60,537.67 L475.00,537.67 L475.00,537.43 L475.40,537.43 L475.40,537.31 L475.80,537.31 L475.80,537.30 L476.20,537.30 L476.20,537.67 L476.60,537.67 L476.60,537.76 L477.00,537.76 L477.00,537.54 L477.40,537.54 L477.40,537.61 L477.80,537.61 L477.80,537.47 L478.20,537.47 L478.20,537.79 L478.60,537.79 L478.60,537.84 L479.00,537.84 L479.00,537.74 L479.40,537.74 L479.40,537.50 L479.80,537.50 L479.80,537.42 L480.20,537.42 L480.20,537.58 L480.60,537.58 L480.60,537.41 L481.00,537.41 L481.00,537.13 L481.40,537.13 L481.40,537.80 L481.80,537.80 L481.80,536.25 L482.20,536.25 L482.40,538.30 Z" fill="#d42a3a" stroke="none"/>
<path d="M485.20,538.30 L485.20,537.57 L485.60,537.57 L485.60,537.39 L486.00,537.39 L486.00,536.76 L486.40,536.76 L486.40,537.70 L486.80,537.70 L486.80,537.45 L487.20,537.45 L487.20,537.81 L487.60,537.81 L487.60,537.66 L488.00,537.66 L488.00,537.58 L488.40,537.58 L488.40,537.59 L488.80,537.59 L488.80,537.28 L489.20,537.28 L489.20,537.75 L489.60,537.75 L489.60,537.42 L490.00,537.42 L490.00,537.51 L490.40,537.51 L490.40,535.75 L490.80,535.75 L490.80,537.78 L491.20,537.78 L491.20,537.24 L491.60,537.24 L491.60,537.82 L492.00,537.82 L492.00,537.43 L492.40,537.43 L492.40,537.62 L492.80,537.62 L492.80,537.67 L493.20,537.67 L493.20,537.58 L493.60,537.58 L493.60,537.62 L494.00,537.62 L494.00,537.78 L494.40,537.78 L494.40,537.57 L494.80,537.57 L494.80,537.49 L495.20,537.49 L495.20,537.29 L495.60,537.29 L495.60,536.73 L496.00,536.73 L496.00,537.05 L496.40,537.05 L496.40,535.67 L496.80,535.67 L496.80,535.29 L497.20,535.29 L497.20,535.73 L497.60,535.73 L497.60,535.34 L498.00,535.34 L498.00,535.65 L498.40,535.65 L498.40,535.44 L498.80,535.44 L498.80,534.85 L499.20,534.85 L499.20,535.32 L499.60,535.32 L499.60,534.63 L500.00,534.63 L500.00,534.07 L500.40,534.07 L500.40,534.30 L500.80,534.30 L500.80,534.05 L501.20,534.05 L501.20,533.08 L501.60,533.08 L501.60,531.80 L502.00,531.80 L502.00,529.72 L502.40,529.72 L502.40,532.95 L502.80,532.95 L502.80,531.88 L503.20,531.88 L503.20,530.71 L503.60,530.71 L503.60,532.30 L504.00,532.30 L504.00,531.89 L504.40,531.89 L504.40,532.28 L504.80,532.28 L504.80,532.46 L505.20,532.46 L505.20,532.50 L505.60,532.50 L505.60,535.80 L506.00,535.80 L506.00,537.04 L506.40,537.04 L506.40,537.00 L506.80,537.00 L506.80,537.25 L507.20,537.25 L507.20,537.36 L507.60,537.36 L507.60,537.20 L508.00,537.20 L508.00,537.53 L508.40,537.53 L508.40,536.85 L508.80,536.85 L508.80,537.50 L509.20,537.50 L509.20,537.50 L509.60,537.50 L509.60,537.49 L510.00,537.49 L510.00,537.61 L510.40,537.61 L510.40,537.80 L510.80,537.80 L510.80,537.36 L511.20,537.36 L511.20,537.70 L511.60,537.70 L511.60,537.78 L512.00,537.78 L512.00,537.84 L512.40,537.84 L512.40,537.63 L512.80,537.63 L513.00,538.30 Z" fill="#d42a3a" stroke="none"/>
<path d="M291.90,558.70 L291.90,557.74 L292.30,557.74 L292.30,556.13 L292.70,556.13 L292.70,557.68 L293.10,557.68 L293.10,557.89 L293.50,557.89 L293.50,557.87 L293.90,557.87 L293.90,557.63 L294.30,557.63 L294.30,557.45 L294.70,557.45 L294.70,557.56 L295.10,557.56 L295.10,557.18 L295.50,557.18 L295.50,557.35 L295.90,557.35 L295.90,557.13 L296.30,557.13 L296.30,557.46 L296.70,557.46 L296.70,557.49 L297.10,557.49 L297.10,557.48 L297.50,557.48 L297.50,557.05 L297.90,557.05 L297.90,557.19 L298.30,557.19 L298.30,556.84 L298.70,556.84 L298.70,555.41 L299.10,555.41 L299.10,556.58 L299.50,556.58 L299.50,555.74 L299.90,555.74 L299.90,556.45 L300.30,556.45 L300.30,557.38 L300.70,557.38 L300.70,557.74 L301.10,557.74 L301.10,557.97 L301.50,557.97 L301.50,558.19 L301.90,558.19 L301.90,557.59 L302.30,557.59 L302.30,558.10 L302.70,558.10 L302.70,557.89 L303.10,557.89 L303.10,557.90 L303.50,557.90 L303.50,558.03 L303.90,558.03 L303.90,558.17 L304.30,558.17 L304.30,557.60 L304.70,557.60 L304.70,558.18 L305.10,558.18 L305.10,558.15 L305.50,558.15 L305.50,558.14 L305.90,558.14 L305.90,557.21 L306.30,557.21 L306.30,556.49 L306.70,556.49 L306.70,553.88 L307.10,553.88 L307.10,548.21 L307.50,548.21 L307.50,549.91 L307.90,549.91 L307.90,552.91 L308.30,552.91 L308.30,552.91 L308.70,552.91 L308.70,554.08 L309.10,554.08 L309.10,554.34 L309.50,554.34 L309.50,552.36 L309.90,552.36 L309.90,549.35 L310.30,549.35 L310.30,548.19 L310.70,548.19 L310.70,549.88 L311.10,549.88 L311.10,555.81 L311.50,555.81 L311.50,557.64 L311.90,557.64 L311.90,557.67 L312.30,557.67 L312.30,558.02 L312.70,558.02 L312.70,558.10 L313.10,558.10 L313.10,558.11 L313.50,558.11 L313.50,558.04 L313.90,558.04 L313.90,557.48 L314.30,557.48 L314.30,557.80 L314.70,557.80 L314.70,558.10 L315.10,558.10 L315.10,558.16 L315.50,558.16 L315.50,557.01 L315.90,557.01 L315.90,557.90 L316.30,557.90 L316.30,557.88 L316.70,557.88 L316.70,558.21 L317.10,558.21 L317.10,558.01 L317.50,558.01 L317.50,557.74 L317.90,557.74 L317.90,557.52 L318.30,557.52 L318.30,558.15 L318.70,558.15 L318.70,558.12 L319.10,558.12 L319.10,557.93 L319.50,557.93 L319.50,558.04 L319.90,558.04 L319.90,557.97 L320.30,557.97 L320.30,558.05 L320.70,558.05 L320.70,558.13 L321.10,558.13 L321.10,558.05 L321.50,558.05 L321.50,558.10 L321.90,558.10 L321.90,557.76 L322.30,557.76 L322.30,558.23 L322.70,558.23 L322.70,557.93 L323.10,557.93 L323.10,558.14 L323.50,558.14 L323.50,558.07 L323.90,558.07 L323.90,558.18 L324.30,558.18 L324.30,558.07 L324.70,558.07 L324.70,558.21 L325.10,558.21 L325.10,558.03 L325.50,558.03 L325.50,557.90 L325.90,557.90 L325.90,556.57 L326.30,556.57 L326.30,557.86 L326.70,557.86 L326.70,557.72 L327.10,557.72 L327.10,557.88 L327.50,557.88 L327.50,558.05 L327.90,558.05 L327.90,558.04 L328.30,558.04 L328.30,558.24 L328.70,558.24 L328.70,557.97 L329.10,557.97 L329.10,558.20 L329.50,558.20 L329.50,558.20 L329.90,558.20 L330.00,558.70 Z" fill="#1f5a94" stroke="none"/>
<path d="M335.30,558.70 L335.30,557.64 L335.70,557.64 L335.70,557.77 L336.10,557.77 L336.10,557.82 L336.50,557.82 L336.50,558.07 L336.90,558.07 L336.90,558.15 L337.30,558.15 L337.30,558.07 L337.70,558.07 L337.70,558.05 L338.10,558.05 L338.10,558.23 L338.50,558.23 L338.50,557.99 L338.90,557.99 L338.90,557.60 L339.30,557.60 L339.30,557.70 L339.70,557.70 L339.70,558.22 L340.10,558.22 L340.10,558.01 L340.50,558.01 L340.50,558.20 L340.90,558.20 L340.90,558.12 L341.30,558.12 L341.30,558.09 L341.70,558.09 L341.70,557.96 L342.10,557.96 L342.10,558.18 L342.50,558.18 L342.50,558.20 L342.90,558.20 L342.90,558.01 L343.30,558.01 L343.30,557.95 L343.70,557.95 L343.70,557.72 L344.10,557.72 L344.10,558.11 L344.50,558.11 L344.50,558.02 L344.90,558.02 L344.90,557.58 L345.30,557.58 L345.30,557.97 L345.70,557.97 L345.70,558.09 L346.10,558.09 L346.10,557.83 L346.50,557.83 L346.50,557.73 L346.90,557.73 L346.90,558.24 L347.30,558.24 L347.30,557.94 L347.70,557.94 L347.70,558.17 L348.10,558.17 L348.10,557.99 L348.50,557.99 L348.50,558.11 L348.90,558.11 L348.90,557.96 L349.30,557.96 L349.30,557.98 L349.70,557.98 L349.70,557.27 L350.10,557.27 L350.10,557.07 L350.50,557.07 L350.50,556.50 L350.90,556.50 L350.90,556.38 L351.30,556.38 L351.30,556.97 L351.70,556.97 L351.70,557.75 L352.10,557.75 L352.10,557.79 L352.50,557.79 L352.50,557.77 L352.90,557.77 L352.90,558.00 L353.30,558.00 L353.30,557.91 L353.70,557.91 L353.70,557.59 L354.10,557.59 L354.10,558.15 L354.50,558.15 L354.50,557.98 L354.90,557.98 L354.90,557.89 L355.30,557.89 L355.30,557.59 L355.70,557.59 L355.70,557.86 L356.10,557.86 L356.10,557.85 L356.50,557.85 L356.50,557.84 L356.90,557.84 L356.90,557.19 L357.30,557.19 L357.30,554.73 L357.70,554.73 L357.70,554.70 L358.10,554.70 L358.10,552.33 L358.50,552.33 L358.50,552.02 L358.90,552.02 L358.90,555.21 L359.30,555.21 L359.30,556.30 L359.70,556.30 L359.70,556.08 L360.10,556.08 L360.10,554.49 L360.50,554.49 L360.50,551.56 L360.90,551.56 L360.90,550.91 L361.30,550.91 L361.30,553.39 L361.70,553.39 L361.70,555.62 L362.10,555.62 L362.10,556.02 L362.50,556.02 L362.50,553.63 L362.90,553.63 L362.90,553.49 L363.30,553.49 L363.30,550.44 L363.70,550.44 L363.70,553.90 L364.10,553.90 L364.10,553.93 L364.50,553.93 L364.50,554.72 L364.90,554.72 L364.90,554.90 L365.30,554.90 L365.30,553.42 L365.70,553.42 L365.70,552.10 L366.10,552.10 L366.10,551.11 L366.50,551.11 L366.50,550.62 L366.90,550.62 L366.90,555.01 L367.30,555.01 L367.30,554.95 L367.70,554.95 L367.70,554.98 L368.10,554.98 L368.10,553.59 L368.50,553.59 L368.50,551.71 L368.90,551.71 L368.90,551.31 L369.30,551.31 L369.30,552.46 L369.70,552.46 L369.70,554.58 L370.10,554.58 L370.10,555.01 L370.50,555.01 L370.50,552.41 L370.90,552.41 L370.90,551.89 L371.30,551.89 L371.30,553.47 L371.70,553.47 L371.70,556.27 L372.10,556.27 L372.10,557.31 L372.50,557.31 L372.50,557.61 L372.90,557.61 L372.90,557.38 L373.30,557.38 L373.30,557.59 L373.70,557.59 L373.70,557.49 L374.10,557.49 L374.10,556.82 L374.50,556.82 L374.50,557.14 L374.90,557.14 L374.90,557.33 L375.30,557.33 L375.30,556.87 L375.70,556.87 L375.70,556.64 L376.10,556.64 L376.10,556.90 L376.50,556.90 L376.50,557.23 L376.90,557.23 L376.90,557.19 L377.30,557.19 L377.30,556.89 L377.70,556.89 L377.70,557.42 L378.10,557.42 L378.10,557.56 L378.50,557.56 L378.50,558.02 L378.90,558.02 L378.90,557.63 L379.30,557.63 L379.30,557.73 L379.70,557.73 L379.70,558.02 L380.10,558.02 L380.10,558.70 Z" fill="#1f5a94" stroke="none"/>
<path d="M382.00,558.70 L382.00,558.25 L382.40,558.25 L382.40,557.88 L382.80,557.88 L382.80,557.99 L383.20,557.99 L383.20,558.00 L383.60,558.00 L383.60,557.68 L384.00,557.68 L384.00,557.83 L384.40,557.83 L384.40,558.03 L384.80,558.03 L384.80,557.78 L385.20,557.78 L385.20,556.64 L385.60,556.64 L385.60,557.89 L386.00,557.89 L386.00,558.23 L386.40,558.23 L386.40,558.06 L386.80,558.06 L386.80,557.56 L387.20,557.56 L387.20,558.18 L387.60,558.18 L387.60,557.89 L388.00,557.89 L388.00,557.59 L388.40,557.59 L388.40,557.87 L388.80,557.87 L388.80,557.79 L389.20,557.79 L389.20,558.12 L389.60,558.12 L389.60,557.92 L390.00,557.92 L390.00,557.75 L390.40,557.75 L390.40,557.94 L390.80,557.94 L390.80,557.76 L391.20,557.76 L391.20,557.92 L391.60,557.92 L391.60,557.49 L392.00,557.49 L392.00,557.48 L392.40,557.48 L392.40,557.50 L392.80,557.50 L392.80,557.57 L393.20,557.57 L393.20,557.38 L393.60,557.38 L393.60,556.78 L394.00,556.78 L394.00,557.31 L394.40,557.31 L394.40,557.42 L394.80,557.42 L394.80,556.97 L395.20,556.97 L395.20,556.97 L395.60,556.97 L395.60,557.24 L396.00,557.24 L396.00,557.20 L396.40,557.20 L396.40,557.04 L396.80,557.04 L396.80,556.77 L397.20,556.77 L397.20,556.27 L397.60,556.27 L397.60,555.34 L398.00,555.34 L398.00,556.50 L398.40,556.50 L398.40,555.73 L398.80,555.73 L398.80,554.11 L399.20,554.11 L399.20,553.66 L399.60,553.66 L399.60,550.84 L400.00,550.84 L400.00,550.66 L400.40,550.66 L400.40,547.39 L400.80,547.39 L400.80,545.19 L401.20,545.19 L401.20,540.52 L401.60,540.52 L401.60,546.36 L402.00,546.36 L402.00,547.55 L402.40,547.55 L402.40,547.71 L402.80,547.71 L402.80,550.78 L403.20,550.78 L403.20,552.71 L403.60,552.71 L403.60,554.81 L404.00,554.81 L404.00,556.48 L404.40,556.48 L404.40,556.97 L404.80,556.97 L404.80,557.02 L405.20,557.02 L405.20,557.24 L405.60,557.24 L405.60,557.01 L406.00,557.01 L406.00,557.76 L406.40,557.76 L406.40,557.43 L406.80,557.43 L406.80,557.84 L407.20,557.84 L407.20,557.79 L407.60,557.79 L407.60,557.64 L408.00,557.64 L408.00,557.91 L408.40,557.91 L408.40,558.08 L408.80,558.08 L409.00,558.70 Z" fill="#1f5a94" stroke="none"/>
<path d="M415.40,558.70 L415.40,557.61 L415.80,557.61 L415.80,557.17 L416.20,557.17 L416.20,557.91 L416.60,557.91 L416.60,558.23 L417.00,558.23 L417.00,557.79 L417.40,557.79 L417.40,558.12 L417.80,558.12 L417.80,557.61 L418.20,557.61 L418.20,558.24 L418.60,558.24 L418.60,558.07 L419.00,558.07 L419.00,558.05 L419.40,558.05 L419.40,558.10 L419.80,558.10 L419.80,558.13 L420.20,558.13 L420.20,558.16 L420.60,558.16 L420.60,558.00 L421.00,558.00 L421.00,558.00 L421.40,558.00 L421.40,558.08 L421.80,558.08 L421.80,558.12 L422.20,558.12 L422.20,557.62 L422.60,557.62 L422.60,557.66 L423.00,557.66 L423.00,558.17 L423.40,558.17 L423.40,557.76 L423.80,557.76 L423.80,558.06 L424.20,558.06 L424.20,557.53 L424.60,557.53 L424.60,557.56 L425.00,557.56 L425.00,556.19 L425.40,556.19 L425.40,557.36 L425.80,557.36 L425.80,557.34 L426.20,557.34 L426.20,557.34 L426.60,557.34 L426.60,557.02 L427.00,557.02 L427.00,555.25 L427.40,555.25 L427.40,556.47 L427.80,556.47 L427.80,556.74 L428.20,556.74 L428.20,557.04 L428.60,557.04 L428.60,556.17 L429.00,556.17 L429.00,556.82 L429.40,556.82 L429.40,555.56 L429.80,555.56 L429.80,554.06 L430.20,554.06 L430.20,549.32 L430.60,549.32 L430.60,548.34 L431.00,548.34 L431.00,546.54 L431.40,546.54 L431.40,548.75 L431.80,548.75 L431.80,546.45 L432.20,546.45 L432.20,550.29 L432.60,550.29 L432.60,553.27 L433.00,553.27 L433.00,555.16 L433.40,555.16 L433.40,557.04 L433.80,557.04 L433.80,557.63 L434.20,557.63 L434.20,557.70 L434.60,557.70 L434.60,557.80 L435.00,557.80 L435.00,557.65 L435.40,557.65 L435.40,558.18 L435.80,558.18 L435.80,558.00 L436.20,558.00 L436.20,558.19 L436.60,558.19 L436.60,557.88 L437.00,557.88 L437.00,558.02 L437.40,558.02 L437.40,557.94 L437.80,557.94 L437.80,558.13 L438.20,558.13 L438.20,557.68 L438.60,557.68 L438.60,558.12 L439.00,558.12 L439.00,558.13 L439.40,558.13 L439.40,558.04 L439.80,558.04 L439.80,558.04 L440.20,558.04 L440.20,558.03 L440.60,558.03 L440.60,558.02 L441.00,558.02 L441.00,558.00 L441.40,558.00 L441.40,557.84 L441.80,557.84 L441.80,558.05 L442.20,558.05 L442.20,557.31 L442.60,557.31 L442.60,557.92 L443.00,557.92 L443.00,557.87 L443.40,557.87 L443.40,557.83 L443.80,557.83 L443.80,558.11 L444.20,558.11 L444.20,557.61 L444.60,557.61 L444.70,558.70 Z" fill="#1f5a94" stroke="none"/>
<path d="M453.00,558.70 L453.00,558.01 L453.40,558.01 L453.40,557.91 L453.80,557.91 L453.80,557.70 L454.20,557.70 L454.20,557.23 L454.60,557.23 L454.60,558.13 L455.00,558.13 L455.00,557.81 L455.40,557.81 L455.40,558.24 L455.80,558.24 L455.80,558.07 L456.20,558.07 L456.20,557.89 L456.60,557.89 L456.60,557.94 L457.00,557.94 L457.00,555.91 L457.40,555.91 L457.40,557.94 L457.80,557.94 L457.80,558.12 L458.20,558.12 L458.20,557.29 L458.60,557.29 L458.60,558.20 L459.00,558.20 L459.00,558.19 L459.40,558.19 L459.40,558.05 L459.80,558.05 L459.80,558.10 L460.20,558.10 L460.20,557.45 L460.60,557.45 L460.60,557.97 L461.00,557.97 L461.00,557.57 L461.40,557.57 L461.40,558.07 L461.80,558.07 L461.80,558.03 L462.20,558.03 L462.20,557.86 L462.60,557.86 L462.60,557.79 L463.00,557.79 L463.00,557.65 L463.40,557.65 L463.40,557.40 L463.80,557.40 L463.80,556.79 L464.20,556.79 L464.20,557.22 L464.60,557.22 L464.60,556.52 L465.00,556.52 L465.00,556.55 L465.40,556.55 L465.40,556.92 L465.80,556.92 L465.80,555.63 L466.20,555.63 L466.20,555.95 L466.60,555.95 L466.60,554.95 L467.00,554.95 L467.00,555.83 L467.40,555.83 L467.40,554.80 L467.80,554.80 L467.80,555.37 L468.20,555.37 L468.20,555.53 L468.60,555.53 L468.60,554.96 L469.00,554.96 L469.00,553.69 L469.40,553.69 L469.40,551.52 L469.80,551.52 L469.80,550.94 L470.20,550.94 L470.20,546.84 L470.60,546.84 L470.60,544.22 L471.00,544.22 L471.00,541.21 L471.40,541.21 L471.40,546.30 L471.80,546.30 L471.80,547.17 L472.20,547.17 L472.20,551.23 L472.60,551.23 L472.60,553.69 L473.00,553.69 L473.00,555.52 L473.40,555.52 L473.40,556.75 L473.80,556.75 L473.80,557.39 L474.20,557.39 L474.20,557.36 L474.60,557.36 L474.60,557.67 L475.00,557.67 L475.00,557.62 L475.40,557.62 L475.40,557.78 L475.80,557.78 L475.80,557.53 L476.20,557.53 L476.20,557.74 L476.60,557.74 L476.60,558.01 L477.00,558.01 L477.00,557.76 L477.40,557.76 L477.40,557.76 L477.80,557.76 L477.80,557.89 L478.20,557.89 L478.20,558.13 L478.60,558.13 L478.60,558.16 L479.00,558.16 L479.00,558.20 L479.40,558.20 L479.40,556.34 L479.80,556.34 L479.80,558.06 L480.20,558.06 L480.20,558.09 L480.60,558.09 L480.60,558.11 L481.00,558.11 L481.00,557.79 L481.40,557.79 L481.40,558.08 L481.80,558.08 L481.80,558.23 L482.20,558.23 L482.40,558.70 Z" fill="#1f5a94" stroke="none"/>
<path d="M485.20,558.70 L485.20,557.75 L485.60,557.75 L485.60,557.92 L486.00,557.92 L486.00,558.11 L486.40,558.11 L486.40,558.07 L486.80,558.07 L486.80,558.07 L487.20,558.07 L487.20,557.97 L487.60,557.97 L487.60,557.74 L488.00,557.74 L488.00,557.89 L488.40,557.89 L488.40,558.04 L488.80,558.04 L488.80,557.52 L489.20,557.52 L489.20,557.99 L489.60,557.99 L489.60,558.06 L490.00,558.06 L490.00,558.18 L490.40,558.18 L490.40,558.17 L490.80,558.17 L490.80,558.13 L491.20,558.13 L491.20,557.75 L491.60,557.75 L491.60,558.05 L492.00,558.05 L492.00,557.66 L492.40,557.66 L492.40,558.01 L492.80,558.01 L492.80,558.15 L493.20,558.15 L493.20,557.67 L493.60,557.67 L493.60,557.62 L494.00,557.62 L494.00,558.06 L494.40,558.06 L494.40,557.86 L494.80,557.86 L494.80,557.59 L495.20,557.59 L495.20,557.76 L495.60,557.76 L495.60,557.85 L496.00,557.85 L496.00,557.57 L496.40,557.57 L496.40,556.48 L496.80,556.48 L496.80,556.23 L497.20,556.23 L497.20,556.33 L497.60,556.33 L497.60,555.48 L498.00,555.48 L498.00,554.81 L498.40,554.81 L498.40,553.77 L498.80,553.77 L498.80,552.41 L499.20,552.41 L499.20,552.99 L499.60,552.99 L499.60,552.37 L500.00,552.37 L500.00,550.95 L500.40,550.95 L500.40,548.02 L500.80,548.02 L500.80,548.05 L501.20,548.05 L501.20,551.15 L501.60,551.15 L501.60,552.27 L502.00,552.27 L502.00,554.49 L502.40,554.49 L502.40,553.03 L502.80,553.03 L502.80,549.72 L503.20,549.72 L503.20,546.73 L503.60,546.73 L503.60,548.60 L504.00,548.60 L504.00,552.31 L504.40,552.31 L504.40,554.25 L504.80,554.25 L504.80,554.55 L505.20,554.55 L505.20,554.46 L505.60,554.46 L505.60,555.81 L506.00,555.81 L506.00,556.00 L506.40,556.00 L506.40,556.94 L506.80,556.94 L506.80,557.23 L507.20,557.23 L507.20,557.25 L507.60,557.25 L507.60,557.38 L508.00,557.38 L508.00,557.54 L508.40,557.54 L508.40,557.83 L508.80,557.83 L508.80,557.82 L509.20,557.82 L509.20,558.10 L509.60,558.10 L509.60,558.11 L510.00,558.11 L510.00,557.78 L510.40,557.78 L510.40,557.94 L510.80,557.94 L510.80,557.94 L511.20,557.94 L511.20,557.91 L511.60,557.91 L511.60,557.67 L512.00,557.67 L512.00,558.14 L512.40,558.14 L512.40,557.72 L512.80,557.72 L513.00,558.70 Z" fill="#1f5a94" stroke="none"/>
<path d="M291.90,579.10 L291.90,578.51 L292.30,578.51 L292.30,578.22 L292.70,578.22 L292.70,578.15 L293.10,578.15 L293.10,578.52 L293.50,578.52 L293.50,578.49 L293.90,578.49 L293.90,578.46 L294.30,578.46 L294.30,578.31 L294.70,578.31 L294.70,578.31 L295.10,578.31 L295.10,578.27 L295.50,578.27 L295.50,578.29 L295.90,578.29 L295.90,578.57 L296.30,578.57 L296.30,578.57 L296.70,578.57 L296.70,578.36 L297.10,578.36 L297.10,578.20 L297.50,578.20 L297.50,578.14 L297.90,578.14 L297.90,576.71 L298.30,576.71 L298.30,578.31 L298.70,578.31 L298.70,578.53 L299.10,578.53 L299.10,578.36 L299.50,578.36 L299.50,578.48 L299.90,578.48 L299.90,578.03 L300.30,578.03 L300.30,578.10 L300.70,578.10 L300.70,578.02 L301.10,578.02 L301.10,578.49 L301.50,578.49 L301.50,577.76 L301.90,577.76 L301.90,577.53 L302.30,577.53 L302.30,578.01 L302.70,578.01 L302.70,578.21 L303.10,578.21 L303.10,578.34 L303.50,578.34 L303.50,577.92 L303.90,577.92 L303.90,578.41 L304.30,578.41 L304.30,578.42 L304.70,578.42 L304.70,578.38 L305.10,578.38 L305.10,577.52 L305.50,577.52 L305.50,578.14 L305.90,578.14 L305.90,577.86 L306.30,577.86 L306.30,578.36 L306.70,578.36 L306.70,578.24 L307.10,578.24 L307.10,578.23 L307.50,578.23 L307.50,577.55 L307.90,577.55 L307.90,578.24 L308.30,578.24 L308.30,577.96 L308.70,577.96 L308.70,578.21 L309.10,578.21 L309.10,576.23 L309.50,576.23 L309.50,578.32 L309.90,578.32 L309.90,578.47 L310.30,578.47 L310.30,578.33 L310.70,578.33 L310.70,578.16 L311.10,578.16 L311.10,577.93 L311.50,577.93 L311.50,578.33 L311.90,578.33 L311.90,578.39 L312.30,578.39 L312.30,576.63 L312.70,576.63 L312.70,578.55 L313.10,578.55 L313.10,578.24 L313.50,578.24 L313.50,578.43 L313.90,578.43 L313.90,578.25 L314.30,578.25 L314.30,578.16 L314.70,578.16 L314.70,578.44 L315.10,578.44 L315.10,578.05 L315.50,578.05 L315.50,578.47 L315.90,578.47 L315.90,578.00 L316.30,578.00 L316.30,578.29 L316.70,578.29 L316.70,578.29 L317.10,578.29 L317.10,578.57 L317.50,578.57 L317.50,577.78 L317.90,577.78 L317.90,578.41 L318.30,578.41 L318.30,578.59 L318.70,578.59 L318.70,577.72 L319.10,577.72 L319.10,578.42 L319.50,578.42 L319.50,578.34 L319.90,578.34 L319.90,578.28 L320.30,578.28 L320.30,578.61 L320.70,578.61 L320.70,578.54 L321.10,578.54 L321.10,578.56 L321.50,578.56 L321.50,578.18 L321.90,578.18 L321.90,577.96 L322.30,577.96 L322.30,578.63 L322.70,578.63 L322.70,578.55 L323.10,578.55 L323.10,578.64 L323.50,578.64 L323.50,578.59 L323.90,578.59 L323.90,578.48 L324.30,578.48 L324.30,578.46 L324.70,578.46 L324.70,578.58 L325.10,578.58 L325.10,578.43 L325.50,578.43 L325.50,577.99 L325.90,577.99 L325.90,577.74 L326.30,577.74 L326.30,578.15 L326.70,578.15 L326.70,578.60 L327.10,578.60 L327.10,578.33 L327.50,578.33 L327.50,578.50 L327.90,578.50 L327.90,578.41 L328.30,578.41 L328.30,578.24 L328.70,578.24 L328.70,577.82 L329.10,577.82 L329.10,578.55 L329.50,578.55 L329.50,578.13 L329.90,578.13 L330.00,579.10 Z" fill="#3dae4a" stroke="none"/>
<path d="M335.30,579.10 L335.30,577.26 L335.70,577.26 L335.70,578.12 L336.10,578.12 L336.10,578.02 L336.50,578.02 L336.50,578.06 L336.90,578.06 L336.90,578.63 L337.30,578.63 L337.30,578.37 L337.70,578.37 L337.70,578.37 L338.10,578.37 L338.10,578.27 L338.50,578.27 L338.50,578.57 L338.90,578.57 L338.90,578.36 L339.30,578.36 L339.30,578.45 L339.70,578.45 L339.70,578.43 L340.10,578.43 L340.10,578.06 L340.50,578.06 L340.50,578.10 L340.90,578.10 L340.90,578.11 L341.30,578.11 L341.30,578.31 L341.70,578.31 L341.70,577.89 L342.10,577.89 L342.10,578.23 L342.50,578.23 L342.50,578.29 L342.90,578.29 L342.90,578.20 L343.30,578.20 L343.30,578.43 L343.70,578.43 L343.70,578.57 L344.10,578.57 L344.10,578.36 L344.50,578.36 L344.50,578.65 L344.90,578.65 L344.90,578.60 L345.30,578.60 L345.30,578.34 L345.70,578.34 L345.70,578.61 L346.10,578.61 L346.10,578.10 L346.50,578.10 L346.50,578.38 L346.90,578.38 L346.90,578.49 L347.30,578.49 L347.30,578.48 L347.70,578.48 L347.70,578.35 L348.10,578.35 L348.10,578.24 L348.50,578.24 L348.50,578.30 L348.90,578.30 L348.90,578.47 L349.30,578.47 L349.30,578.59 L349.70,578.59 L349.70,578.51 L350.10,578.51 L350.10,578.41 L350.50,578.41 L350.50,578.57 L350.90,578.57 L350.90,578.44 L351.30,578.44 L351.30,578.58 L351.70,578.58 L351.70,578.30 L352.10,578.30 L352.10,578.53 L352.50,578.53 L352.50,578.35 L352.90,578.35 L352.90,578.29 L353.30,578.29 L353.30,578.55 L353.70,578.55 L353.70,578.17 L354.10,578.17 L354.10,578.61 L354.50,578.61 L354.50,578.62 L354.90,578.62 L354.90,578.58 L355.30,578.58 L355.30,578.56 L355.70,578.56 L355.70,578.18 L356.10,578.18 L356.10,578.15 L356.50,578.15 L356.50,578.22 L356.90,578.22 L356.90,578.24 L357.30,578.24 L357.30,578.05 L357.70,578.05 L357.70,578.39 L358.10,578.39 L358.10,578.58 L358.50,578.58 L358.50,578.51 L358.90,578.51 L358.90,578.03 L359.30,578.03 L359.30,577.64 L359.70,577.64 L359.70,577.84 L360.10,577.84 L360.10,577.86 L360.50,577.86 L360.50,578.01 L360.90,578.01 L360.90,578.31 L361.30,578.31 L361.30,578.29 L361.70,578.29 L361.70,577.13 L362.10,577.13 L362.10,578.64 L362.50,578.64 L362.50,578.64 L362.90,578.64 L362.90,578.49 L363.30,578.49 L363.30,578.47 L363.70,578.47 L363.70,578.29 L364.10,578.29 L364.10,578.42 L364.50,578.42 L364.50,578.62 L364.90,578.62 L364.90,578.60 L365.30,578.60 L365.30,578.58 L365.70,578.58 L365.70,578.46 L366.10,578.46 L366.10,578.15 L366.50,578.15 L366.50,577.57 L366.90,577.57 L366.90,578.51 L367.30,578.51 L367.30,578.58 L367.70,578.58 L367.70,578.35 L368.10,578.35 L368.10,578.20 L368.50,578.20 L368.50,578.33 L368.90,578.33 L368.90,578.41 L369.30,578.41 L369.30,578.61 L369.70,578.61 L369.70,578.39 L370.10,578.39 L370.10,578.28 L370.50,578.28 L370.50,578.48 L370.90,578.48 L370.90,578.55 L371.30,578.55 L371.30,578.06 L371.70,578.06 L371.70,578.32 L372.10,578.32 L372.10,578.53 L372.50,578.53 L372.50,578.35 L372.90,578.35 L372.90,577.07 L373.30,577.07 L373.30,578.53 L373.70,578.53 L373.70,578.15 L374.10,578.15 L374.10,578.62 L374.50,578.62 L374.50,578.56 L374.90,578.56 L374.90,578.30 L375.30,578.30 L375.30,577.99 L375.70,577.99 L375.70,578.52 L376.10,578.52 L376.10,578.60 L376.50,578.60 L376.50,578.15 L376.90,578.15 L376.90,578.27 L377.30,578.27 L377.30,577.62 L377.70,577.62 L377.70,578.17 L378.10,578.17 L378.10,578.56 L378.50,578.56 L378.50,578.37 L378.90,578.37 L378.90,578.04 L379.30,578.04 L379.30,578.51 L379.70,578.51 L379.70,578.37 L380.10,578.37 L380.10,579.10 Z" fill="#3dae4a" stroke="none"/>
<path d="M382.00,579.10 L382.00,578.00 L382.40,578.00 L382.40,578.08 L382.80,578.08 L382.80,577.95 L383.20,577.95 L383.20,578.11 L383.60,578.11 L383.60,577.71 L384.00,577.71 L384.00,577.75 L384.40,577.75 L384.40,577.90 L384.80,577.90 L384.80,577.51 L385.20,577.51 L385.20,578.10 L385.60,578.10 L385.60,577.84 L386.00,577.84 L386.00,577.52 L386.40,577.52 L386.40,577.57 L386.80,577.57 L386.80,577.10 L387.20,577.10 L387.20,577.73 L387.60,577.73 L387.60,577.00 L388.00,577.00 L388.00,577.66 L388.40,577.66 L388.40,577.45 L388.80,577.45 L388.80,577.39 L389.20,577.39 L389.20,577.59 L389.60,577.59 L389.60,576.72 L390.00,576.72 L390.00,577.77 L390.40,577.77 L390.40,577.27 L390.80,577.27 L390.80,577.58 L391.20,577.58 L391.20,577.67 L391.60,577.67 L391.60,577.13 L392.00,577.13 L392.00,577.66 L392.40,577.66 L392.40,576.94 L392.80,576.94 L392.80,577.28 L393.20,577.28 L393.20,577.29 L393.60,577.29 L393.60,577.14 L394.00,577.14 L394.00,576.95 L394.40,576.95 L394.40,577.11 L394.80,577.11 L394.80,576.89 L395.20,576.89 L395.20,577.11 L395.60,577.11 L395.60,577.14 L396.00,577.14 L396.00,576.87 L396.40,576.87 L396.40,577.82 L396.80,577.82 L396.80,577.24 L397.20,577.24 L397.20,577.40 L397.60,577.40 L397.60,577.70 L398.00,577.70 L398.00,576.78 L398.40,576.78 L398.40,577.57 L398.80,577.57 L398.80,577.28 L399.20,577.28 L399.20,575.44 L399.60,575.44 L399.60,573.73 L400.00,573.73 L400.00,572.34 L400.40,572.34 L400.40,572.81 L400.80,572.81 L400.80,573.76 L401.20,573.76 L401.20,576.20 L401.60,576.20 L401.60,576.15 L402.00,576.15 L402.00,575.01 L402.40,575.01 L402.40,570.88 L402.80,570.88 L402.80,569.77 L403.20,569.77 L403.20,571.09 L403.60,571.09 L403.60,575.08 L404.00,575.08 L404.00,577.92 L404.40,577.92 L404.40,578.15 L404.80,578.15 L404.80,577.77 L405.20,577.77 L405.20,578.06 L405.60,578.06 L405.60,578.05 L406.00,578.05 L406.00,578.26 L406.40,578.26 L406.40,578.48 L406.80,578.48 L406.80,578.50 L407.20,578.50 L407.20,578.35 L407.60,578.35 L407.60,577.70 L408.00,577.70 L408.00,576.87 L408.40,576.87 L408.40,575.31 L408.80,575.31 L409.00,579.10 Z" fill="#3dae4a" stroke="none"/>
<path d="M415.40,579.10 L415.40,578.43 L415.80,578.43 L415.80,578.54 L416.20,578.54 L416.20,578.60 L416.60,578.60 L416.60,577.79 L417.00,577.79 L417.00,578.47 L417.40,578.47 L417.40,577.84 L417.80,577.84 L417.80,578.29 L418.20,578.29 L418.20,578.36 L418.60,578.36 L418.60,578.31 L419.00,578.31 L419.00,578.30 L419.40,578.30 L419.40,578.42 L419.80,578.42 L419.80,578.33 L420.20,578.33 L420.20,578.46 L420.60,578.46 L420.60,578.01 L421.00,578.01 L421.00,578.35 L421.40,578.35 L421.40,578.35 L421.80,578.35 L421.80,578.17 L422.20,578.17 L422.20,578.23 L422.60,578.23 L422.60,578.30 L423.00,578.30 L423.00,578.30 L423.40,578.30 L423.40,578.39 L423.80,578.39 L423.80,578.35 L424.20,578.35 L424.20,578.20 L424.60,578.20 L424.60,578.30 L425.00,578.30 L425.00,577.78 L425.40,577.78 L425.40,578.31 L425.80,578.31 L425.80,577.91 L426.20,577.91 L426.20,577.98 L426.60,577.98 L426.60,578.13 L427.00,578.13 L427.00,577.28 L427.40,577.28 L427.40,577.88 L427.80,577.88 L427.80,575.94 L428.20,575.94 L428.20,578.00 L428.60,578.00 L428.60,577.71 L429.00,577.71 L429.00,577.45 L429.40,577.45 L429.40,577.88 L429.80,577.88 L429.80,577.96 L430.20,577.96 L430.20,578.21 L430.60,578.21 L430.60,577.91 L431.00,577.91 L431.00,577.52 L431.40,577.52 L431.40,577.74 L431.80,577.74 L431.80,577.95 L432.20,577.95 L432.20,578.29 L432.60,578.29 L432.60,578.09 L433.00,578.09 L433.00,577.54 L433.40,577.54 L433.40,577.79 L433.80,577.79 L433.80,577.81 L434.20,577.81 L434.20,578.32 L434.60,578.32 L434.60,577.88 L435.00,577.88 L435.00,577.98 L435.40,577.98 L435.40,578.27 L435.80,578.27 L435.80,578.37 L436.20,578.37 L436.20,577.84 L436.60,577.84 L436.60,578.04 L437.00,578.04 L437.00,577.89 L437.40,577.89 L437.40,578.34 L437.80,578.34 L437.80,578.32 L438.20,578.32 L438.20,578.16 L438.60,578.16 L438.60,578.44 L439.00,578.44 L439.00,578.36 L439.40,578.36 L439.40,578.46 L439.80,578.46 L439.80,576.83 L440.20,576.83 L440.20,578.50 L440.60,578.50 L440.60,578.21 L441.00,578.21 L441.00,578.13 L441.40,578.13 L441.40,578.26 L441.80,578.26 L441.80,577.82 L442.20,577.82 L442.20,578.54 L442.60,578.54 L442.60,578.42 L443.00,578.42 L443.00,578.10 L443.40,578.10 L443.40,577.26 L443.80,577.26 L443.80,578.15 L444.20,578.15 L444.20,578.46 L444.60,578.46 L444.70,579.10 Z" fill="#3dae4a" stroke="none"/>
<path d="M453.00,579.10 L453.00,578.18 L453.40,578.18 L453.40,578.53 L453.80,578.53 L453.80,578.24 L454.20,578.24 L454.20,578.58 L454.60,578.58 L454.60,578.53 L455.00,578.53 L455.00,578.57 L455.40,578.57 L455.40,578.44 L455.80,578.44 L455.80,578.20 L456.20,578.20 L456.20,578.30 L456.60,578.30 L456.60,578.24 L457.00,578.24 L457.00,578.56 L457.40,578.56 L457.40,578.28 L457.80,578.28 L457.80,578.33 L458.20,578.33 L458.20,578.33 L458.60,578.33 L458.60,577.83 L459.00,577.83 L459.00,578.25 L459.40,578.25 L459.40,577.95 L459.80,577.95 L459.80,578.16 L460.20,578.16 L460.20,577.90 L460.60,577.90 L460.60,578.12 L461.00,578.12 L461.00,577.51 L461.40,577.51 L461.40,577.72 L461.80,577.72 L461.80,577.55 L462.20,577.55 L462.20,577.58 L462.60,577.58 L462.60,578.12 L463.00,578.12 L463.00,577.52 L463.40,577.52 L463.40,577.90 L463.80,577.90 L463.80,577.67 L464.20,577.67 L464.20,577.86 L464.60,577.86 L464.60,578.28 L465.00,578.28 L465.00,577.72 L465.40,577.72 L465.40,578.25 L465.80,578.25 L465.80,578.00 L466.20,578.00 L466.20,578.13 L466.60,578.13 L466.60,578.13 L467.00,578.13 L467.00,578.08 L467.40,578.08 L467.40,576.11 L467.80,576.11 L467.80,577.30 L468.20,577.30 L468.20,577.66 L468.60,577.66 L468.60,577.16 L469.00,577.16 L469.00,577.53 L469.40,577.53 L469.40,577.42 L469.80,577.42 L469.80,576.68 L470.20,576.68 L470.20,576.94 L470.60,576.94 L470.60,577.01 L471.00,577.01 L471.00,577.18 L471.40,577.18 L471.40,577.70 L471.80,577.70 L471.80,577.65 L472.20,577.65 L472.20,578.45 L472.60,578.45 L472.60,578.06 L473.00,578.06 L473.00,578.40 L473.40,578.40 L473.40,578.56 L473.80,578.56 L473.80,578.64 L474.20,578.64 L474.20,577.09 L474.60,577.09 L474.60,577.72 L475.00,577.72 L475.00,578.63 L475.40,578.63 L475.40,578.48 L475.80,578.48 L475.80,578.12 L476.20,578.12 L476.20,578.54 L476.60,578.54 L476.60,578.37 L477.00,578.37 L477.00,578.31 L477.40,578.31 L477.40,578.20 L477.80,578.20 L477.80,578.24 L478.20,578.24 L478.20,578.65 L478.60,578.65 L478.60,578.57 L479.00,578.57 L479.00,578.48 L479.40,578.48 L479.40,578.52 L479.80,578.52 L479.80,578.47 L480.20,578.47 L480.20,578.60 L480.60,578.60 L480.60,578.38 L481.00,578.38 L481.00,578.53 L481.40,578.53 L481.40,578.54 L481.80,578.54 L481.80,578.46 L482.20,578.46 L482.40,579.10 Z" fill="#3dae4a" stroke="none"/>
<path d="M485.20,579.10 L485.20,578.53 L485.60,578.53 L485.60,578.65 L486.00,578.65 L486.00,578.46 L486.40,578.46 L486.40,577.85 L486.80,577.85 L486.80,578.64 L487.20,578.64 L487.20,578.33 L487.60,578.33 L487.60,578.28 L488.00,578.28 L488.00,578.46 L488.40,578.46 L488.40,577.87 L488.80,577.87 L488.80,577.96 L489.20,577.96 L489.20,578.56 L489.60,578.56 L489.60,578.53 L490.00,578.53 L490.00,578.22 L490.40,578.22 L490.40,578.26 L490.80,578.26 L490.80,578.31 L491.20,578.31 L491.20,577.70 L491.60,577.70 L491.60,577.46 L492.00,577.46 L492.00,577.90 L492.40,577.90 L492.40,577.90 L492.80,577.90 L492.80,578.06 L493.20,578.06 L493.20,578.34 L493.60,578.34 L493.60,578.41 L494.00,578.41 L494.00,578.33 L494.40,578.33 L494.40,578.08 L494.80,578.08 L494.80,578.27 L495.20,578.27 L495.20,578.33 L495.60,578.33 L495.60,577.41 L496.00,577.41 L496.00,577.29 L496.40,577.29 L496.40,577.41 L496.80,577.41 L496.80,577.28 L497.20,577.28 L497.20,577.31 L497.60,577.31 L497.60,577.08 L498.00,577.08 L498.00,577.74 L498.40,577.74 L498.40,577.76 L498.80,577.76 L498.80,577.53 L499.20,577.53 L499.20,577.68 L499.60,577.68 L499.60,577.05 L500.00,577.05 L500.00,577.35 L500.40,577.35 L500.40,577.52 L500.80,577.52 L500.80,577.79 L501.20,577.79 L501.20,577.77 L501.60,577.77 L501.60,577.90 L502.00,577.90 L502.00,577.44 L502.40,577.44 L502.40,576.63 L502.80,576.63 L502.80,576.81 L503.20,576.81 L503.20,576.32 L503.60,576.32 L503.60,577.56 L504.00,577.56 L504.00,578.21 L504.40,578.21 L504.40,578.40 L504.80,578.40 L504.80,577.90 L505.20,577.90 L505.20,578.09 L505.60,578.09 L505.60,578.40 L506.00,578.40 L506.00,578.06 L506.40,578.06 L506.40,578.35 L506.80,578.35 L506.80,578.38 L507.20,578.38 L507.20,578.53 L507.60,578.53 L507.60,578.22 L508.00,578.22 L508.00,578.47 L508.40,578.47 L508.40,578.12 L508.80,578.12 L508.80,578.53 L509.20,578.53 L509.20,578.43 L509.60,578.43 L509.60,578.49 L510.00,578.49 L510.00,578.10 L510.40,578.10 L510.40,578.41 L510.80,578.41 L510.80,577.57 L511.20,577.57 L511.20,577.42 L511.60,577.42 L511.60,578.29 L512.00,578.29 L512.00,578.10 L512.40,578.10 L512.40,578.54 L512.80,578.54 L513.00,579.10 Z" fill="#3dae4a" stroke="none"/>
<path d="M291.90,599.30 L291.90,598.28 L292.30,598.28 L292.30,598.57 L292.70,598.57 L292.70,598.46 L293.10,598.46 L293.10,598.73 L293.50,598.73 L293.50,598.69 L293.90,598.69 L293.90,597.93 L294.30,597.93 L294.30,598.45 L294.70,598.45 L294.70,598.24 L295.10,598.24 L295.10,598.67 L295.50,598.67 L295.50,598.32 L295.90,598.32 L295.90,598.56 L296.30,598.56 L296.30,598.38 L296.70,598.38 L296.70,598.22 L297.10,598.22 L297.10,598.41 L297.50,598.41 L297.50,598.26 L297.90,598.26 L297.90,598.23 L298.30,598.23 L298.30,597.73 L298.70,597.73 L298.70,597.85 L299.10,597.85 L299.10,598.24 L299.50,598.24 L299.50,598.24 L299.90,598.24 L299.90,598.17 L300.30,598.17 L300.30,597.61 L300.70,597.61 L300.70,598.25 L301.10,598.25 L301.10,597.95 L301.50,597.95 L301.50,597.89 L301.90,597.89 L301.90,597.78 L302.30,597.78 L302.30,598.32 L302.70,598.32 L302.70,598.35 L303.10,598.35 L303.10,598.35 L303.50,598.35 L303.50,598.20 L303.90,598.20 L303.90,598.50 L304.30,598.50 L304.30,598.58 L304.70,598.58 L304.70,598.28 L305.10,598.28 L305.10,598.56 L305.50,598.56 L305.50,598.35 L305.90,598.35 L305.90,598.67 L306.30,598.67 L306.30,598.07 L306.70,598.07 L306.70,598.55 L307.10,598.55 L307.10,597.65 L307.50,597.65 L307.50,597.59 L307.90,597.59 L307.90,596.31 L308.30,596.31 L308.30,596.22 L308.70,596.22 L308.70,592.63 L309.10,592.63 L309.10,589.08 L309.50,589.08 L309.50,589.07 L309.90,589.07 L309.90,584.90 L310.30,584.90 L310.30,584.38 L310.70,584.38 L310.70,587.06 L311.10,587.06 L311.10,591.93 L311.50,591.93 L311.50,595.12 L311.90,595.12 L311.90,597.00 L312.30,597.00 L312.30,598.25 L312.70,598.25 L312.70,598.37 L313.10,598.37 L313.10,598.46 L313.50,598.46 L313.50,598.51 L313.90,598.51 L313.90,598.64 L314.30,598.64 L314.30,597.93 L314.70,597.93 L314.70,598.78 L315.10,598.78 L315.10,598.40 L315.50,598.40 L315.50,598.30 L315.90,598.30 L315.90,598.55 L316.30,598.55 L316.30,598.08 L316.70,598.08 L316.70,598.71 L317.10,598.71 L317.10,598.48 L317.50,598.48 L317.50,598.71 L317.90,598.71 L317.90,597.35 L318.30,597.35 L318.30,598.77 L318.70,598.77 L318.70,598.47 L319.10,598.47 L319.10,598.65 L319.50,598.65 L319.50,598.24 L319.90,598.24 L319.90,598.83 L320.30,598.83 L320.30,598.72 L320.70,598.72 L320.70,598.44 L321.10,598.44 L321.10,598.70 L321.50,598.70 L321.50,598.19 L321.90,598.19 L321.90,598.78 L322.30,598.78 L322.30,598.48 L322.70,598.48 L322.70,598.55 L323.10,598.55 L323.10,598.42 L323.50,598.42 L323.50,598.52 L323.90,598.52 L323.90,598.78 L324.30,598.78 L324.30,598.09 L324.70,598.09 L324.70,598.84 L325.10,598.84 L325.10,598.56 L325.50,598.56 L325.50,598.53 L325.90,598.53 L325.90,598.70 L326.30,598.70 L326.30,596.71 L326.70,596.71 L326.70,598.56 L327.10,598.56 L327.10,598.77 L327.50,598.77 L327.50,597.01 L327.90,597.01 L327.90,598.64 L328.30,598.64 L328.30,598.44 L328.70,598.44 L328.70,598.69 L329.10,598.69 L329.10,598.40 L329.50,598.40 L329.50,598.48 L329.90,598.48 L330.00,599.30 Z" fill="#3dae4a" stroke="none"/>
<path d="M335.30,599.30 L335.30,597.08 L335.70,597.08 L335.70,598.76 L336.10,598.76 L336.10,598.64 L336.50,598.64 L336.50,598.51 L336.90,598.51 L336.90,598.58 L337.30,598.58 L337.30,598.76 L337.70,598.76 L337.70,598.58 L338.10,598.58 L338.10,598.75 L338.50,598.75 L338.50,598.44 L338.90,598.44 L338.90,598.52 L339.30,598.52 L339.30,598.23 L339.70,598.23 L339.70,598.43 L340.10,598.43 L340.10,598.64 L340.50,598.64 L340.50,598.62 L340.90,598.62 L340.90,598.69 L341.30,598.69 L341.30,598.24 L341.70,598.24 L341.70,598.64 L342.10,598.64 L342.10,598.65 L342.50,598.65 L342.50,598.76 L342.90,598.76 L342.90,598.64 L343.30,598.64 L343.30,598.70 L343.70,598.70 L343.70,598.82 L344.10,598.82 L344.10,598.82 L344.50,598.82 L344.50,598.30 L344.90,598.30 L344.90,598.76 L345.30,598.76 L345.30,598.38 L345.70,598.38 L345.70,598.41 L346.10,598.41 L346.10,598.73 L346.50,598.73 L346.50,598.55 L346.90,598.55 L346.90,598.08 L347.30,598.08 L347.30,598.64 L347.70,598.64 L347.70,598.60 L348.10,598.60 L348.10,598.56 L348.50,598.56 L348.50,598.80 L348.90,598.80 L348.90,598.52 L349.30,598.52 L349.30,598.84 L349.70,598.84 L349.70,598.61 L350.10,598.61 L350.10,598.74 L350.50,598.74 L350.50,598.32 L350.90,598.32 L350.90,598.15 L351.30,598.15 L351.30,598.10 L351.70,598.10 L351.70,598.78 L352.10,598.78 L352.10,598.63 L352.50,598.63 L352.50,598.71 L352.90,598.71 L352.90,598.70 L353.30,598.70 L353.30,598.44 L353.70,598.44 L353.70,598.41 L354.10,598.41 L354.10,598.60 L354.50,598.60 L354.50,598.56 L354.90,598.56 L354.90,598.61 L355.30,598.61 L355.30,598.60 L355.70,598.60 L355.70,598.79 L356.10,598.79 L356.10,598.62 L356.50,598.62 L356.50,598.84 L356.90,598.84 L356.90,598.46 L357.30,598.46 L357.30,598.83 L357.70,598.83 L357.70,598.55 L358.10,598.55 L358.10,598.69 L358.50,598.69 L358.50,598.16 L358.90,598.16 L358.90,597.86 L359.30,597.86 L359.30,596.47 L359.70,596.47 L359.70,593.89 L360.10,593.89 L360.10,590.99 L360.50,590.99 L360.50,587.76 L360.90,587.76 L360.90,591.10 L361.30,591.10 L361.30,594.63 L361.70,594.63 L361.70,597.94 L362.10,597.94 L362.10,598.28 L362.50,598.28 L362.50,598.71 L362.90,598.71 L362.90,598.23 L363.30,598.23 L363.30,598.14 L363.70,598.14 L363.70,598.69 L364.10,598.69 L364.10,598.37 L364.50,598.37 L364.50,598.28 L364.90,598.28 L364.90,598.79 L365.30,598.79 L365.30,598.23 L365.70,598.23 L365.70,598.65 L366.10,598.65 L366.10,598.58 L366.50,598.58 L366.50,598.76 L366.90,598.76 L366.90,598.56 L367.30,598.56 L367.30,598.65 L367.70,598.65 L367.70,597.96 L368.10,597.96 L368.10,596.76 L368.50,596.76 L368.50,591.24 L368.90,591.24 L368.90,585.72 L369.30,585.72 L369.30,587.46 L369.70,587.46 L369.70,591.82 L370.10,591.82 L370.10,596.06 L370.50,596.06 L370.50,597.70 L370.90,597.70 L370.90,597.63 L371.30,597.63 L371.30,598.26 L371.70,598.26 L371.70,598.57 L372.10,598.57 L372.10,598.61 L372.50,598.61 L372.50,598.74 L372.90,598.74 L372.90,598.75 L373.30,598.75 L373.30,598.79 L373.70,598.79 L373.70,598.63 L374.10,598.63 L374.10,598.52 L374.50,598.52 L374.50,598.66 L374.90,598.66 L374.90,598.29 L375.30,598.29 L375.30,598.62 L375.70,598.62 L375.70,598.78 L376.10,598.78 L376.10,598.18 L376.50,598.18 L376.50,598.79 L376.90,598.79 L376.90,598.46 L377.30,598.46 L377.30,598.32 L377.70,598.32 L377.70,598.51 L378.10,598.51 L378.10,598.47 L378.50,598.47 L378.50,598.52 L378.90,598.52 L378.90,598.78 L379.30,598.78 L379.30,598.76 L379.70,598.76 L379.70,598.70 L380.10,598.70 L380.10,599.30 Z" fill="#3dae4a" stroke="none"/>
<path d="M382.00,599.30 L382.00,598.53 L382.40,598.53 L382.40,598.58 L382.80,598.58 L382.80,598.83 L383.20,598.83 L383.20,598.60 L383.60,598.60 L383.60,598.54 L384.00,598.54 L384.00,598.10 L384.40,598.10 L384.40,598.08 L384.80,598.08 L384.80,598.16 L385.20,598.16 L385.20,597.48 L385.60,597.48 L385.60,597.77 L386.00,597.77 L386.00,598.11 L386.40,598.11 L386.40,597.86 L386.80,597.86 L386.80,597.94 L387.20,597.94 L387.20,598.35 L387.60,598.35 L387.60,598.25 L388.00,598.25 L388.00,598.35 L388.40,598.35 L388.40,598.17 L388.80,598.17 L388.80,598.09 L389.20,598.09 L389.20,597.77 L389.60,597.77 L389.60,597.81 L390.00,597.81 L390.00,597.53 L390.40,597.53 L390.40,598.08 L390.80,598.08 L390.80,597.92 L391.20,597.92 L391.20,597.98 L391.60,597.98 L391.60,598.02 L392.00,598.02 L392.00,598.23 L392.40,598.23 L392.40,598.03 L392.80,598.03 L392.80,597.90 L393.20,597.90 L393.20,598.27 L393.60,598.27 L393.60,598.09 L394.00,598.09 L394.00,597.27 L394.40,597.27 L394.40,597.59 L394.80,597.59 L394.80,597.72 L395.20,597.72 L395.20,597.61 L395.60,597.61 L395.60,597.91 L396.00,597.91 L396.00,597.95 L396.40,597.95 L396.40,597.02 L396.80,597.02 L396.80,597.51 L397.20,597.51 L397.20,597.59 L397.60,597.59 L397.60,597.08 L398.00,597.08 L398.00,597.86 L398.40,597.86 L398.40,597.51 L398.80,597.51 L398.80,597.47 L399.20,597.47 L399.20,597.55 L399.60,597.55 L399.60,596.77 L400.00,596.77 L400.00,594.81 L400.40,594.81 L400.40,592.94 L400.80,592.94 L400.80,593.39 L401.20,593.39 L401.20,592.96 L401.60,592.96 L401.60,594.66 L402.00,594.66 L402.00,594.10 L402.40,594.10 L402.40,591.33 L402.80,591.33 L402.80,586.21 L403.20,586.21 L403.20,588.71 L403.60,588.71 L403.60,593.65 L404.00,593.65 L404.00,597.48 L404.40,597.48 L404.40,598.04 L404.80,598.04 L404.80,598.05 L405.20,598.05 L405.20,598.45 L405.60,598.45 L405.60,598.43 L406.00,598.43 L406.00,597.18 L406.40,597.18 L406.40,598.68 L406.80,598.68 L406.80,598.82 L407.20,598.82 L407.20,598.65 L407.60,598.65 L407.60,598.60 L408.00,598.60 L408.00,598.36 L408.40,598.36 L408.40,598.43 L408.80,598.43 L409.00,599.30 Z" fill="#3dae4a" stroke="none"/>
<path d="M415.40,599.30 L415.40,598.71 L415.80,598.71 L415.80,598.65 L416.20,598.65 L416.20,598.64 L416.60,598.64 L416.60,598.84 L417.00,598.84 L417.00,598.30 L417.40,598.30 L417.40,598.50 L417.80,598.50 L417.80,598.82 L418.20,598.82 L418.20,598.63 L418.60,598.63 L418.60,598.21 L419.00,598.21 L419.00,598.76 L419.40,598.76 L419.40,598.47 L419.80,598.47 L419.80,598.61 L420.20,598.61 L420.20,598.49 L420.60,598.49 L420.60,598.34 L421.00,598.34 L421.00,598.76 L421.40,598.76 L421.40,598.72 L421.80,598.72 L421.80,598.45 L422.20,598.45 L422.20,598.79 L422.60,598.79 L422.60,598.66 L423.00,598.66 L423.00,598.58 L423.40,598.58 L423.40,598.68 L423.80,598.68 L423.80,598.66 L424.20,598.66 L424.20,598.40 L424.60,598.40 L424.60,598.54 L425.00,598.54 L425.00,598.51 L425.40,598.51 L425.40,598.82 L425.80,598.82 L425.80,598.35 L426.20,598.35 L426.20,598.82 L426.60,598.82 L426.60,598.13 L427.00,598.13 L427.00,598.23 L427.40,598.23 L427.40,598.46 L427.80,598.46 L427.80,598.32 L428.20,598.32 L428.20,598.30 L428.60,598.30 L428.60,598.13 L429.00,598.13 L429.00,597.70 L429.40,597.70 L429.40,596.87 L429.80,596.87 L429.80,596.54 L430.20,596.54 L430.20,596.15 L430.60,596.15 L430.60,595.04 L431.00,595.04 L431.00,582.98 L431.40,582.98 L431.40,581.76 L431.80,581.76 L431.80,588.60 L432.20,588.60 L432.20,591.16 L432.60,591.16 L432.60,592.59 L433.00,592.59 L433.00,595.21 L433.40,595.21 L433.40,597.24 L433.80,597.24 L433.80,598.26 L434.20,598.26 L434.20,598.40 L434.60,598.40 L434.60,598.43 L435.00,598.43 L435.00,598.54 L435.40,598.54 L435.40,598.53 L435.80,598.53 L435.80,598.80 L436.20,598.80 L436.20,598.31 L436.60,598.31 L436.60,598.05 L437.00,598.05 L437.00,598.66 L437.40,598.66 L437.40,598.72 L437.80,598.72 L437.80,598.61 L438.20,598.61 L438.20,598.36 L438.60,598.36 L438.60,598.78 L439.00,598.78 L439.00,598.25 L439.40,598.25 L439.40,598.48 L439.80,598.48 L439.80,598.52 L440.20,598.52 L440.20,598.38 L440.60,598.38 L440.60,598.48 L441.00,598.48 L441.00,598.47 L441.40,598.47 L441.40,598.57 L441.80,598.57 L441.80,598.76 L442.20,598.76 L442.20,598.44 L442.60,598.44 L442.60,598.83 L443.00,598.83 L443.00,598.45 L443.40,598.45 L443.40,598.68 L443.80,598.68 L443.80,598.45 L444.20,598.45 L444.20,598.78 L444.60,598.78 L444.70,599.30 Z" fill="#3dae4a" stroke="none"/>
<path d="M453.00,599.30 L453.00,598.84 L453.40,598.84 L453.40,598.41 L453.80,598.41 L453.80,597.95 L454.20,597.95 L454.20,598.68 L454.60,598.68 L454.60,598.62 L455.00,598.62 L455.00,598.78 L455.40,598.78 L455.40,598.83 L455.80,598.83 L455.80,598.73 L456.20,598.73 L456.20,598.78 L456.60,598.78 L456.60,598.64 L457.00,598.64 L457.00,598.63 L457.40,598.63 L457.40,598.68 L457.80,598.68 L457.80,598.81 L458.20,598.81 L458.20,598.60 L458.60,598.60 L458.60,598.54 L459.00,598.54 L459.00,598.50 L459.40,598.50 L459.40,598.75 L459.80,598.75 L459.80,598.73 L460.20,598.73 L460.20,598.55 L460.60,598.55 L460.60,598.54 L461.00,598.54 L461.00,598.60 L461.40,598.60 L461.40,598.84 L461.80,598.84 L461.80,598.65 L462.20,598.65 L462.20,598.48 L462.60,598.48 L462.60,598.80 L463.00,598.80 L463.00,598.57 L463.40,598.57 L463.40,598.47 L463.80,598.47 L463.80,598.68 L464.20,598.68 L464.20,598.68 L464.60,598.68 L464.60,598.78 L465.00,598.78 L465.00,598.50 L465.40,598.50 L465.40,598.63 L465.80,598.63 L465.80,598.65 L466.20,598.65 L466.20,598.72 L466.60,598.72 L466.60,598.49 L467.00,598.49 L467.00,598.10 L467.40,598.10 L467.40,597.82 L467.80,597.82 L467.80,597.69 L468.20,597.69 L468.20,597.46 L468.60,597.46 L468.60,596.42 L469.00,596.42 L469.00,597.38 L469.40,597.38 L469.40,597.50 L469.80,597.50 L469.80,596.32 L470.20,596.32 L470.20,596.38 L470.60,596.38 L470.60,595.02 L471.00,595.02 L471.00,597.53 L471.40,597.53 L471.40,596.55 L471.80,596.55 L471.80,598.22 L472.20,598.22 L472.20,597.69 L472.60,597.69 L472.60,597.57 L473.00,597.57 L473.00,597.66 L473.40,597.66 L473.40,598.15 L473.80,598.15 L473.80,598.14 L474.20,598.14 L474.20,598.40 L474.60,598.40 L474.60,598.63 L475.00,598.63 L475.00,598.33 L475.40,598.33 L475.40,598.00 L475.80,598.00 L475.80,598.25 L476.20,598.25 L476.20,598.35 L476.60,598.35 L476.60,598.74 L477.00,598.74 L477.00,598.57 L477.40,598.57 L477.40,598.72 L477.80,598.72 L477.80,598.57 L478.20,598.57 L478.20,598.80 L478.60,598.80 L478.60,598.26 L479.00,598.26 L479.00,597.94 L479.40,597.94 L479.40,598.75 L479.80,598.75 L479.80,598.55 L480.20,598.55 L480.20,598.54 L480.60,598.54 L480.60,598.44 L481.00,598.44 L481.00,598.28 L481.40,598.28 L481.40,598.64 L481.80,598.64 L481.80,598.77 L482.20,598.77 L482.40,599.30 Z" fill="#3dae4a" stroke="none"/>
<path d="M485.20,599.30 L485.20,598.45 L485.60,598.45 L485.60,598.58 L486.00,598.58 L486.00,598.45 L486.40,598.45 L486.40,597.72 L486.80,597.72 L486.80,598.34 L487.20,598.34 L487.20,598.85 L487.60,598.85 L487.60,598.35 L488.00,598.35 L488.00,598.83 L488.40,598.83 L488.40,598.68 L488.80,598.68 L488.80,598.70 L489.20,598.70 L489.20,598.64 L489.60,598.64 L489.60,598.13 L490.00,598.13 L490.00,598.12 L490.40,598.12 L490.40,598.85 L490.80,598.85 L490.80,598.69 L491.20,598.69 L491.20,598.63 L491.60,598.63 L491.60,598.56 L492.00,598.56 L492.00,598.62 L492.40,598.62 L492.40,598.52 L492.80,598.52 L492.80,596.94 L493.20,596.94 L493.20,598.64 L493.60,598.64 L493.60,598.59 L494.00,598.59 L494.00,598.44 L494.40,598.44 L494.40,598.50 L494.80,598.50 L494.80,598.73 L495.20,598.73 L495.20,598.09 L495.60,598.09 L495.60,597.75 L496.00,597.75 L496.00,597.97 L496.40,597.97 L496.40,598.11 L496.80,598.11 L496.80,597.69 L497.20,597.69 L497.20,597.79 L497.60,597.79 L497.60,598.12 L498.00,598.12 L498.00,597.77 L498.40,597.77 L498.40,597.22 L498.80,597.22 L498.80,597.63 L499.20,597.63 L499.20,597.62 L499.60,597.62 L499.60,598.06 L500.00,598.06 L500.00,597.85 L500.40,597.85 L500.40,598.20 L500.80,598.20 L500.80,598.34 L501.20,598.34 L501.20,598.17 L501.60,598.17 L501.60,597.53 L502.00,597.53 L502.00,597.36 L502.40,597.36 L502.40,597.50 L502.80,597.50 L502.80,596.67 L503.20,596.67 L503.20,597.66 L503.60,597.66 L503.60,597.88 L504.00,597.88 L504.00,598.01 L504.40,598.01 L504.40,597.65 L504.80,597.65 L504.80,597.93 L505.20,597.93 L505.20,598.45 L505.60,598.45 L505.60,598.37 L506.00,598.37 L506.00,598.26 L506.40,598.26 L506.40,597.86 L506.80,597.86 L506.80,598.23 L507.20,598.23 L507.20,597.86 L507.60,597.86 L507.60,597.95 L508.00,597.95 L508.00,598.18 L508.40,598.18 L508.40,598.65 L508.80,598.65 L508.80,598.24 L509.20,598.24 L509.20,598.21 L509.60,598.21 L509.60,598.54 L510.00,598.54 L510.00,598.75 L510.40,598.75 L510.40,598.63 L510.80,598.63 L510.80,598.62 L511.20,598.62 L511.20,598.52 L511.60,598.52 L511.60,598.65 L512.00,598.65 L512.00,598.68 L512.40,598.68 L512.40,598.31 L512.80,598.31 L513.00,599.30 Z" fill="#3dae4a" stroke="none"/>
</svg></body></html>
